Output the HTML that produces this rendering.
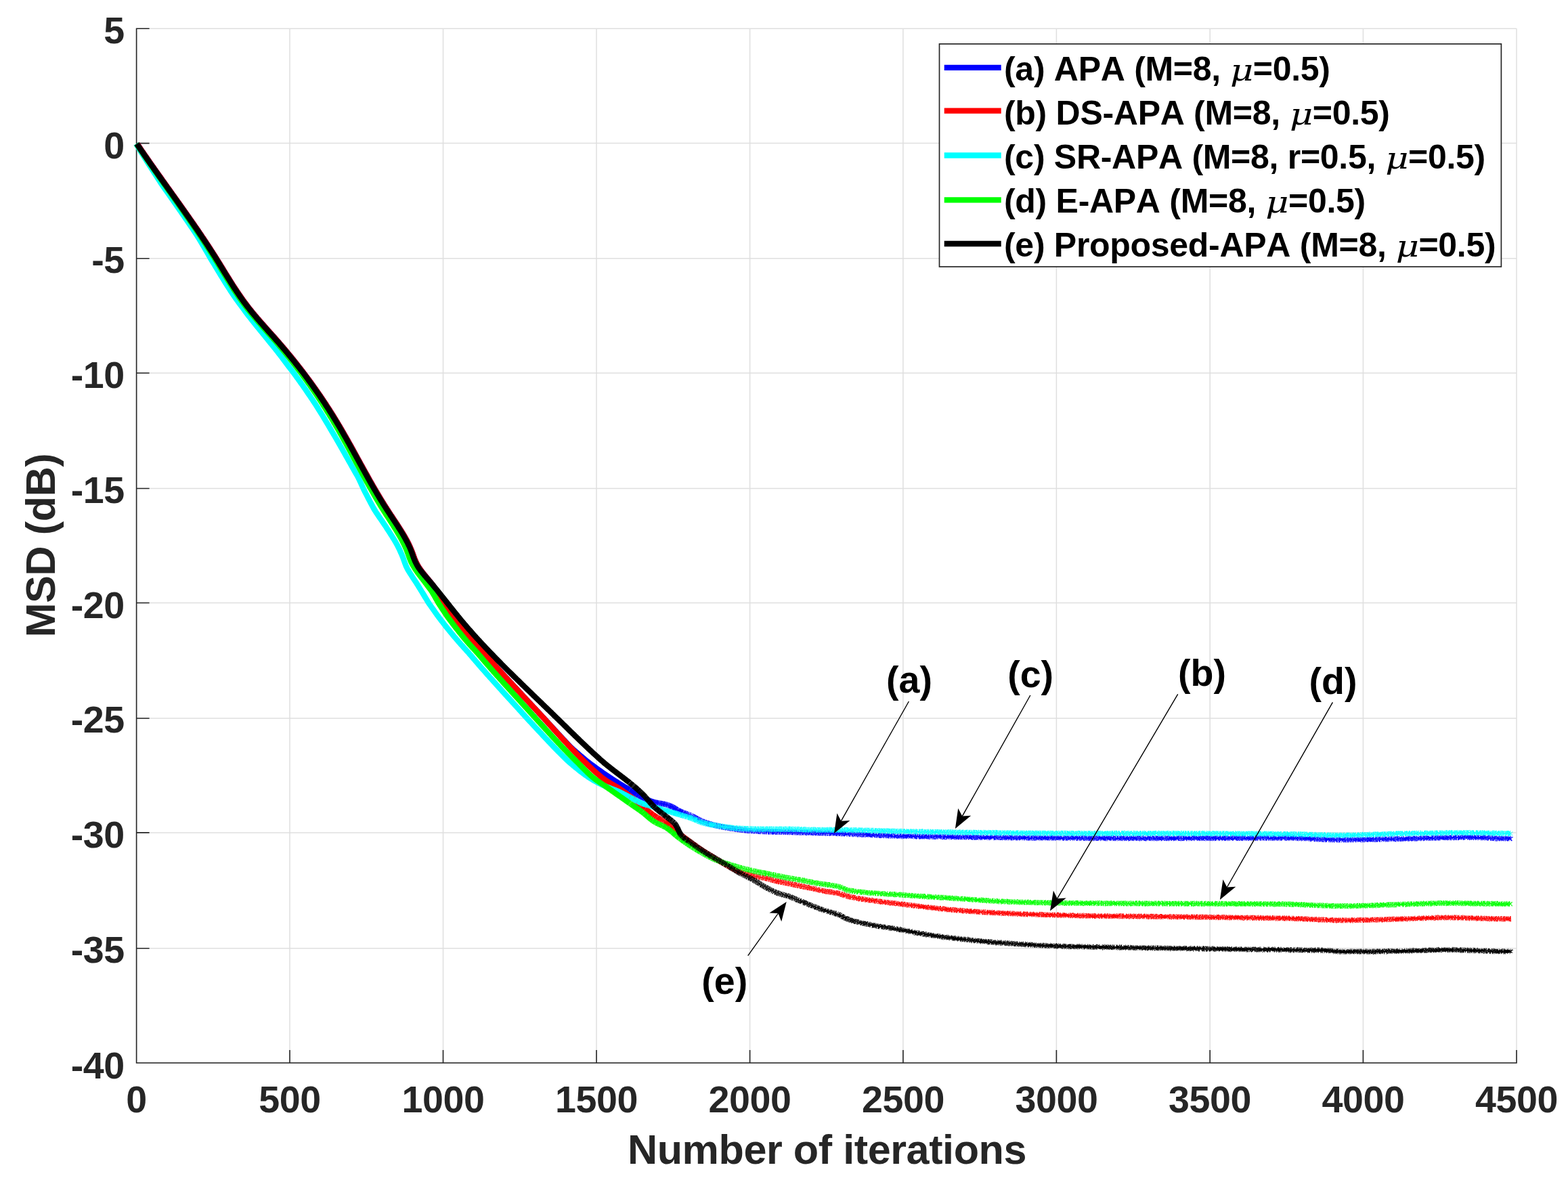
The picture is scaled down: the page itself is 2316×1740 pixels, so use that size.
<!DOCTYPE html>
<html lang="en"><head><meta charset="utf-8"><title>MSD learning curves</title>
<style>html,body{margin:0;padding:0;background:#fff}body{width:2316px;height:1740px;overflow:hidden}svg{display:block}text{font-family:"Liberation Sans",Arial,Helvetica,sans-serif;font-weight:bold}.tk{font-size:55.56px;fill:#262626;font-kerning:none;letter-spacing:-0.4px}.lb{font-size:61.1px;fill:#262626;font-kerning:none;letter-spacing:-0.42px}.lg{font-size:50px;fill:#000;font-kerning:none;letter-spacing:-0.29px;white-space:pre}.an{font-size:55.56px;fill:#000;font-kerning:none}.mu{font-family:"DejaVu Serif","Liberation Serif",serif;font-style:italic;font-weight:normal;font-size:44px;fill:#000}.cv{fill:none;stroke-width:8.3;stroke-linejoin:bevel;stroke-linecap:butt}.cn{fill:none;stroke-width:830;stroke-linecap:butt}</style></head><body>
<svg xmlns="http://www.w3.org/2000/svg" width="2316" height="1740" viewBox="0 0 2316 1740">
<rect width="2316" height="1740" fill="#fff"/>
<path d="M201.6,42.2V1570.0M428.0,42.2V1570.0M654.5,42.2V1570.0M881.0,42.2V1570.0M1107.6,42.2V1570.0M1333.9,42.2V1570.0M1560.4,42.2V1570.0M1787.2,42.2V1570.0M2013.4,42.2V1570.0M2240.0,42.2V1570.0M201.6,42.2H2240.0M201.6,211.6H2240.0M201.6,381.8H2240.0M201.6,551.0H2240.0M201.6,721.5H2240.0M201.6,890.5H2240.0M201.6,1061.0H2240.0M201.6,1229.9H2240.0M201.6,1400.7H2240.0M201.6,1570.0H2240.0" stroke="#dfdfdf" stroke-width="1.5" fill="none"/>
<path d="M201.6,41.4V1570.0H2240.8M201.6,1570.0v-19.0M428.0,1570.0v-19.0M654.5,1570.0v-19.0M881.0,1570.0v-19.0M1107.6,1570.0v-19.0M1333.9,1570.0v-19.0M1560.4,1570.0v-19.0M1787.2,1570.0v-19.0M2013.4,1570.0v-19.0M2240.0,1570.0v-19.0M201.6,42.2h19.0M201.6,211.6h19.0M201.6,381.8h19.0M201.6,551.0h19.0M201.6,721.5h19.0M201.6,890.5h19.0M201.6,1061.0h19.0M201.6,1229.9h19.0M201.6,1400.7h19.0M201.6,1570.0h19.0" stroke="#262626" stroke-width="1.6" fill="none"/>
<path class="cv" stroke="#0000ff" d="M202.6,212.5l1.5 2.2l1.5 2.2l1.5 2.2l1.5 2.2l1.5 2.2l1.5 2.2l1.5 2.2l1.5 2.1l1.5 2.2l1.5 2.2l1.5 2.1l1.5 2.2l1.5 2.1l1.5 2.2l1.5 2.1l1.5 2.1l1.5 2.1l1.5 2.2l1.5 2.1l1.5 2.1l1.5 2.1l1.5 2.1l1.5 2.1l1.5 2.1l1.5 2.2l1.5 2.1l1.5 2.1l1.5 2.1l1.5 2.1l1.5 2.1l1.5 2.1l1.5 2.1l1.5 2.1l1.5 2.1l1.5 2.1l1.5 2.1l1.5 2.1l1.5 2.1l1.5 2.1l1.5 2.1l1.5 2.1l1.5 2.1l1.5 2.1l1.5 2.1l1.5 2.1l1.5 2.2l1.5 2.1l1.5 2.1l1.5 2.1l1.5 2.2l1.5 2.1l1.5 2.2l1.5 2.1l1.5 2.2l1.5 2.1l1.5 2.2l1.5 2.2l1.5 2.1l1.5 2.2l1.5 2.2l1.5 2.2l1.5 2.2l1.5 2.2l1.5 2.3l1.5 2.2l1.5 2.2l1.5 2.3l1.5 2.2l1.5 2.3l1.5 2.3l1.5 2.3l1.5 2.3l1.5 2.3l1.5 2.3l1.5 2.4l1.5 2.3l1.5 2.4l1.5 2.4l1.5 2.4l1.5 2.4l1.5 2.4l1.5 2.4l1.5 2.5l1.5 2.4l1.5 2.5l1.5 2.4l1.5 2.5l1.5 2.4l1.5 2.4l1.5 2.4l1.5 2.4l1.5 2.4l1.5 2.4l1.5 2.4l1.5 2.3l1.5 2.3l1.5 2.3l1.5 2.3l1.5 2.2l1.5 2.3l1.5 2.1l1.5 2.2l1.5 2.1l1.5 2.2l1.5 2l1.5 2.1l1.5 2l1.5 2l1.5 2l1.5 1.9l1.5 1.9l1.5 1.9l1.5 1.8l1.5 1.9l1.5 1.8l1.5 1.8l1.5 1.7l1.5 1.8l1.5 1.8l1.5 1.7l1.5 1.7l1.5 1.7l1.5 1.7l1.5 1.7l1.5 1.7l1.5 1.7l1.5 1.7l1.5 1.7l1.5 1.7l1.5 1.6l1.5 1.7l1.5 1.7l1.5 1.7l1.5 1.6l1.5 1.7l1.5 1.7l1.5 1.7l1.5 1.7l1.5 1.7l1.5 1.8l1.5 1.7l1.5 1.7l1.5 1.8l1.5 1.7l1.5 1.8l1.5 1.8l1.5 1.8l1.5 1.8l1.5 1.8l1.5 1.8l1.5 1.8l1.5 1.8l1.5 1.9l1.5 1.8l1.5 1.9l1.5 1.9l1.5 1.9l1.5 1.9l1.5 1.9l1.5 1.9l1.5 1.9l1.5 2l1.5 1.9l1.5 2l1.5 2l1.5 2l1.5 2l1.5 2l1.5 2l1.5 2.1l1.5 2l1.5 2.1l1.5 2.1l1.5 2.1l1.5 2.1l1.5 2.1l1.5 2.2l1.5 2.1l1.5 2.2l1.5 2.2l1.5 2.2l1.5 2.2l1.5 2.2l1.5 2.3l1.5 2.2l1.5 2.3l1.5 2.3l1.5 2.3l1.5 2.3l1.5 2.4l1.5 2.4l1.5 2.3l1.5 2.4l1.5 2.5l1.5 2.4l1.5 2.5l1.5 2.4l1.5 2.5l1.5 2.5l1.5 2.6l1.5 2.5l1.5 2.6l1.5 2.6l1.5 2.6l1.5 2.6l1.5 2.7l1.5 2.6l1.5 2.7l1.5 2.7l1.5 2.6l1.5 2.7l1.5 2.7l1.5 2.8l1.5 2.7l1.5 2.7l1.5 2.7l1.5 2.8l1.5 2.7l1.5 2.7l1.5 2.8l1.5 2.7l1.5 2.7l1.5 2.7l1.5 2.7l1.5 2.7l1.5 2.7l1.5 2.7l1.5 2.7l1.5 2.7l1.5 2.6l1.5 2.6l1.5 2.7l1.5 2.6l1.5 2.5l1.5 2.6l1.5 2.6l1.5 2.5l1.5 2.5l1.5 2.5l1.5 2.5l1.5 2.4l1.5 2.5l1.5 2.4l1.5 2.4l1.5 2.3l1.5 2.4l1.5 2.3l1.5 2.3l1.5 2.3l1.5 2.3l1.5 2.2l1.5 2.3l1.5 2.3l1.5 2.2l1.5 2.3l1.5 2.3l1.5 2.3l1.5 2.3l1.5 2.4l1.5 2.4l1.5 2.4l1.5 2.5l1.5 2.5l1.5 2.6l1.5 2.7l1.5 2.8l1.5 2.9l1.5 3.1l1.5 3.3l1.5 3.5l1.5 3.9l1.5 4.1l1.5 4.2l1.5 3.7l1.5 3.3l1.5 2.8l1.5 2.6l1.5 2.3l1.5 2.1l1.5 2.1l1.5 2l1.5 1.9l1.5 1.9l1.5 1.8l1.5 1.8l1.5 1.8l1.5 1.9l1.5 1.8l1.5 1.8l1.5 1.9l1.5 1.9l1.5 2l1.5 2.2l1.5 2.4l1.5 2.4l1.5 2.4l1.5 2.4l1.5 2.4l1.5 2.4l1.5 2.5l1.5 2.4l1.5 2.4l1.5 2.5l1.5 2.4l1.5 2.5l1.5 2.4l1.5 2.5l1.5 2.4l1.5 2.4l1.5 2.3l1.5 2.1l1.5 1.9l1.5 2l1.5 1.9l1.5 1.8l1.5 1.9l1.5 1.9l1.5 1.8l1.5 1.8l1.5 1.8l1.5 1.8l1.5 1.8l1.5 1.8l1.5 1.8l1.5 1.7l1.5 1.8l1.5 1.7l1.5 1.7l1.5 1.8l1.5 1.6l1.5 1.7l1.5 1.7l1.5 1.7l1.5 1.6l1.5 1.7l1.5 1.6l1.5 1.6l1.5 1.6l1.5 1.6l1.5 1.6l1.5 1.7l1.5 1.6l1.5 1.7l1.5 1.7l1.5 1.7l1.5 1.7l1.5 1.8l1.5 1.7l1.5 1.7l1.5 1.6l1.5 1.7l1.5 1.7l1.5 1.7l1.5 1.6l1.5 1.7l1.5 1.7l1.5 1.6l1.5 1.7l1.5 1.6l1.5 1.7l1.5 1.6l1.5 1.7l1.5 1.6l1.5 1.6l1.5 1.7l1.5 1.6l1.5 1.6l1.5 1.6l1.5 1.6l1.5 1.7l1.5 1.6l1.5 1.6l1.5 1.6l1.5 1.6l1.5 1.6l1.5 1.6l1.5 1.6l1.5 1.6l1.5 1.7l1.5 1.6l1.5 1.6l1.5 1.6l1.5 1.6l1.5 1.6l1.5 1.6l1.5 1.6l1.5 1.6l1.5 1.6l1.5 1.6l1.5 1.6l1.5 1.6l1.5 1.6l1.5 1.6l1.5 1.6l1.5 1.6l1.5 1.7l1.5 1.6l1.5 1.6l1.5 1.6l1.5 1.6l1.5 1.6l1.5 1.7l1.5 1.6l1.5 1.6l1.5 1.7l1.5 1.6l1.5 1.6l1.5 1.7l1.5 1.6l1.5 1.6l1.5 1.7l1.5 1.6l1.5 1.6l1.5 1.6l1.5 1.7l1.5 1.6l1.5 1.6l1.5 1.6l1.5 1.6l1.5 1.6l1.5 1.6l1.5 1.6l1.5 1.6l1.5 1.6l1.5 1.6l1.5 1.5l1.5 1.5l1.5 1.5l1.5 1.4l1.5 1.4l1.5 1.3l1.5 1.3l1.5 1.2l1.5 1.3l1.5 1.3l1.5 1.3l1.5 1.3l1.5 1.2l1.5 1.3l1.5 1.3l1.5 1.3l1.5 1.2l1.5 1.2l1.5 1.2l1.5 1.1l1.5 1.2l1.5 1.1l1.5 1.1l1.5 1.1l1.5 1.1l1.5 1.1l1.5 1.1l1.5 1.1l1.5 1.1l1.5 1l1.5 1.1l1.5 1l1.5 1.1l1.5 1l1.5 1l1.5 1.1l1.5 1l1.5 1l1.5 1l1.5 1l1.5 1l1.5 1l1.5 1l1.5 .9l1.5 1l1.5 1l1.5 .9l1.5 1l1.5 .9l1.5 1l1.5 .9l1.5 .9l1.5 .9l1.5 .9l1.5 .9l1.5 .9l1.5 .8l1.5 .9l2.9 1.8"/>
<path class="cn" stroke="#0000ff" transform="scale(.01)" d="M93000,116655l45 27m0 0l46 27m0 0l45 28m0 0l45 28m0 0l45 28m0 0l46 28m0 0l45 29m0 0l45 28m0 0l46 29m0 0l45 28m0 0l45 29m0 0l46 29m0 0l45 29m0 0l45 29m0 0l45 29m0 0l46 29m0 0l45 29m0 0l45 29m0 0l46 29m0 0l45 28m0 0l45 29m0 0l46 29m0 0l45 28m0 0l45 27m0 0l45 28m0 0l46 28m0 0l45 28m0 0l45 27m0 0l46 27m0 0l45 27m0 0l45 26m0 0l46 26m0 0l45 26m0 0l45 25m0 0l45 25m0 0l46 24m0 0l45 23m0 0l45 24m0 0l46 23m0 0l45 22m0 0l45 22m0 0l46 22m0 0l45 21m0 0l45 22m0 0l45 22m0 0l46 21m0 0l45 21m0 0l45 22m0 0l46 21m0 0l45 21m0 0l45 20m0 0l45 21m0 0l46 20m0 0l45 21m0 0l45 19m0 0l46 21m0 0l45 19m0 0l45 19m0 0l46 20m0 0l45 19m0 0l45 19m0 0l45 17m0 0l46 19m0 0l45 19m0 0l45 17m0 0l46 18m0 0l45 17m0 0l45 16m0 0l46 18m0 0l45 17m0 0l45 14m0 0l45 16m0 0l46 16m0 0l45 15m0 0l45 15m0 0l46 13m0 0l45 13m0 0l45 14m0 0l46 13m0 0l45 14m0 0l45 11m0 0l45 10m0 0l46 12m0 0l45 13m0 0l45 10m0 0l46 9m0 0l45 10m0 0l45 10m0 0l46 9m0 0l45 10m0 0l45 8m0 0l45 8m0 0l46 8m0 0l45 9m0 0l45 4m0 0l46 10m0 0l45 8m0 0l45 6m0 0l45 9m0 0l46 7m0 0l45 9m0 0l45 6m0 0l46 9m0 0l45 8m0 0l45 6m0 0l46 7m0 0l45 7m0 0l45 12m0 0l45 6m0 0l46 8m0 0l45 9m0 0l45 9m0 0l46 11m0 0l45 8m0 0l45 10m0 0l46 9m0 0l45 13m0 0l45 9m0 0l45 13m0 0l46 13m0 0l45 9m0 0l45 12m0 0l46 18m0 0l45 17m0 0l45 10m0 0l46 16m0 0l45 19m0 0l45 15m0 0l45 18m0 0l46 18m0 0l45 20m0 0l45 18m0 0l46 20m0 0l45 19m0 0l45 19m0 0l45 21m0 0l46 20m0 0l45 23m0 0l45 19m0 0l46 22m0 0l45 26m0 0l45 20m0 0l46 25m0 0l45 26m0 0l45 26m0 0l45 27m0 0l46 30m0 0l45 29m0 0l45 27m0 0l46 32m0 0l45 28m0 0l45 29m0 0l46 30m0 0l45 30m0 0l45 32m0 0l45 23m0 0l46 30m0 0l45 22m0 0l45 29m0 0l46 25m0 0l45 20m0 0l45 21m0 0l46 23m0 0l45 22m0 0l45 21m0 0l45 22m0 0l46 16m0 0l45 18m0 0l45 20m0 0l46 18m0 0l45 19m0 0l45 18m0 0l46 18m0 0l45 13m0 0l45 23m0 0l45 14m0 0l46 16m0 0l45 21m0 0l45 18m0 0l46 15m0 0l45 16m0 0l45 14m0 0l45 26m0 0l46 11m0 0l45 12m0 0l45 17m0 0l46 19m0 0l45 13m0 0l45 21m0 0l46 15m0 0l45 22m0 0l45 17m0 0l45 7m0 0l46 26m0 0l45 13m0 0l45 26m0 0l46 16m0 0l45 21m0 0l45 14m0 0l46 29m0 0l45 20m0 0l45 11m0 0l45 26m0 0l46 18m0 0l45 24m0 0l45 19m0 0l46 33m0 0l45 14m0 0l45 25m0 0l46 27m0 0l45 20m0 0l45 25m0 0l45 23m0 0l46 26m0 0l45 21m0 0l45 28m0 0l46 25m0 0l45 25m0 0l45 26m0 0l46 23m0 0l45 29m0 0l45 20m0 0l45 26m0 0l46 22m0 0l45 24m0 0l45 21m0 0l46 31m0 0l45 17m0 0l45 25m0 0l45 27m0 0l46 22m0 0l45 19m0 0l45 15m0 0l46 31m0 0l45 20m0 0l45 13m0 0l46 28m0 0l45 13m0 0l45 17m0 0l45 22m0 0l46 16m0 0l45 19m0 0l45 8m0 0l46 32m0 0l45 5m0 0l45 12m0 0l46 25m0 0l45 12m0 0l45 18m0 0l45 12m0 0l46 17m0 0l45 16m0 0l45 10m0 0l46 21m0 0l45 9m0 0l45 13m0 0l46 18m0 0l45 16m0 0l45 10m0 0l45 11m0 0l46 20m0 0l45 2m0 0l45 17m0 0l46 18m0 0l45 6m0 0l45 19m0 0l46 12m0 0l45 18m0 0l45 3m0 0l45 13m0 0l46 17m0 0l45-3m0 0l45 41m0 0l46-8m0 0l45 11m0 0l45 20m0 0l45 7m0 0l46 1m0 0l45 25m0 0l45 12m0 0l46 3m0 0l45 12m0 0l45 15m0 0l46 3m0 0l45 18m0 0l45 9m0 0l45 5m0 0l46 6m0 0l45 17m0 0l45 6m0 0l46 20m0 0l45 5m0 0l45 13m0 0l46 6m0 0l45 10m0 0l45 3m0 0l45 18m0 0l46 16m0 0l45-3m0 0l45 7m0 0l46 11m0 0l45 7m0 0l45 8m0 0l46 14m0 0l45 6m0 0l45 19m0 0l45-1m0 0l46 11m0 0l45 12m0 0l45 1m0 0l46 19m0 0l45-5m0 0l45 7m0 0l46 11m0 0l45 9m0 0l45 0m0 0l45 17m0 0l46-3m0 0l45 28m0 0l45-2m0 0l46 4m0 0l45 6m0 0l45 11m0 0l45 9m0 0l46 2m0 0l45 8m0 0l45 13m0 0l46 5m0 0l45 18m0 0l45 9m0 0l46-1m0 0l45 11m0 0l45-6m0 0l45 21m0 0l46 3m0 0l45 11m0 0l45 15m0 0l46-21m0 0l45 25m0 0l45-3m0 0l46 20m0 0l45-8m0 0l45 13m0 0l45 12m0 0l46 10m0 0l45 2m0 0l45 0m0 0l46 8m0 0l45 18m0 0l45-1m0 0l46-6m0 0l45 25m0 0l45 3m0 0l45 9m0 0l46-3m0 0l45 15m0 0l45-9m0 0l46 18m0 0l45-3m0 0l45 15m0 0l45 8m0 0l46-8m0 0l45 11m0 0l45 6m0 0l46 14m0 0l45 2m0 0l45-11m0 0l46 19m0 0l45 8m0 0l45 17m0 0l45-27m0 0l46 15m0 0l45 21m0 0l45-18m0 0l46 6m0 0l45 20m0 0l45 9m0 0l46-10m0 0l45 16m0 0l45 1m0 0l45 16m0 0l46-8m0 0l45 13m0 0l45-12m0 0l46 11m0 0l45 5m0 0l45 15m0 0l46-1m0 0l45-8m0 0l45 17m0 0l45 5m0 0l46-4m0 0l45 2m0 0l45 5m0 0l46-11m0 0l45 21m0 0l45 4m0 0l46-7m0 0l45 18m0 0l45-16m0 0l45 10m0 0l46 4m0 0l45 26m0 0l45-31m0 0l46 23m0 0l45 7m0 0l45-3m0 0l45 11m0 0l46-19m0 0l45-10m0 0l45 33m0 0l46-17m0 0l45 11m0 0l45-6m0 0l46 25m0 0l45 0m0 0l45-13m0 0l45 18m0 0l46-5m0 0l45-1m0 0l45 5m0 0l46-1m0 0l45 11m0 0l45-1m0 0l46-5m0 0l45 16m0 0l45-15m0 0l45 12m0 0l46 3m0 0l45 13m0 0l45-19m0 0l46 26m0 0l45-15m0 0l45-2m0 0l46-3m0 0l45 15m0 0l45-4m0 0l45-11m0 0l46 1m0 0l45 8m0 0l45 0m0 0l46 21m0 0l45 5m0 0l45-4m0 0l46-4m0 0l45-7m0 0l45 7m0 0l45 10m0 0l46 16m0 0l45-12m0 0l45-12m0 0l46 4m0 0l45-4m0 0l45-2m0 0l45 8m0 0l46 6m0 0l45 20m0 0l45-19m0 0l46 16m0 0l45 6m0 0l45-18m0 0l46 19m0 0l45-9m0 0l45-12m0 0l45 9m0 0l46-2m0 0l45-2m0 0l45 2m0 0l46 5m0 0l45 5m0 0l45-15m0 0l46 12m0 0l45-17m0 0l45 22m0 0l45 6m0 0l46-5m0 0l45 3m0 0l45 5m0 0l46-15m0 0l45 7m0 0l45 10m0 0l46 7m0 0l45-6m0 0l45 28m0 0l45-32m0 0l46 15m0 0l45 4m0 0l45-17m0 0l46-7m0 0l45-4m0 0l45 18m0 0l46 14m0 0l45-10m0 0l45 0m0 0l45-6m0 0l46 13m0 0l45-34m0 0l45 32m0 0l46-2m0 0l45-17m0 0l45 47m0 0l45-46m0 0l46 6m0 0l45-1m0 0l45 32m0 0l46-26m0 0l45 22m0 0l45 0m0 0l46-3m0 0l45-20m0 0l45 10m0 0l45 33m0 0l46-40m0 0l45 8m0 0l45 10m0 0l46 15m0 0l45-7m0 0l45 8m0 0l46-24m0 0l45 29m0 0l45-4m0 0l45-29m0 0l46 46m0 0l45 11m0 0l45-41m0 0l46 13m0 0l45 20m0 0l45-40m0 0l46-6m0 0l45 11m0 0l45 12m0 0l45 1m0 0l46 18m0 0l45-3m0 0l45-21m0 0l46 27m0 0l45 21m0 0l45-9m0 0l46-2m0 0l45-13m0 0l45 16m0 0l45-28m0 0l46 27m0 0l45-11m0 0l45 19m0 0l46-8m0 0l45-22m0 0l45 19m0 0l45 18m0 0l46-34m0 0l45 10m0 0l45-2m0 0l46-10m0 0l45 39m0 0l45 6m0 0l46-6m0 0l45-8m0 0l45-3m0 0l45 6m0 0l46-14m0 0l45 27m0 0l45 3m0 0l46 0m0 0l45-22m0 0l45 11m0 0l46-2m0 0l45 32m0 0l45-24m0 0l45-32m0 0l46 38m0 0l45 24m0 0l45-17m0 0l46 4m0 0l45-12m0 0l45-31m0 0l46 4m0 0l45 10m0 0l45 20m0 0l45 8m0 0l46 7m0 0l45-15m0 0l45 22m0 0l46-19m0 0l45-5m0 0l45 26m0 0l45-27m0 0l46-29m0 0l45 29m0 0l45 20m0 0l46-51m0 0l45 46m0 0l45 2m0 0l46-17m0 0l45 0m0 0l45 18m0 0l45 0m0 0l46 32m0 0l45-14m0 0l45-31m0 0l46 13m0 0l45 28m0 0l45 21m0 0l46-24m0 0l45 0m0 0l45 28m0 0l45-31m0 0l46-4m0 0l45-18m0 0l45 17m0 0l46 48m0 0l45-61m0 0l45 26m0 0l46-24m0 0l45 28m0 0l45 15m0 0l45-19m0 0l46 18m0 0l45 1m0 0l45-3m0 0l46 23m0 0l45-15m0 0l45-18m0 0l46-5m0 0l45-2m0 0l45 25m0 0l45-13m0 0l46 55m0 0l45-14m0 0l45-36m0 0l46-1m0 0l45 38m0 0l45-63m0 0l45 27m0 0l46 26m0 0l45-32m0 0l45 9m0 0l46 3m0 0l45 20m0 0l45-8m0 0l46 6m0 0l45 4m0 0l45-9m0 0l45 21m0 0l46-32m0 0l45-12m0 0l45-5m0 0l46 4m0 0l45 21m0 0l45 31m0 0l46-15m0 0l45-13m0 0l45-8m0 0l45 12m0 0l46 3m0 0l45-2m0 0l45-15m0 0l46 20m0 0l45 29m0 0l45-59m0 0l46 38m0 0l45-35m0 0l45 46m0 0l45-17m0 0l46-24m0 0l45 43m0 0l45 34m0 0l46-31m0 0l45 21m0 0l45-22m0 0l46-39m0 0l45 53m0 0l45-17m0 0l45-18m0 0l46 45m0 0l45-9m0 0l45-14m0 0l46 29m0 0l45-33m0 0l45 31m0 0l45-30m0 0l46 31m0 0l45-31m0 0l45 53m0 0l46-23m0 0l45 25m0 0l45-43m0 0l46 8m0 0l45 28m0 0l45-70m0 0l45 35m0 0l46 44m0 0l45-10m0 0l45 12m0 0l46-24m0 0l45 19m0 0l45-25m0 0l46-11m0 0l45-5m0 0l45 25m0 0l45 2m0 0l46 0m0 0l45-58m0 0l45 33m0 0l46 32m0 0l45 19m0 0l45-16m0 0l46-5m0 0l45-27m0 0l45 91m0 0l45-63m0 0l46 60m0 0l45-1m0 0l45-25m0 0l46-16m0 0l45 17m0 0l45-25m0 0l46 32m0 0l45-4m0 0l45 13m0 0l45 11m0 0l46 18m0 0l45-42m0 0l45 32m0 0l46-37m0 0l45 0m0 0l45 8m0 0l45-6m0 0l46 43m0 0l45 1m0 0l45 10m0 0l46-26m0 0l45 9m0 0l45-17m0 0l46-10m0 0l45 36m0 0l45-1m0 0l45-28m0 0l46 39m0 0l45-49m0 0l45 36m0 0l46-7m0 0l45 4m0 0l45-10m0 0l46 46m0 0l45-6m0 0l45 16m0 0l45-21m0 0l46-30m0 0l45 23m0 0l45-16m0 0l46 38m0 0l45 19m0 0l45-17m0 0l46-19m0 0l45 7m0 0l45 15m0 0l45-34m0 0l46 37m0 0l45 3m0 0l45-14m0 0l46 5m0 0l45 15m0 0l45-20m0 0l46 2m0 0l45 38m0 0l45-10m0 0l45 35m0 0l46-58m0 0l45-16m0 0l45 64m0 0l46 2m0 0l45-36m0 0l45-14m0 0l45 34m0 0l46-37m0 0l45 35m0 0l45-40m0 0l46 46m0 0l45-41m0 0l45 45m0 0l46 43m0 0l45-39m0 0l45 26m0 0l45-30m0 0l46-4m0 0l45-12m0 0l45 61m0 0l46-24m0 0l45 42m0 0l45-63m0 0l46 24m0 0l45 9m0 0l45 33m0 0l45 12m0 0l46-56m0 0l45-9m0 0l45-12m0 0l46 74m0 0l45-31m0 0l45-11m0 0l46 16m0 0l45-58m0 0l45 22m0 0l45 65m0 0l46-10m0 0l45-4m0 0l45-26m0 0l46 40m0 0l45 31m0 0l45-70m0 0l45 32m0 0l46-9m0 0l45 21m0 0l45-6m0 0l46-2m0 0l45-16m0 0l45 23m0 0l46-13m0 0l45 14m0 0l45 4m0 0l45 19m0 0l46-28m0 0l45 8m0 0l45 36m0 0l46-30m0 0l45 1m0 0l45 30m0 0l46-13m0 0l45-3m0 0l45 5m0 0l45-34m0 0l46 44m0 0l45 23m0 0l45-16m0 0l46-51m0 0l45 47m0 0l45-28m0 0l46 19m0 0l45 11m0 0l45-32m0 0l45 65m0 0l46-33m0 0l45 23m0 0l45-2m0 0l46 20m0 0l45-2m0 0l45-66m0 0l46 40m0 0l45-54m0 0l45 45m0 0l45 31m0 0l46 7m0 0l45 11m0 0l45-41m0 0l46 19m0 0l45-4m0 0l45 32m0 0l45 9m0 0l46-48m0 0l45 108m0 0l45-96m0 0l46-8m0 0l45 26m0 0l45 6m0 0l46-4m0 0l45-30m0 0l45 57m0 0l45-36m0 0l46 40m0 0l45-2m0 0l45-68m0 0l46 9m0 0l45 0m0 0l45 34m0 0l46-4m0 0l45 7m0 0l45-27m0 0l45 34m0 0l46 27m0 0l45-71m0 0l45 31m0 0l46 13m0 0l45-9m0 0l45-1m0 0l46 53m0 0l45-11m0 0l45-11m0 0l45-42m0 0l46 81m0 0l45-49m0 0l45-24m0 0l46 7m0 0l45-3m0 0l45 71m0 0l46-51m0 0l45-3m0 0l45-58m0 0l45 78m0 0l46-47m0 0l45-1m0 0l45 48m0 0l46-39m0 0l45 47m0 0l45 8m0 0l45-78m0 0l46 46m0 0l45-39m0 0l45 43m0 0l46 27m0 0l45-61m0 0l45 87m0 0l46-57m0 0l45-23m0 0l45 30m0 0l45 26m0 0l46-59m0 0l45 39m0 0l45-37m0 0l46 72m0 0l45-28m0 0l45-16m0 0l46 42m0 0l45-64m0 0l45 26m0 0l45 63m0 0l46-54m0 0l45 42m0 0l45-31m0 0l46-25m0 0l45 14m0 0l45 10m0 0l46-13m0 0l45-11m0 0l45 2m0 0l45-19m0 0l46 46m0 0l45 9m0 0l45 10m0 0l46-70m0 0l45 74m0 0l45-23m0 0l46-38m0 0l45 43m0 0l45 21m0 0l45-7m0 0l46 6m0 0l45 7m0 0l45 0m0 0l46-26m0 0l45-56m0 0l45 38m0 0l45 32m0 0l46-23m0 0l45 34m0 0l45 4m0 0l46-21m0 0l45 52m0 0l45-79m0 0l46 55m0 0l45-39m0 0l45-8m0 0l45 39m0 0l46-33m0 0l45 42m0 0l45-55m0 0l46 34m0 0l45-24m0 0l45 18m0 0l46-3m0 0l45-20m0 0l45 50m0 0l45-52m0 0l46 8m0 0l45 53m0 0l45 3m0 0l46-8m0 0l45-8m0 0l45 55m0 0l46-97m0 0l45 14m0 0l45-6m0 0l45 54m0 0l46-17m0 0l45 24m0 0l45-3m0 0l46-33m0 0l45-16m0 0l45-4m0 0l46 91m0 0l45-34m0 0l45-10m0 0l45-26m0 0l46 5m0 0l45-3m0 0l45 1m0 0l46-57m0 0l45 66m0 0l45-8m0 0l45 19m0 0l46-1m0 0l45 19m0 0l45-24m0 0l46 23m0 0l45-93m0 0l45 42m0 0l46 80m0 0l45-82m0 0l45 27m0 0l45 28m0 0l46-44m0 0l45 46m0 0l45-59m0 0l46-13m0 0l45 17m0 0l45-9m0 0l46 47m0 0l45-8m0 0l45 19m0 0l45-37m0 0l46 101m0 0l45-74m0 0l45 2m0 0l46 15m0 0l45-19m0 0l45-10m0 0l46 21m0 0l45 24m0 0l45-6m0 0l45 8m0 0l46-41m0 0l45-6m0 0l45 79m0 0l46-62m0 0l45 20m0 0l45 8m0 0l45 20m0 0l46-77m0 0l45 25m0 0l45 2m0 0l46 5m0 0l45-59m0 0l45 66m0 0l46-78m0 0l45 90m0 0l45 8m0 0l45 2m0 0l46-50m0 0l45 61m0 0l45-50m0 0l46-9m0 0l45 7m0 0l45 5m0 0l46 29m0 0l45 19m0 0l45-82m0 0l45 45m0 0l46 41m0 0l45-19m0 0l45 9m0 0l46-55m0 0l45 69m0 0l45-70m0 0l46 50m0 0l45 33m0 0l45 16m0 0l45-38m0 0l46 11m0 0l45-41m0 0l45 4m0 0l46 47m0 0l45-32m0 0l45-3m0 0l46-35m0 0l45 44m0 0l45 14m0 0l45-39m0 0l46 8m0 0l45 59m0 0l45-38m0 0l46-13m0 0l45-23m0 0l45 15m0 0l45 11m0 0l46 46m0 0l45-55m0 0l45 68m0 0l46-75m0 0l45 16m0 0l45 35m0 0l46-30m0 0l45-16m0 0l45 20m0 0l45 17m0 0l46-60m0 0l45 42m0 0l45 4m0 0l46-8m0 0l45 33m0 0l45-36m0 0l46 6m0 0l45 12m0 0l45 20m0 0l45-26m0 0l46 49m0 0l45-67m0 0l45 62m0 0l46-59m0 0l45 20m0 0l45 15m0 0l46 48m0 0l45-32m0 0l45-36m0 0l45 48m0 0l46-41m0 0l45-16m0 0l45 35m0 0l46-9m0 0l45 25m0 0l45-42m0 0l46 27m0 0l45 7m0 0l45-9m0 0l45-8m0 0l46-18m0 0l45 45m0 0l45-21m0 0l46 11m0 0l45-23m0 0l45 10m0 0l45-28m0 0l46 32m0 0l45 19m0 0l45-18m0 0l46 22m0 0l45-15m0 0l45 30m0 0l46-43m0 0l45-40m0 0l45 59m0 0l45-17m0 0l46-22m0 0l45 46m0 0l45-10m0 0l46 6m0 0l45-22m0 0l45 16m0 0l46 2m0 0l45 43m0 0l45-68m0 0l45 19m0 0l46 11m0 0l45-58m0 0l45 4m0 0l46 106m0 0l45-110m0 0l45 67m0 0l46-40m0 0l45 3m0 0l45-34m0 0l45 31m0 0l46 48m0 0l45-60m0 0l45 56m0 0l46-8m0 0l45 49m0 0l45-70m0 0l46 49m0 0l45-10m0 0l45-32m0 0l45-38m0 0l46 89m0 0l45-80m0 0l45 26m0 0l46 38m0 0l45 7m0 0l45-54m0 0l45 23m0 0l46-6m0 0l45 41m0 0l45 37m0 0l46-120m0 0l45 77m0 0l45-105m0 0l46 81m0 0l45-31m0 0l45 87m0 0l45-51m0 0l46-24m0 0l45 7m0 0l45-2m0 0l46 22m0 0l45-9m0 0l45 23m0 0l46 25m0 0l45-23m0 0l45-53m0 0l45-11m0 0l46 25m0 0l45 51m0 0l45-39m0 0l46-9m0 0l45 23m0 0l45-43m0 0l46 9m0 0l45 46m0 0l45-22m0 0l45-4m0 0l46 22m0 0l45-25m0 0l45-2m0 0l46 7m0 0l45 30m0 0l45-15m0 0l46-35m0 0l45 26m0 0l45 27m0 0l45 35m0 0l46-84m0 0l45 42m0 0l45-17m0 0l46 31m0 0l45-10m0 0l45 29m0 0l45-26m0 0l46-30m0 0l45 1m0 0l45 27m0 0l46 0m0 0l45 56m0 0l45-19m0 0l46-80m0 0l45 43m0 0l45-46m0 0l45-9m0 0l46 68m0 0l45-5m0 0l45-45m0 0l46 76m0 0l45-73m0 0l45-5m0 0l46 51m0 0l45-11m0 0l45-11m0 0l45 3m0 0l46 9m0 0l45-10m0 0l45 0m0 0l46-48m0 0l45 16m0 0l45 55m0 0l46-37m0 0l45 36m0 0l45 19m0 0l45-44m0 0l46 19m0 0l45 50m0 0l45-38m0 0l46 32m0 0l45-8m0 0l45-21m0 0l45-24m0 0l46-20m0 0l45-8m0 0l45 46m0 0l46-1m0 0l45-17m0 0l45 29m0 0l46-40m0 0l45 48m0 0l45-30m0 0l45-2m0 0l46 2m0 0l45-3m0 0l45 73m0 0l46-114m0 0l45 50m0 0l45 30m0 0l46-14m0 0l45-28m0 0l45 57m0 0l45-78m0 0l46-6m0 0l45 53m0 0l45-57m0 0l46-25m0 0l45 91m0 0l45-3m0 0l46 0m0 0l45-34m0 0l45 19m0 0l45-32m0 0l46 76m0 0l45-26m0 0l45-1m0 0l46-75m0 0l45 78m0 0l45 19m0 0l46-7m0 0l45-12m0 0l45-22m0 0l45-9m0 0l46 27m0 0l45-6m0 0l45-4m0 0l46-15m0 0l45 56m0 0l45-79m0 0l45 32m0 0l46-15m0 0l45 45m0 0l45 12m0 0l46-5m0 0l45-13m0 0l45-61m0 0l46 98m0 0l45-43m0 0l45-17m0 0l45 4m0 0l46-10m0 0l45 21m0 0l45-2m0 0l46-19m0 0l45-62m0 0l45 72m0 0l46 14m0 0l45 2m0 0l45-19m0 0l45 18m0 0l46 16m0 0l45-42m0 0l45 55m0 0l46-96m0 0l45 20m0 0l45 10m0 0l46-43m0 0l45 41m0 0l45 63m0 0l45 0m0 0l46-31m0 0l45 45m0 0l45-41m0 0l46-20m0 0l45 21m0 0l45-11m0 0l46 25m0 0l45-62m0 0l45 70m0 0l45-41m0 0l46 38m0 0l45-67m0 0l45 31m0 0l46 15m0 0l45 23m0 0l45-59m0 0l45 81m0 0l46-33m0 0l45-28m0 0l45 49m0 0l46-31m0 0l45 30m0 0l45 33m0 0l46-44m0 0l45-36m0 0l45 3m0 0l45 29m0 0l46-8m0 0l45-31m0 0l45 5m0 0l46 37m0 0l45 47m0 0l45-139m0 0l46 94m0 0l45-26m0 0l45 28m0 0l45 3m0 0l46-22m0 0l45-30m0 0l45-11m0 0l46-13m0 0l45 87m0 0l45-40m0 0l46-9m0 0l45 8m0 0l45-30m0 0l45 47m0 0l46 28m0 0l45-5m0 0l45-75m0 0l46 82m0 0l45-59m0 0l45-32m0 0l46 19m0 0l45 8m0 0l45 27m0 0l45-29m0 0l46-13m0 0l45 35m0 0l45 62m0 0l46-74m0 0l45 33m0 0l45-10m0 0l45 72m0 0l46-127m0 0l45 84m0 0l45-67m0 0l46 20m0 0l45 14m0 0l45 92m0 0l46-110m0 0l45-32m0 0l45 90m0 0l45-60m0 0l46 17m0 0l45 6m0 0l45 4m0 0l46-7m0 0l45 12m0 0l45 4m0 0l46 13m0 0l45-36m0 0l45-9m0 0l45-8m0 0l46 46m0 0l45-17m0 0l45 17m0 0l46-1m0 0l45 33m0 0l45-42m0 0l46 16m0 0l45-55m0 0l45 4m0 0l45 22m0 0l46-25m0 0l45 53m0 0l45-56m0 0l46 39m0 0l45-70m0 0l45 38m0 0l46 21m0 0l45 3m0 0l45-43m0 0l45 53m0 0l46 25m0 0l45-9m0 0l45-36m0 0l46 2m0 0l45-17m0 0l45 51m0 0l45 23m0 0l46-55m0 0l45-32m0 0l45 53m0 0l46 14m0 0l45-96m0 0l45 81m0 0l46 57m0 0l45-38m0 0l45-7m0 0l45-4m0 0l46 19m0 0l45-56m0 0l45 3m0 0l46 35m0 0l45-31m0 0l45 27m0 0l46-61m0 0l45 75m0 0l45 3m0 0l45-22m0 0l46 3m0 0l45 41m0 0l45-75m0 0l46 5m0 0l45-5m0 0l45 19m0 0l46-17m0 0l45 30m0 0l45-19m0 0l45-22m0 0l46-3m0 0l45 78m0 0l45-36m0 0l46-4m0 0l45 7m0 0l45-3m0 0l45 24m0 0l46-5m0 0l45-33m0 0l45-6m0 0l46-7m0 0l45-5m0 0l45 75m0 0l46-65m0 0l45-30m0 0l45 33m0 0l45 1m0 0l46 32m0 0l45-34m0 0l45 40m0 0l46-4m0 0l45 25m0 0l45 25m0 0l46 19m0 0l45-41m0 0l45-71m0 0l45 22m0 0l46 18m0 0l45 51m0 0l45-38m0 0l46 14m0 0l45-38m0 0l45 22m0 0l46 3m0 0l45-32m0 0l45 34m0 0l45 9m0 0l46-34m0 0l45 33m0 0l45 17m0 0l46-44m0 0l45-1m0 0l45-9m0 0l46-8m0 0l45 21m0 0l45-15m0 0l45 3m0 0l46-13m0 0l45-21m0 0l45 17m0 0l46 35m0 0l45-42m0 0l45 15m0 0l45 64m0 0l46-14m0 0l45-51m0 0l45 37m0 0l46-35m0 0l45 64m0 0l45-62m0 0l46 19m0 0l45 37m0 0l45-62m0 0l45 60m0 0l46-60m0 0l45 30m0 0l45-15m0 0l46 6m0 0l45 7m0 0l45-6m0 0l46-26m0 0l45 52m0 0l45-3m0 0l45 16m0 0l46 2m0 0l45-76m0 0l45 74m0 0l46 0m0 0l45-51m0 0l45 44m0 0l46 13m0 0l45-56m0 0l45-24m0 0l45 29m0 0l46 88m0 0l45-71m0 0l45-41m0 0l46 27m0 0l45-20m0 0l45 17m0 0l46 13m0 0l45-74m0 0l45 82m0 0l45 30m0 0l46-45m0 0l45-5m0 0l45 41m0 0l46-66m0 0l45 1m0 0l45-4m0 0l45 35m0 0l46 15m0 0l45-13m0 0l45 18m0 0l46 8m0 0l45-9m0 0l45-37m0 0l46 15m0 0l45 43m0 0l45-64m0 0l45 22m0 0l46-4m0 0l45 6m0 0l45-25m0 0l46-7m0 0l45 109m0 0l45-45m0 0l46-46m0 0l45 19m0 0l45 20m0 0l45-28m0 0l46 27m0 0l45-35m0 0l45 8m0 0l46 7m0 0l45-10m0 0l45-56m0 0l46 70m0 0l45 7m0 0l45 6m0 0l45-41m0 0l46 37m0 0l45-3m0 0l45-56m0 0l46-12m0 0l45 75m0 0l45-40m0 0l46 55m0 0l45 32m0 0l45-76m0 0l45-3m0 0l46 19m0 0l45 19m0 0l45-50m0 0l46 67m0 0l45-8m0 0l45-9m0 0l45-33m0 0l46 41m0 0l45-2m0 0l45-57m0 0l46 92m0 0l45-67m0 0l45 19m0 0l46-25m0 0l45 25m0 0l45 22m0 0l45-55m0 0l46-24m0 0l45 34m0 0l45-24m0 0l46 16m0 0l45 17m0 0l45 2m0 0l46 38m0 0l45-64m0 0l45 38m0 0l45-24m0 0l46 53m0 0l45 32m0 0l45-62m0 0l46 38m0 0l45-61m0 0l45-30m0 0l46 9m0 0l45-8m0 0l45 17m0 0l45 20m0 0l46 39m0 0l45-12m0 0l45-7m0 0l46-25m0 0l45-8m0 0l45 21m0 0l46 3m0 0l45 3m0 0l45 4m0 0l45-14m0 0l46-51m0 0l45 23m0 0l45 8m0 0l46 71m0 0l45-59m0 0l45 30m0 0l45 23m0 0l46-32m0 0l45-20m0 0l45 2m0 0l46-20m0 0l45 37m0 0l45 23m0 0l46-15m0 0l45 5m0 0l45-1m0 0l45 36m0 0l46-74m0 0l45 22m0 0l45 16m0 0l46 15m0 0l45-103m0 0l45 53m0 0l46 9m0 0l45-23m0 0l45 53m0 0l45-18m0 0l46-17m0 0l45-35m0 0l45 9m0 0l46 9m0 0l45 41m0 0l45-47m0 0l46-24m0 0l45 17m0 0l45 24m0 0l45 64m0 0l46 23m0 0l45-84m0 0l45 40m0 0l46 13m0 0l45-3m0 0l45-39m0 0l45-34m0 0l46 23m0 0l45-38m0 0l45 59m0 0l46 15m0 0l45-75m0 0l45 51m0 0l46 10m0 0l45 27m0 0l45 3m0 0l45-16m0 0l46-42m0 0l45 9m0 0l45 44m0 0l46-50m0 0l45 15m0 0l45 45m0 0l46-40m0 0l45-42m0 0l45 30m0 0l45 26m0 0l46-23m0 0l45 38m0 0l45 3m0 0l46-54m0 0l45 4m0 0l45 11m0 0l46-30m0 0l45 44m0 0l45-16m0 0l45 27m0 0l46-39m0 0l45-8m0 0l45 76m0 0l46-76m0 0l45 8m0 0l45-4m0 0l46 12m0 0l45-17m0 0l45 24m0 0l45-18m0 0l46 8m0 0l45 22m0 0l45 9m0 0l46-7m0 0l45-33m0 0l45 31m0 0l45-14m0 0l46 0m0 0l45-45m0 0l45 67m0 0l46-23m0 0l45 52m0 0l45-30m0 0l46-50m0 0l45-7m0 0l45 71m0 0l45-57m0 0l46 44m0 0l45-28m0 0l45 67m0 0l46-57m0 0l45 41m0 0l45-6m0 0l46-50m0 0l45 4m0 0l45 50m0 0l45-41m0 0l46-24m0 0l45 58m0 0l45 38m0 0l46-73m0 0l45 40m0 0l45-44m0 0l46 43m0 0l45-45m0 0l45 44m0 0l45-22m0 0l46-20m0 0l45 11m0 0l45-21m0 0l46-17m0 0l45 2m0 0l45 28m0 0l46-28m0 0l45 42m0 0l45 2m0 0l45-1m0 0l46-27m0 0l45 15m0 0l45-2m0 0l46 37m0 0l45-59m0 0l45 11m0 0l45 5m0 0l46 2m0 0l45-17m0 0l45 3m0 0l46 46m0 0l45-46m0 0l45 43m0 0l46 32m0 0l45-22m0 0l45-86m0 0l45 72m0 0l46-8m0 0l45 1m0 0l45-61m0 0l46 67m0 0l45-52m0 0l45 67m0 0l46-7m0 0l45 42m0 0l45-83m0 0l45-32m0 0l46 72m0 0l45-5m0 0l45-35m0 0l46 49m0 0l45-19m0 0l45-56m0 0l46 26m0 0l45-2m0 0l45 9m0 0l45 8m0 0l46-25m0 0l45 14m0 0l45 22m0 0l46-19m0 0l45-5m0 0l45-1m0 0l46 5m0 0l45-51m0 0l45 58m0 0l45-33m0 0l46 31m0 0l45-44m0 0l45 67m0 0l46-19m0 0l45-45m0 0l45 44m0 0l45-28m0 0l46 72m0 0l45-37m0 0l45-36m0 0l46 29m0 0l45-8m0 0l45 35m0 0l46-24m0 0l45 4m0 0l45-46m0 0l45 54m0 0l46 36m0 0l45-41m0 0l45-19m0 0l46 6m0 0l45-32m0 0l45 32m0 0l46-36m0 0l45 32m0 0l45-12m0 0l45-13m0 0l46 40m0 0l45-59m0 0l45 41m0 0l46-36m0 0l45 88m0 0l45 4m0 0l46-32m0 0l45 30m0 0l45-37m0 0l45-2m0 0l46-27m0 0l45-13m0 0l45 28m0 0l46-18m0 0l45 2m0 0l45 33m0 0l46-24m0 0l45-41m0 0l45 38m0 0l45-16m0 0l46 13m0 0l45-22m0 0l45 64m0 0l46 19m0 0l45-84m0 0l45 49m0 0l45-2m0 0l46-46m0 0l45 32m0 0l45 37m0 0l46-16m0 0l45 21m0 0l45-78m0 0l46 12m0 0l45 29m0 0l45 1m0 0l45-9m0 0l46-12m0 0l45-1m0 0l45-5m0 0l46 29m0 0l45-90m0 0l45 122m0 0l46-60m0 0l45-25m0 0l45 55m0 0l45-55m0 0l46 50m0 0l45-22m0 0l45 28m0 0l46 5m0 0l45 14m0 0l45-50m0 0l46 5m0 0l45 8m0 0l45-39m0 0l45 56m0 0l46-14m0 0l45-41m0 0l45 71m0 0l46 5m0 0l45-76m0 0l45 53m0 0l45 19m0 0l46-12m0 0l45-51m0 0l45-12m0 0l46 36m0 0l45-11m0 0l45 14m0 0l46-3m0 0l45 18m0 0l45-31m0 0l45 11m0 0l46 87m0 0l45-86m0 0l45 24m0 0l46-13m0 0l45-2m0 0l45-32m0 0l46 40m0 0l45-16m0 0l45 24m0 0l45 34m0 0l46-52m0 0l45 16m0 0l45-50m0 0l46 32m0 0l45 40m0 0l45-46m0 0l46-16m0 0l45 24m0 0l45-11m0 0l45-2m0 0l46-4m0 0l45 66m0 0l45-80m0 0l46 12m0 0l45-4m0 0l45 50m0 0l46-42m0 0l45 44m0 0l45-32m0 0l45-5m0 0l46-41m0 0l45 75m0 0l45-19m0 0l46-4m0 0l45-15m0 0l45-8m0 0l45-24m0 0l46 62m0 0l45-19m0 0l45-18m0 0l46-8m0 0l45 21m0 0l45-6m0 0l46 48m0 0l45-24m0 0l45-38m0 0l45-15m0 0l46 24m0 0l45-19m0 0l45 28m0 0l46 9m0 0l45 6m0 0l45-6m0 0l46-17m0 0l45 22m0 0l45-42m0 0l45 23m0 0l46 25m0 0l45-15m0 0l45-44m0 0l46 3m0 0l45-13m0 0l45 96m0 0l46-94m0 0l45 39m0 0l45 56m0 0l45-22m0 0l46 7m0 0l45-51m0 0l45 34m0 0l46 65m0 0l45-86m0 0l45 12m0 0l46-20m0 0l45 8m0 0l45 11m0 0l45 28m0 0l46-64m0 0l45-15m0 0l45 40m0 0l46 5m0 0l45 34m0 0l45-19m0 0l45-38m0 0l46 33m0 0l45 15m0 0l45-23m0 0l46-18m0 0l45 29m0 0l45-29m0 0l46-43m0 0l45 90m0 0l45-74m0 0l45 27m0 0l46 0m0 0l45 0m0 0l45 1m0 0l46-32m0 0l45 54m0 0l45-14m0 0l46 1m0 0l45 28m0 0l45 1m0 0l45 7m0 0l46 14m0 0l45-39m0 0l45-56m0 0l46 49m0 0l45-6m0 0l45 2m0 0l46-19m0 0l45-8m0 0l45 47m0 0l45 5m0 0l46-59m0 0l45 46m0 0l45-20m0 0l46-6m0 0l45 30m0 0l45-21m0 0l46-14m0 0l45 17m0 0l45-57m0 0l45 39m0 0l46 4m0 0l45-27m0 0l45 44m0 0l46 3m0 0l45-25m0 0l45 12m0 0l45 24m0 0l46 10m0 0l45-51m0 0l45 31m0 0l46 19m0 0l45-30m0 0l45-20m0 0l46 0m0 0l45 12m0 0l45-20m0 0l45 85m0 0l46-72m0 0l45 26m0 0l45-5m0 0l46 12m0 0l45-28m0 0l45-26m0 0l46 82m0 0l45-48m0 0l45 5m0 0l45 3m0 0l46 29m0 0l45-13m0 0l45 11m0 0l46-10m0 0l45-19m0 0l45 3m0 0l46-28m0 0l45-33m0 0l45 47m0 0l45-23m0 0l46 102m0 0l45-29m0 0l45-11m0 0l46-48m0 0l45 73m0 0l45-105m0 0l46 14m0 0l45 12m0 0l45-5m0 0l45 30m0 0l46 2m0 0l45 48m0 0l45-26m0 0l46 6m0 0l45-22m0 0l45-16m0 0l45-15m0 0l46-23m0 0l45 18m0 0l45 14m0 0l46 32m0 0l45-69m0 0l45 9m0 0l46 44m0 0l45-35m0 0l45 38m0 0l45-20m0 0l46-10m0 0l45-16m0 0l45 34m0 0l46-17m0 0l45 3m0 0l45-1m0 0l46 23m0 0l45-1m0 0l45-52m0 0l45 44m0 0l46 15m0 0l45 19m0 0l45-7m0 0l46-16m0 0l45-38m0 0l45 11m0 0l46 48m0 0l45-45m0 0l45 49m0 0l45 7m0 0l46-64m0 0l45 42m0 0l45-14m0 0l46 60m0 0l45-32m0 0l45-37m0 0l45 26m0 0l46-36m0 0l45 23m0 0l45 10m0 0l46 0m0 0l45 5m0 0l45-33m0 0l46-25m0 0l45 43m0 0l45-14m0 0l45 7m0 0l46 81m0 0l45-26m0 0l45-36m0 0l46-34m0 0l45 5m0 0l45 48m0 0l46 21m0 0l45-37m0 0l45 14m0 0l45 5m0 0l46 24m0 0l45-81m0 0l45 59m0 0l46 8m0 0l45 17m0 0l45-14m0 0l46-40m0 0l45 17m0 0l45-25m0 0l45 50m0 0l46 2m0 0l45 10m0 0l45-39m0 0l46-3m0 0l45 76m0 0l45-35m0 0l46 45m0 0l45-34m0 0l45-51m0 0l45 65m0 0l46 14m0 0l45-45m0 0l45-39m0 0l46 74m0 0l45-20m0 0l45 13m0 0l45-80m0 0l46 90m0 0l45-88m0 0l45 55m0 0l46 51m0 0l45-74m0 0l45 1m0 0l46 42m0 0l45 61m0 0l45 1m0 0l45-60m0 0l46 48m0 0l45-10m0 0l45-7m0 0l46 5m0 0l45-28m0 0l45 45m0 0l46 10m0 0l45 48m0 0l45-48m0 0l45-92m0 0l46 37m0 0l45 45m0 0l45-5m0 0l46-51m0 0l45 50m0 0l45-4m0 0l46 11m0 0l45 0m0 0l45 32m0 0l45 17m0 0l46-20m0 0l45-48m0 0l45 10m0 0l46 7m0 0l45 20m0 0l45-8m0 0l46 4m0 0l45-14m0 0l45 55m0 0l45-1m0 0l46 5m0 0l45-27m0 0l45 17m0 0l46-36m0 0l45 0m0 0l45 15m0 0l45 34m0 0l46-19m0 0l45-26m0 0l45 37m0 0l46 11m0 0l45-5m0 0l45-21m0 0l46 22m0 0l45-11m0 0l45 4m0 0l45 9m0 0l46 25m0 0l45 32m0 0l45-5m0 0l46-24m0 0l45-27m0 0l45 4m0 0l46 3m0 0l45 42m0 0l45-108m0 0l45 86m0 0l46-61m0 0l45 57m0 0l45 39m0 0l46-61m0 0l45-37m0 0l45 102m0 0l46 7m0 0l45-26m0 0l45 22m0 0l45-56m0 0l46 57m0 0l45 16m0 0l45-28m0 0l46-9m0 0l45 29m0 0l45-2m0 0l46-52m0 0l45 60m0 0l45-16m0 0l45-15m0 0l46 33m0 0l45-9m0 0l45-4m0 0l46-34m0 0l45 38m0 0l45-53m0 0l45 28m0 0l46-43m0 0l45 0m0 0l45 61m0 0l46-14m0 0l45 6m0 0l45 14m0 0l46-6m0 0l45-34m0 0l45 28m0 0l45-4m0 0l46-12m0 0l45 11m0 0l45-6m0 0l46-8m0 0l45 9m0 0l45 16m0 0l46 52m0 0l45-81m0 0l45 38m0 0l45-56m0 0l46 85m0 0l45-53m0 0l45 13m0 0l46 32m0 0l45-9m0 0l45-69m0 0l46 57m0 0l45-22m0 0l45 24m0 0l45-14m0 0l46 17m0 0l45-13m0 0l45-12m0 0l46 36m0 0l45-76m0 0l45 31m0 0l46-15m0 0l45 22m0 0l45-8m0 0l45 8m0 0l46-10m0 0l45 0m0 0l45-33m0 0l46 45m0 0l45 9m0 0l45-26m0 0l45-2m0 0l46 0m0 0l45 65m0 0l45-42m0 0l46 5m0 0l45-20m0 0l45-6m0 0l46-11m0 0l45 68m0 0l45-92m0 0l45 56m0 0l46-10m0 0l45-7m0 0l45-37m0 0l46 9m0 0l45 61m0 0l45-47m0 0l46 43m0 0l45-6m0 0l45-3m0 0l45 4m0 0l46-55m0 0l45 20m0 0l45 31m0 0l46-55m0 0l45 82m0 0l45-63m0 0l46 13m0 0l45-28m0 0l45 39m0 0l45-32m0 0l46 13m0 0l45-26m0 0l45 65m0 0l46-80m0 0l45 58m0 0l45-7m0 0l45 5m0 0l46-42m0 0l45 57m0 0l45-3m0 0l46-23m0 0l45 4m0 0l45-14m0 0l46 21m0 0l45-41m0 0l45 37m0 0l45-5m0 0l46-51m0 0l45-35m0 0l45 69m0 0l46-2m0 0l45 38m0 0l45-34m0 0l46-16m0 0l45-25m0 0l45 35m0 0l45-15m0 0l46-15m0 0l45 26m0 0l45 32m0 0l46-28m0 0l45-33m0 0l45 38m0 0l46-41m0 0l45-14m0 0l45 57m0 0l45-30m0 0l46 45m0 0l45-23m0 0l45-32m0 0l46 27m0 0l45 30m0 0l45-43m0 0l46-25m0 0l45 10m0 0l45-5m0 0l45-12m0 0l46-4m0 0l45 47m0 0l45 18m0 0l46-42m0 0l45 31m0 0l45 3m0 0l45 21m0 0l46-54m0 0l45-5m0 0l45 20m0 0l46-10m0 0l45 5m0 0l45 26m0 0l46-49m0 0l45 17m0 0l45-34m0 0l45 22m0 0l46-16m0 0l45-3m0 0l45 14m0 0l46-8m0 0l45 22m0 0l45 11m0 0l46-65m0 0l45 69m0 0l45-92m0 0l45 68m0 0l46 12m0 0l45-39m0 0l45 11m0 0l46-17m0 0l45 46m0 0l45-115m0 0l46 61m0 0l45-29m0 0l45 59m0 0l45 30m0 0l46-4m0 0l45-16m0 0l45-13m0 0l46-29m0 0l45 54m0 0l45-18m0 0l46-42m0 0l45-13m0 0l45 17m0 0l45 47m0 0l46 3m0 0l45 10m0 0l45-68m0 0l46 10m0 0l45 48m0 0l45-34m0 0l45 14m0 0l46-59m0 0l45 25m0 0l45 9m0 0l46-10m0 0l45-3m0 0l45-35m0 0l46 90m0 0l45-43m0 0l45-46m0 0l45 70m0 0l46-29m0 0l45 17m0 0l45-26m0 0l46-18m0 0l45 0m0 0l45 30m0 0l46 11m0 0l45-9m0 0l45 3m0 0l45 14m0 0l46-26m0 0l45 19m0 0l45 2m0 0l46-24m0 0l45-11m0 0l45-11m0 0l46-23m0 0l45-11m0 0l45 80m0 0l45-38m0 0l46-16m0 0l45 58m0 0l45-18m0 0l46-26m0 0l45 25m0 0l45-34m0 0l46 14m0 0l45 40m0 0l45-22m0 0l45-38m0 0l46 26m0 0l45 13m0 0l45-38m0 0l46-9m0 0l45 63m0 0l45-61m0 0l45-30m0 0l46 40m0 0l45 59m0 0l45-47m0 0l46 9m0 0l45-89m0 0l45 45m0 0l46 48m0 0l45-45m0 0l45 47m0 0l45-24m0 0l46-3m0 0l45 35m0 0l45-62m0 0l46 0m0 0l45 15m0 0l45 3m0 0l46-55m0 0l45 81m0 0l45-29m0 0l45-12m0 0l46 21m0 0l45-29m0 0l45 44m0 0l46-33m0 0l45 18m0 0l45-46m0 0l46 16m0 0l45 17m0 0l45-38m0 0l45 7m0 0l46 16m0 0l45 31m0 0l45-11m0 0l46 3m0 0l45-17m0 0l45 15m0 0l46 17m0 0l45-39m0 0l45 6m0 0l45 3m0 0l46-73m0 0l45 52m0 0l45 13m0 0l46 8m0 0l45-31m0 0l45 35m0 0l45-46m0 0l46 12m0 0l45 51m0 0l45-86m0 0l46 34m0 0l45-3m0 0l45 0m0 0l46-13m0 0l45 32m0 0l45-50m0 0l45-8m0 0l46 49m0 0l45-48m0 0l45 43m0 0l46-11m0 0l45-21m0 0l45 8m0 0l46 6m0 0l45 14m0 0l45-32m0 0l45 11m0 0l46-36m0 0l45 31m0 0l45-47m0 0l46 51m0 0l45-12m0 0l45 70m0 0l46-24m0 0l45-42m0 0l45 30m0 0l45-20m0 0l46-41m0 0l45-37m0 0l45 97m0 0l46-21m0 0l45-67m0 0l45 71m0 0l45 7m0 0l46-46m0 0l45 40m0 0l45-72m0 0l46 41m0 0l45 6m0 0l45 20m0 0l46-12m0 0l45-6m0 0l45 8m0 0l45-35m0 0l46 58m0 0l45-52m0 0l45 30m0 0l46-23m0 0l45-8m0 0l45 22m0 0l46-5m0 0l45 24m0 0l45-9m0 0l45-47m0 0l46 29m0 0l45-13m0 0l45-26m0 0l46-10m0 0l45 37m0 0l45-23m0 0l46-25m0 0l45 35m0 0l45 8m0 0l45-5m0 0l46-38m0 0l45 17m0 0l45 53m0 0l46-61m0 0l45 11m0 0l45 73m0 0l46-56m0 0l45-25m0 0l45-41m0 0l45 62m0 0l46-49m0 0l45 37m0 0l45-25m0 0l46-23m0 0l45 92m0 0l45-51m0 0l45 28m0 0l46-6m0 0l45-42m0 0l45 22m0 0l46-14m0 0l45 36m0 0l45-16m0 0l46-23m0 0l45 55m0 0l45-32m0 0l45-3m0 0l46-36m0 0l45 33m0 0l45-54m0 0l46 53m0 0l45-40m0 0l45 31m0 0l46-14m0 0l45 13m0 0l45 3m0 0l45-13m0 0l46-1m0 0l45-41m0 0l45-12m0 0l46 88m0 0l45-20m0 0l45-59m0 0l46 94m0 0l45-74m0 0l45 34m0 0l45-4m0 0l46-9m0 0l45 13m0 0l45-56m0 0l46 37m0 0l45-7m0 0l45 9m0 0l46-11m0 0l45-11m0 0l45-3m0 0l45 44m0 0l46-49m0 0l45 33m0 0l45-1m0 0l46-13m0 0l45 14m0 0l45 3m0 0l45-31m0 0l46 24m0 0l45 43m0 0l45-83m0 0l46 21m0 0l45-14m0 0l45 77m0 0l46-96m0 0l45 39m0 0l45 26m0 0l45-51m0 0l46 20m0 0l45-16m0 0l45-18m0 0l46 35m0 0l45 15m0 0l45-25m0 0l46 15m0 0l45 15m0 0l45 14m0 0l45-69m0 0l46 52m0 0l45-35m0 0l45-36m0 0l46 31m0 0l45 40m0 0l45-10m0 0l46-39m0 0l45 75m0 0l45-33m0 0l45-14m0 0l46-13m0 0l45 27m0 0l45-23m0 0l46 43m0 0l45-23m0 0l45 8m0 0l46-25m0 0l45-33m0 0l45 56m0 0l45-42m0 0l46 25m0 0l45 4m0 0l45-21m0 0l46 47m0 0l45-64m0 0l45 82m0 0l45-57m0 0l46 44m0 0l45 10m0 0l45-59m0 0l46 5m0 0l45 47m0 0l45-20m0 0l46-1m0 0l45-52m0 0l45 6m0 0l45 62m0 0l46 27m0 0l45-59m0 0l45-3m0 0l46 32m0 0l45 9m0 0l45 4m0 0l46-26m0 0l45-41m0 0l45 97m0 0l45-53m0 0l46 51m0 0l45-89m0 0l45 68m0 0l46-23m0 0l45-14m0 0l45 59m0 0l46 11m0 0l45-50m0 0l45 36m0 0l45-46m0 0l46 15m0 0l45 13m0 0l45-1m0 0l46 29m0 0l45-49m0 0l45 63m0 0l46 2m0 0l45-31m0 0l45-25m0 0l45-31m0 0l46 67m0 0l45-16m0 0l45 25m0 0l46-30m0 0l45 32m0 0l45 0m0 0l45 5m0 0l46 9m0 0l45 3m0 0l45 21m0 0l46-47m0 0l45 44m0 0l45-13m0 0l46-14m0 0l45-14m0 0l45 71m0 0l45-32m0 0l46-19m0 0l45 19m0 0l45 0m0 0l46-12m0 0l45-22m0 0l45 45m0 0l46-7m0 0l45-1m0 0l45 37m0 0l45-62m0 0l46 12m0 0l45 33m0 0l45 21m0 0l46-5m0 0l45 6m0 0l45-80m0 0l46 77m0 0l45 0m0 0l45 9m0 0l45-37m0 0l46 35m0 0l45 16m0 0l45 18m0 0l46-36m0 0l45-42m0 0l45 40m0 0l45 17m0 0l46-2m0 0l45 40m0 0l45-57m0 0l46-21m0 0l45 12m0 0l45 37m0 0l46-40m0 0l45-5m0 0l45 6m0 0l45 58m0 0l46-26m0 0l45-15m0 0l45 34m0 0l46-4m0 0l45-46m0 0l45 51m0 0l46-16m0 0l45-63m0 0l45 25m0 0l45 40m0 0l46 6m0 0l45-21m0 0l45-19m0 0l46 34m0 0l45-57m0 0l45 66m0 0l46-20m0 0l45 4m0 0l45-18m0 0l45 41m0 0l46-87m0 0l45 40m0 0l45 40m0 0l46-35m0 0l45 60m0 0l45-29m0 0l46-33m0 0l45 52m0 0"/>
<path class="cv" stroke="#ff0000" d="M202.6,212.5l1.5 2.2l1.5 2.2l1.5 2.2l1.5 2.2l1.5 2.2l1.5 2.2l1.5 2.2l1.5 2.1l1.5 2.2l1.5 2.2l1.5 2.1l1.5 2.2l1.5 2.1l1.5 2.2l1.5 2.1l1.5 2.1l1.5 2.1l1.5 2.2l1.5 2.1l1.5 2.1l1.5 2.1l1.5 2.1l1.5 2.1l1.5 2.1l1.5 2.2l1.5 2.1l1.5 2.1l1.5 2.1l1.5 2.1l1.5 2.1l1.5 2.1l1.5 2.1l1.5 2.1l1.5 2.1l1.5 2.1l1.5 2.1l1.5 2.1l1.5 2.1l1.5 2.1l1.5 2.1l1.5 2.1l1.5 2.1l1.5 2.1l1.5 2.1l1.5 2.1l1.5 2.2l1.5 2.1l1.5 2.1l1.5 2.1l1.5 2.2l1.5 2.1l1.5 2.2l1.5 2.1l1.5 2.2l1.5 2.1l1.5 2.2l1.5 2.2l1.5 2.1l1.5 2.2l1.5 2.2l1.5 2.2l1.5 2.2l1.5 2.2l1.5 2.3l1.5 2.2l1.5 2.2l1.5 2.3l1.5 2.2l1.5 2.3l1.5 2.3l1.5 2.3l1.5 2.3l1.5 2.3l1.5 2.3l1.5 2.4l1.5 2.3l1.5 2.4l1.5 2.4l1.5 2.4l1.5 2.4l1.5 2.4l1.5 2.4l1.5 2.5l1.5 2.4l1.5 2.5l1.5 2.4l1.5 2.5l1.5 2.4l1.5 2.4l1.5 2.4l1.5 2.4l1.5 2.4l1.5 2.4l1.5 2.4l1.5 2.3l1.5 2.3l1.5 2.3l1.5 2.3l1.5 2.2l1.5 2.3l1.5 2.1l1.5 2.2l1.5 2.1l1.5 2.2l1.5 2l1.5 2.1l1.5 2l1.5 2l1.5 2l1.5 1.9l1.5 1.9l1.5 1.9l1.5 1.8l1.5 1.9l1.5 1.8l1.5 1.8l1.5 1.7l1.5 1.8l1.5 1.8l1.5 1.7l1.5 1.7l1.5 1.7l1.5 1.7l1.5 1.7l1.5 1.7l1.5 1.7l1.5 1.7l1.5 1.7l1.5 1.7l1.5 1.6l1.5 1.7l1.5 1.7l1.5 1.7l1.5 1.6l1.5 1.7l1.5 1.7l1.5 1.7l1.5 1.7l1.5 1.7l1.5 1.8l1.5 1.7l1.5 1.7l1.5 1.8l1.5 1.7l1.5 1.8l1.5 1.8l1.5 1.8l1.5 1.8l1.5 1.8l1.5 1.8l1.5 1.8l1.5 1.8l1.5 1.9l1.5 1.8l1.5 1.9l1.5 1.9l1.5 1.9l1.5 1.9l1.5 1.9l1.5 1.9l1.5 1.9l1.5 2l1.5 1.9l1.5 2l1.5 2l1.5 2l1.5 2l1.5 2l1.5 2l1.5 2.1l1.5 2l1.5 2.1l1.5 2.1l1.5 2.1l1.5 2.1l1.5 2.1l1.5 2.2l1.5 2.1l1.5 2.2l1.5 2.2l1.5 2.2l1.5 2.2l1.5 2.2l1.5 2.3l1.5 2.2l1.5 2.3l1.5 2.3l1.5 2.3l1.5 2.3l1.5 2.4l1.5 2.4l1.5 2.3l1.5 2.4l1.5 2.5l1.5 2.4l1.5 2.5l1.5 2.4l1.5 2.5l1.5 2.5l1.5 2.6l1.5 2.5l1.5 2.6l1.5 2.6l1.5 2.6l1.5 2.6l1.5 2.7l1.5 2.6l1.5 2.7l1.5 2.7l1.5 2.6l1.5 2.7l1.5 2.7l1.5 2.8l1.5 2.7l1.5 2.7l1.5 2.7l1.5 2.8l1.5 2.7l1.5 2.7l1.5 2.8l1.5 2.7l1.5 2.7l1.5 2.7l1.5 2.7l1.5 2.7l1.5 2.7l1.5 2.7l1.5 2.7l1.5 2.7l1.5 2.6l1.5 2.6l1.5 2.7l1.5 2.6l1.5 2.5l1.5 2.6l1.5 2.6l1.5 2.5l1.5 2.5l1.5 2.5l1.5 2.5l1.5 2.4l1.5 2.5l1.5 2.4l1.5 2.4l1.5 2.3l1.5 2.4l1.5 2.3l1.5 2.3l1.5 2.3l1.5 2.3l1.5 2.2l1.5 2.3l1.5 2.3l1.5 2.2l1.5 2.3l1.5 2.3l1.5 2.3l1.5 2.3l1.5 2.4l1.5 2.4l1.5 2.4l1.5 2.5l1.5 2.5l1.5 2.6l1.5 2.7l1.5 2.8l1.5 2.9l1.5 3.1l1.5 3.3l1.5 3.5l1.5 3.9l1.5 4.1l1.5 4.2l1.5 3.7l1.5 3.3l1.5 2.8l1.5 2.6l1.5 2.3l1.5 2.1l1.5 2.1l1.5 2l1.5 1.9l1.5 1.9l1.5 1.8l1.5 1.8l1.5 1.8l1.5 1.9l1.5 1.8l1.5 1.8l1.5 1.9l1.5 1.9l1.5 2l1.5 2.2l1.5 2.4l1.5 2.4l1.5 2.4l1.5 2.4l1.5 2.4l1.5 2.4l1.5 2.5l1.5 2.4l1.5 2.4l1.5 2.5l1.5 2.4l1.5 2.5l1.5 2.4l1.5 2.5l1.5 2.4l1.5 2.4l1.5 2.3l1.5 2.1l1.5 1.9l1.5 2l1.5 1.9l1.5 1.8l1.5 1.9l1.5 1.9l1.5 1.8l1.5 1.8l1.5 1.8l1.5 1.8l1.5 1.8l1.5 1.8l1.5 1.8l1.5 1.7l1.5 1.8l1.5 1.7l1.5 1.7l1.5 1.8l1.5 1.6l1.5 1.7l1.5 1.7l1.5 1.7l1.5 1.6l1.5 1.7l1.5 1.6l1.5 1.6l1.5 1.6l1.5 1.6l1.5 1.6l1.5 1.7l1.5 1.6l1.5 1.7l1.5 1.7l1.5 1.7l1.5 1.7l1.5 1.8l1.5 1.7l1.5 1.7l1.5 1.6l1.5 1.7l1.5 1.7l1.5 1.7l1.5 1.6l1.5 1.7l1.5 1.7l1.5 1.6l1.5 1.7l1.5 1.6l1.5 1.7l1.5 1.6l1.5 1.7l1.5 1.6l1.5 1.6l1.5 1.7l1.5 1.6l1.5 1.6l1.5 1.6l1.5 1.6l1.5 1.7l1.5 1.6l1.5 1.6l1.5 1.6l1.5 1.6l1.5 1.6l1.5 1.6l1.5 1.6l1.5 1.6l1.5 1.7l1.5 1.6l1.5 1.6l1.5 1.6l1.5 1.6l1.5 1.6l1.5 1.6l1.5 1.6l1.5 1.6l1.5 1.6l1.5 1.6l1.5 1.6l1.5 1.6l1.5 1.6l1.5 1.6l1.5 1.6l1.5 1.6l1.5 1.7l1.5 1.6l1.5 1.6l1.5 1.6l1.5 1.6l1.5 1.7l1.5 1.6l1.5 1.7l1.5 1.6l1.5 1.7l1.5 1.7l1.5 1.6l1.5 1.7l1.5 1.6l1.5 1.7l1.5 1.7l1.5 1.6l1.5 1.7l1.5 1.6l1.5 1.7l1.5 1.6l1.5 1.7l1.5 1.6l1.5 1.6l1.5 1.7l1.5 1.6l1.5 1.6l1.5 1.6l1.5 1.7l1.5 1.6l1.5 1.6l1.5 1.6l1.5 1.5l1.5 1.6l1.5 1.6l1.5 1.6l1.5 1.5l1.5 1.6l1.5 1.5l1.5 1.5l1.5 1.6l1.5 1.5l1.5 1.5l1.5 1.5l1.5 1.4l1.5 1.5l1.5 1.4l1.5 1.4l1.5 1.5l1.5 1.4l1.5 1.4l1.5 1.4l1.5 1.4l1.5 1.4l1.5 1.4l1.5 1.4l1.5 1.3l1.5 1.3l1.5 1.3l1.5 1.3l1.5 1.3l1.5 1.2l1.5 1.2l1.5 1.1l1.5 1.1l1.5 1.1l1.5 1l1.5 1l1.5 1l1.5 .8l1.5 .9l1.5 .9l1.5 .8l1.5 .9l1.5 .8l1.5 .9l1.5 .9l1.5 .9l1.5 1l1.5 1l1.5 1l1.5 1l1.5 1l1.5 1.1l1.5 1l1.5 1.1l1.5 1.1l1.5 1.1l2.9 2.1"/>
<path class="cn" stroke="#ff0000" transform="scale(.01)" d="M93000,117553l45 34m0 0l46 34m0 0l45 34m0 0l45 34m0 0l45 35m0 0l46 35m0 0l45 35m0 0l45 35m0 0l46 35m0 0l45 36m0 0l45 36m0 0l46 36m0 0l45 36m0 0l45 36m0 0l45 36m0 0l46 37m0 0l45 36m0 0l45 37m0 0l46 36m0 0l45 37m0 0l45 37m0 0l46 37m0 0l45 37m0 0l45 36m0 0l45 38m0 0l46 37m0 0l45 36m0 0l45 37m0 0l46 37m0 0l45 38m0 0l45 37m0 0l46 37m0 0l45 37m0 0l45 37m0 0l45 36m0 0l46 37m0 0l45 37m0 0l45 36m0 0l46 37m0 0l45 36m0 0l45 37m0 0l46 36m0 0l45 36m0 0l45 37m0 0l45 38m0 0l46 37m0 0l45 38m0 0l45 36m0 0l46 39m0 0l45 38m0 0l45 36m0 0l45 39m0 0l46 38m0 0l45 38m0 0l45 38m0 0l46 39m0 0l45 37m0 0l45 37m0 0l46 38m0 0l45 38m0 0l45 37m0 0l45 38m0 0l46 37m0 0l45 38m0 0l45 35m0 0l46 37m0 0l45 36m0 0l45 38m0 0l46 36m0 0l45 36m0 0l45 35m0 0l45 34m0 0l46 36m0 0l45 34m0 0l45 33m0 0l46 33m0 0l45 35m0 0l45 32m0 0l46 32m0 0l45 31m0 0l45 31m0 0l45 32m0 0l46 29m0 0l45 29m0 0l45 30m0 0l46 28m0 0l45 29m0 0l45 28m0 0l46 26m0 0l45 29m0 0l45 25m0 0l45 27m0 0l46 25m0 0l45 26m0 0l45 26m0 0l46 25m0 0l45 26m0 0l45 25m0 0l45 25m0 0l46 24m0 0l45 27m0 0l45 26m0 0l46 25m0 0l45 25m0 0l45 28m0 0l46 23m0 0l45 25m0 0l45 28m0 0l45 23m0 0l46 29m0 0l45 24m0 0l45 29m0 0l46 25m0 0l45 31m0 0l45 27m0 0l46 27m0 0l45 33m0 0l45 28m0 0l45 29m0 0l46 30m0 0l45 32m0 0l45 32m0 0l46 34m0 0l45 33m0 0l45 32m0 0l46 34m0 0l45 35m0 0l45 34m0 0l45 36m0 0l46 37m0 0l45 38m0 0l45 37m0 0l46 34m0 0l45 40m0 0l45 36m0 0l45 42m0 0l46 35m0 0l45 40m0 0l45 37m0 0l46 39m0 0l45 41m0 0l45 38m0 0l46 41m0 0l45 37m0 0l45 43m0 0l45 38m0 0l46 44m0 0l45 37m0 0l45 42m0 0l46 36m0 0l45 43m0 0l45 38m0 0l46 40m0 0l45 41m0 0l45 39m0 0l45 40m0 0l46 40m0 0l45 39m0 0l45 38m0 0l46 37m0 0l45 39m0 0l45 39m0 0l46 35m0 0l45 42m0 0l45 36m0 0l45 37m0 0l46 38m0 0l45 36m0 0l45 35m0 0l46 33m0 0l45 38m0 0l45 35m0 0l46 33m0 0l45 39m0 0l45 34m0 0l45 29m0 0l46 39m0 0l45 32m0 0l45 40m0 0l46 33m0 0l45 30m0 0l45 35m0 0l45 36m0 0l46 33m0 0l45 38m0 0l45 32m0 0l46 31m0 0l45 36m0 0l45 27m0 0l46 39m0 0l45 35m0 0l45 31m0 0l45 31m0 0l46 37m0 0l45 37m0 0l45 28m0 0l46 30m0 0l45 40m0 0l45 23m0 0l46 40m0 0l45 30m0 0l45 37m0 0l45 28m0 0l46 39m0 0l45 29m0 0l45 27m0 0l46 32m0 0l45 38m0 0l45 37m0 0l46 29m0 0l45 33m0 0l45 31m0 0l45 36m0 0l46 31m0 0l45 32m0 0l45 28m0 0l46 39m0 0l45 33m0 0l45 23m0 0l46 44m0 0l45 27m0 0l45 28m0 0l45 26m0 0l46 41m0 0l45 31m0 0l45 28m0 0l46 27m0 0l45 41m0 0l45 25m0 0l45 32m0 0l46 43m0 0l45 28m0 0l45 27m0 0l46 25m0 0l45 35m0 0l45 19m0 0l46 40m0 0l45 26m0 0l45 28m0 0l45 29m0 0l46 38m0 0l45 28m0 0l45 30m0 0l46 32m0 0l45 23m0 0l45 27m0 0l46 27m0 0l45 35m0 0l45 33m0 0l45 25m0 0l46 32m0 0l45 21m0 0l45 32m0 0l46 27m0 0l45 26m0 0l45 42m0 0l46 24m0 0l45 21m0 0l45 28m0 0l45 31m0 0l46 21m0 0l45 37m0 0l45 20m0 0l46 31m0 0l45 25m0 0l45 30m0 0l46 24m0 0l45 26m0 0l45 30m0 0l45 29m0 0l46 29m0 0l45 29m0 0l45 35m0 0l46 24m0 0l45 22m0 0l45 32m0 0l45 20m0 0l46 38m0 0l45 22m0 0l45 18m0 0l46 38m0 0l45 27m0 0l45 9m0 0l46 38m0 0l45 28m0 0l45 20m0 0l45 31m0 0l46 28m0 0l45 35m0 0l45 26m0 0l46 39m0 0l45 11m0 0l45 35m0 0l46 22m0 0l45 27m0 0l45 19m0 0l45 23m0 0l46 33m0 0l45 35m0 0l45 32m0 0l46 21m0 0l45 25m0 0l45 19m0 0l46 40m0 0l45 25m0 0l45 15m0 0l45 29m0 0l46 21m0 0l45 40m0 0l45 19m0 0l46 23m0 0l45 29m0 0l45 25m0 0l46 20m0 0l45 20m0 0l45 25m0 0l45 22m0 0l46 38m0 0l45 36m0 0l45 0m0 0l46 36m0 0l45 26m0 0l45 16m0 0l45 32m0 0l46 16m0 0l45 40m0 0l45 13m0 0l46 29m0 0l45 29m0 0l45 17m0 0l46 16m0 0l45 33m0 0l45 33m0 0l45 19m0 0l46 27m0 0l45 15m0 0l45 33m0 0l46 28m0 0l45 19m0 0l45 36m0 0l46 10m0 0l45 17m0 0l45 19m0 0l45 43m0 0l46 14m0 0l45 30m0 0l45 18m0 0l46 30m0 0l45 19m0 0l45 10m0 0l46 26m0 0l45 26m0 0l45 4m0 0l45 39m0 0l46 18m0 0l45 17m0 0l45 10m0 0l46 22m0 0l45 8m0 0l45 26m0 0l45 12m0 0l46 21m0 0l45 13m0 0l45 22m0 0l46 23m0 0l45-3m0 0l45 33m0 0l46-7m0 0l45 14m0 0l45 31m0 0l45 16m0 0l46 18m0 0l45-2m0 0l45 27m0 0l46 16m0 0l45 23m0 0l45 3m0 0l46 19m0 0l45 2m0 0l45 20m0 0l45 11m0 0l46 22m0 0l45 0m0 0l45 14m0 0l46 24m0 0l45 23m0 0l45 1m0 0l46 12m0 0l45 6m0 0l45 24m0 0l45 8m0 0l46 22m0 0l45 0m0 0l45 1m0 0l46 14m0 0l45 8m0 0l45 9m0 0l46 33m0 0l45 7m0 0l45-7m0 0l45 37m0 0l46-3m0 0l45 0m0 0l45 22m0 0l46 6m0 0l45 4m0 0l45-1m0 0l45 27m0 0l46 11m0 0l45-16m0 0l45 37m0 0l46 9m0 0l45-1m0 0l45 14m0 0l46 5m0 0l45 4m0 0l45 13m0 0l45 24m0 0l46-18m0 0l45 25m0 0l45 7m0 0l46 0m0 0l45 11m0 0l45-1m0 0l46 14m0 0l45 17m0 0l45 11m0 0l45-3m0 0l46 47m0 0l45-27m0 0l45 16m0 0l46 5m0 0l45 7m0 0l45 26m0 0l46-9m0 0l45 28m0 0l45 7m0 0l45-12m0 0l46 31m0 0l45-7m0 0l45 44m0 0l46-21m0 0l45 5m0 0l45 0m0 0l46 17m0 0l45 19m0 0l45 6m0 0l45 9m0 0l46 17m0 0l45 16m0 0l45 29m0 0l46-21m0 0l45 23m0 0l45 8m0 0l45 5m0 0l46 15m0 0l45 16m0 0l45 29m0 0l46 2m0 0l45 8m0 0l45 24m0 0l46 9m0 0l45 6m0 0l45 19m0 0l45-2m0 0l46 28m0 0l45 10m0 0l45 2m0 0l46 3m0 0l45 42m0 0l45-5m0 0l46 45m0 0l45-30m0 0l45 28m0 0l45-4m0 0l46 19m0 0l45 17m0 0l45-8m0 0l46 19m0 0l45 13m0 0l45 10m0 0l46 15m0 0l45 15m0 0l45 8m0 0l45 3m0 0l46 3m0 0l45 1m0 0l45 14m0 0l46 12m0 0l45 24m0 0l45-3m0 0l46-1m0 0l45 32m0 0l45-8m0 0l45 9m0 0l46 16m0 0l45 18m0 0l45-26m0 0l46 25m0 0l45 25m0 0l45 2m0 0l45 3m0 0l46 13m0 0l45 33m0 0l45-14m0 0l46 24m0 0l45 10m0 0l45-6m0 0l46 20m0 0l45-2m0 0l45 7m0 0l45 2m0 0l46 35m0 0l45-7m0 0l45 7m0 0l46 2m0 0l45 47m0 0l45-5m0 0l46-2m0 0l45 3m0 0l45-2m0 0l45 33m0 0l46 9m0 0l45-12m0 0l45 43m0 0l46 4m0 0l45-13m0 0l45 14m0 0l46 11m0 0l45 18m0 0l45 5m0 0l45-11m0 0l46 51m0 0l45-6m0 0l45 22m0 0l46 10m0 0l45-11m0 0l45 17m0 0l46 15m0 0l45 10m0 0l45-3m0 0l45 3m0 0l46 18m0 0l45-2m0 0l45 13m0 0l46-11m0 0l45 39m0 0l45-6m0 0l45 15m0 0l46 17m0 0l45 14m0 0l45 32m0 0l46-14m0 0l45-14m0 0l45 32m0 0l46-1m0 0l45 23m0 0l45-6m0 0l45 9m0 0l46 12m0 0l45 8m0 0l45-8m0 0l46 26m0 0l45 19m0 0l45 27m0 0l46-12m0 0l45 8m0 0l45 23m0 0l45 9m0 0l46 25m0 0l45-5m0 0l45 0m0 0l46 30m0 0l45 12m0 0l45-20m0 0l46 19m0 0l45-18m0 0l45 29m0 0l45 1m0 0l46 20m0 0l45 5m0 0l45 14m0 0l46 10m0 0l45 19m0 0l45 5m0 0l45-2m0 0l46-2m0 0l45 48m0 0l45 12m0 0l46-19m0 0l45 25m0 0l45-23m0 0l46 9m0 0l45 29m0 0l45 37m0 0l45-30m0 0l46 13m0 0l45 47m0 0l45-45m0 0l46 49m0 0l45 7m0 0l45-1m0 0l46 15m0 0l45 49m0 0l45-50m0 0l45 22m0 0l46 11m0 0l45 3m0 0l45-1m0 0l46 57m0 0l45-12m0 0l45-22m0 0l46 27m0 0l45 27m0 0l45 10m0 0l45-20m0 0l46 32m0 0l45 15m0 0l45 12m0 0l46 10m0 0l45-27m0 0l45 70m0 0l46-17m0 0l45 36m0 0l45 27m0 0l45-41m0 0l46-8m0 0l45 44m0 0l45-8m0 0l46 5m0 0l45-1m0 0l45 55m0 0l45-27m0 0l46-7m0 0l45 24m0 0l45-3m0 0l46 31m0 0l45-2m0 0l45-2m0 0l46 36m0 0l45-13m0 0l45 31m0 0l45 16m0 0l46-20m0 0l45 2m0 0l45 22m0 0l46 19m0 0l45-9m0 0l45 9m0 0l46 4m0 0l45 12m0 0l45 12m0 0l45-16m0 0l46 10m0 0l45 15m0 0l45-6m0 0l46 20m0 0l45 14m0 0l45-4m0 0l46-4m0 0l45 3m0 0l45 51m0 0l45-8m0 0l46-29m0 0l45 11m0 0l45 55m0 0l46 1m0 0l45-18m0 0l45 26m0 0l46-41m0 0l45 35m0 0l45 20m0 0l45-39m0 0l46 28m0 0l45 36m0 0l45 15m0 0l46-22m0 0l45 25m0 0l45 33m0 0l45-27m0 0l46-7m0 0l45 34m0 0l45 6m0 0l46 43m0 0l45-8m0 0l45-5m0 0l46 73m0 0l45-39m0 0l45 32m0 0l45 19m0 0l46 18m0 0l45 4m0 0l45 23m0 0l46 4m0 0l45-9m0 0l45 39m0 0l46 16m0 0l45 17m0 0l45 22m0 0l45 2m0 0l46 53m0 0l45 21m0 0l45-56m0 0l46 58m0 0l45 1m0 0l45-21m0 0l46 72m0 0l45-5m0 0l45 18m0 0l45 8m0 0l46 46m0 0l45 15m0 0l45-7m0 0l46 19m0 0l45-5m0 0l45 14m0 0l46-7m0 0l45 24m0 0l45-5m0 0l45 31m0 0l46 18m0 0l45-1m0 0l45 26m0 0l46 39m0 0l45-85m0 0l45 50m0 0l45-2m0 0l46 11m0 0l45-9m0 0l45 37m0 0l46 2m0 0l45 1m0 0l45 16m0 0l46 2m0 0l45-26m0 0l45 76m0 0l45-19m0 0l46-4m0 0l45 33m0 0l45-11m0 0l46-23m0 0l45 70m0 0l45-44m0 0l46 38m0 0l45 15m0 0l45 33m0 0l45 4m0 0l46-13m0 0l45-11m0 0l45 15m0 0l46 38m0 0l45 22m0 0l45-18m0 0l46-16m0 0l45 41m0 0l45-21m0 0l45 7m0 0l46 10m0 0l45 25m0 0l45 1m0 0l46 22m0 0l45 13m0 0l45-9m0 0l46-52m0 0l45 20m0 0l45 46m0 0l45 2m0 0l46 54m0 0l45-39m0 0l45 4m0 0l46 30m0 0l45 9m0 0l45-20m0 0l45 21m0 0l46-27m0 0l45 11m0 0l45 53m0 0l46-50m0 0l45 56m0 0l45 1m0 0l46 9m0 0l45 9m0 0l45-1m0 0l45-51m0 0l46 30m0 0l45 15m0 0l45 39m0 0l46-38m0 0l45 16m0 0l45 13m0 0l46 43m0 0l45-54m0 0l45 8m0 0l45 49m0 0l46-54m0 0l45 60m0 0l45-11m0 0l46-19m0 0l45 31m0 0l45-7m0 0l46 32m0 0l45 10m0 0l45 31m0 0l45-27m0 0l46 8m0 0l45-9m0 0l45 18m0 0l46 29m0 0l45-60m0 0l45 63m0 0l45-21m0 0l46 19m0 0l45 12m0 0l45 17m0 0l46-8m0 0l45-9m0 0l45 22m0 0l46-1m0 0l45 0m0 0l45 15m0 0l45 21m0 0l46-12m0 0l45 6m0 0l45-27m0 0l46 32m0 0l45-34m0 0l45 64m0 0l46-33m0 0l45 57m0 0l45 44m0 0l45-72m0 0l46 45m0 0l45-16m0 0l45-17m0 0l46-1m0 0l45 38m0 0l45 24m0 0l46-18m0 0l45-38m0 0l45 16m0 0l45 24m0 0l46 42m0 0l45-19m0 0l45 6m0 0l46 26m0 0l45-28m0 0l45 8m0 0l46 3m0 0l45-32m0 0l45 58m0 0l45 4m0 0l46 18m0 0l45-46m0 0l45 14m0 0l46 47m0 0l45-9m0 0l45 30m0 0l45-48m0 0l46 31m0 0l45-16m0 0l45 29m0 0l46-14m0 0l45 30m0 0l45 18m0 0l46-4m0 0l45-54m0 0l45 71m0 0l45-6m0 0l46-31m0 0l45 9m0 0l45 27m0 0l46 19m0 0l45-20m0 0l45-23m0 0l46 52m0 0l45 3m0 0l45 60m0 0l45-85m0 0l46 98m0 0l45-13m0 0l45-30m0 0l46 39m0 0l45-33m0 0l45 27m0 0l46-37m0 0l45 26m0 0l45-22m0 0l45-8m0 0l46 38m0 0l45-4m0 0l45 36m0 0l46 23m0 0l45-30m0 0l45 11m0 0l46 9m0 0l45-41m0 0l45 54m0 0l45-1m0 0l46 4m0 0l45-21m0 0l45-16m0 0l46 49m0 0l45 20m0 0l45 31m0 0l45 1m0 0l46 13m0 0l45-21m0 0l45 25m0 0l46-29m0 0l45 27m0 0l45 13m0 0l46 51m0 0l45-57m0 0l45-33m0 0l45 73m0 0l46-50m0 0l45 24m0 0l45 0m0 0l46-10m0 0l45 63m0 0l45-13m0 0l46-26m0 0l45 23m0 0l45-7m0 0l45 33m0 0l46-21m0 0l45-4m0 0l45 8m0 0l46 11m0 0l45 25m0 0l45-26m0 0l46 27m0 0l45 19m0 0l45 55m0 0l45-33m0 0l46-94m0 0l45 70m0 0l45 8m0 0l46 24m0 0l45 38m0 0l45-16m0 0l46-73m0 0l45 73m0 0l45 0m0 0l45 14m0 0l46 30m0 0l45-59m0 0l45 63m0 0l46-66m0 0l45 49m0 0l45 14m0 0l45 55m0 0l46-72m0 0l45-20m0 0l45 67m0 0l46-30m0 0l45 64m0 0l45-54m0 0l46 1m0 0l45 60m0 0l45-24m0 0l45 29m0 0l46-58m0 0l45 85m0 0l45-53m0 0l46 42m0 0l45-42m0 0l45-9m0 0l46 39m0 0l45 17m0 0l45 41m0 0l45-26m0 0l46 15m0 0l45 3m0 0l45 69m0 0l46-97m0 0l45 60m0 0l45-32m0 0l46 16m0 0l45-16m0 0l45 50m0 0l45-58m0 0l46 4m0 0l45 34m0 0l45-20m0 0l46 54m0 0l45 10m0 0l45-38m0 0l46 45m0 0l45-33m0 0l45 22m0 0l45 6m0 0l46 54m0 0l45-44m0 0l45-19m0 0l46 5m0 0l45 60m0 0l45-70m0 0l45 36m0 0l46 8m0 0l45-49m0 0l45 56m0 0l46 43m0 0l45-15m0 0l45-24m0 0l46 46m0 0l45 0m0 0l45 44m0 0l45-67m0 0l46 14m0 0l45 16m0 0l45 0m0 0l46 11m0 0l45 0m0 0l45-11m0 0l46-19m0 0l45 32m0 0l45-17m0 0l45 14m0 0l46 17m0 0l45 32m0 0l45 14m0 0l46-45m0 0l45 40m0 0l45 17m0 0l46-17m0 0l45-37m0 0l45-9m0 0l45 81m0 0l46 8m0 0l45-13m0 0l45-30m0 0l46 70m0 0l45-2m0 0l45-28m0 0l45-1m0 0l46-40m0 0l45 74m0 0l45-57m0 0l46 64m0 0l45 6m0 0l45-13m0 0l46 43m0 0l45-45m0 0l45 28m0 0l45 10m0 0l46-10m0 0l45-14m0 0l45 47m0 0l46-16m0 0l45-12m0 0l45 4m0 0l46 12m0 0l45 60m0 0l45-52m0 0l45-5m0 0l46-18m0 0l45 0m0 0l45-14m0 0l46 60m0 0l45-2m0 0l45-23m0 0l46-8m0 0l45 34m0 0l45-2m0 0l45-17m0 0l46 46m0 0l45 0m0 0l45-1m0 0l46 25m0 0l45-34m0 0l45 56m0 0l46-58m0 0l45 44m0 0l45 6m0 0l45-19m0 0l46 19m0 0l45-39m0 0l45-2m0 0l46 37m0 0l45-10m0 0l45 38m0 0l45-11m0 0l46 19m0 0l45-5m0 0l45 1m0 0l46 1m0 0l45-9m0 0l45 1m0 0l46 69m0 0l45-96m0 0l45 45m0 0l45 34m0 0l46-12m0 0l45 29m0 0l45-19m0 0l46-43m0 0l45 27m0 0l45-24m0 0l46 65m0 0l45 16m0 0l45-46m0 0l45 29m0 0l46-22m0 0l45-23m0 0l45 29m0 0l46-26m0 0l45 29m0 0l45 24m0 0l46 17m0 0l45 18m0 0l45-39m0 0l45 18m0 0l46 8m0 0l45 7m0 0l45-86m0 0l46 57m0 0l45 44m0 0l45-46m0 0l46 39m0 0l45 18m0 0l45-68m0 0l45 48m0 0l46 14m0 0l45-3m0 0l45-37m0 0l46 52m0 0l45-20m0 0l45 39m0 0l45-7m0 0l46-23m0 0l45 22m0 0l45-19m0 0l46 2m0 0l45-19m0 0l45 37m0 0l46 31m0 0l45-15m0 0l45-1m0 0l45-13m0 0l46 6m0 0l45 36m0 0l45-56m0 0l46 96m0 0l45-53m0 0l45 61m0 0l46-23m0 0l45-38m0 0l45 33m0 0l45-10m0 0l46 8m0 0l45 12m0 0l45-32m0 0l46 1m0 0l45 8m0 0l45-22m0 0l46 31m0 0l45 16m0 0l45 3m0 0l45 2m0 0l46-13m0 0l45 34m0 0l45-71m0 0l46 45m0 0l45 5m0 0l45 34m0 0l46-3m0 0l45 6m0 0l45-18m0 0l45 27m0 0l46-48m0 0l45 31m0 0l45-54m0 0l46 102m0 0l45-1m0 0l45-54m0 0l45-4m0 0l46-30m0 0l45 17m0 0l45 46m0 0l46-5m0 0l45-32m0 0l45 28m0 0l46-1m0 0l45 32m0 0l45 9m0 0l45-22m0 0l46 11m0 0l45 0m0 0l45-52m0 0l46 61m0 0l45-4m0 0l45 24m0 0l46-65m0 0l45 70m0 0l45-34m0 0l45 26m0 0l46 27m0 0l45-67m0 0l45 6m0 0l46 63m0 0l45-53m0 0l45 7m0 0l46 43m0 0l45-19m0 0l45 28m0 0l45-10m0 0l46-7m0 0l45 29m0 0l45 34m0 0l46-58m0 0l45 44m0 0l45-7m0 0l46-24m0 0l45 11m0 0l45-34m0 0l45 10m0 0l46 26m0 0l45-7m0 0l45 38m0 0l46-66m0 0l45 28m0 0l45-7m0 0l45 15m0 0l46 37m0 0l45-60m0 0l45 55m0 0l46-35m0 0l45 9m0 0l45 36m0 0l46-31m0 0l45 27m0 0l45-13m0 0l45-5m0 0l46-3m0 0l45-34m0 0l45 28m0 0l46 26m0 0l45 2m0 0l45-42m0 0l46 67m0 0l45-9m0 0l45-47m0 0l45 9m0 0l46 42m0 0l45-57m0 0l45 28m0 0l46 20m0 0l45 0m0 0l45 4m0 0l46 13m0 0l45-29m0 0l45 10m0 0l45 68m0 0l46-88m0 0l45 26m0 0l45 17m0 0l46-18m0 0l45 50m0 0l45-28m0 0l45 20m0 0l46-86m0 0l45 100m0 0l45 1m0 0l46-48m0 0l45 56m0 0l45-26m0 0l46 19m0 0l45 25m0 0l45-43m0 0l45-27m0 0l46 28m0 0l45-31m0 0l45 14m0 0l46 2m0 0l45 3m0 0l45 51m0 0l46-7m0 0l45-44m0 0l45 55m0 0l45-72m0 0l46 29m0 0l45 15m0 0l45 36m0 0l46-10m0 0l45-6m0 0l45 24m0 0l46-14m0 0l45 19m0 0l45-55m0 0l45-22m0 0l46 35m0 0l45 34m0 0l45-13m0 0l46 18m0 0l45-3m0 0l45-4m0 0l46 9m0 0l45-38m0 0l45 49m0 0l45-53m0 0l46 24m0 0l45-32m0 0l45 51m0 0l46-52m0 0l45 79m0 0l45-70m0 0l45 43m0 0l46-9m0 0l45-18m0 0l45 57m0 0l46-42m0 0l45 51m0 0l45-64m0 0l46 7m0 0l45-29m0 0l45 68m0 0l45 10m0 0l46-16m0 0l45-9m0 0l45-18m0 0l46 86m0 0l45-40m0 0l45-66m0 0l46 41m0 0l45-58m0 0l45 110m0 0l45 12m0 0l46-12m0 0l45-38m0 0l45-13m0 0l46-19m0 0l45 51m0 0l45-31m0 0l46 11m0 0l45-6m0 0l45 10m0 0l45 33m0 0l46 22m0 0l45-39m0 0l45-2m0 0l46-28m0 0l45-2m0 0l45 6m0 0l46 52m0 0l45-15m0 0l45 20m0 0l45-13m0 0l46-20m0 0l45-21m0 0l45 24m0 0l46-26m0 0l45 91m0 0l45-44m0 0l45-15m0 0l46 63m0 0l45-61m0 0l45 26m0 0l46-18m0 0l45 15m0 0l45-18m0 0l46 24m0 0l45 26m0 0l45-69m0 0l45-24m0 0l46 95m0 0l45-30m0 0l45 20m0 0l46-29m0 0l45 49m0 0l45 9m0 0l46-77m0 0l45 49m0 0l45-32m0 0l45-25m0 0l46 35m0 0l45 24m0 0l45-49m0 0l46 3m0 0l45 67m0 0l45-30m0 0l46 11m0 0l45-39m0 0l45 14m0 0l45 21m0 0l46 3m0 0l45 0m0 0l45 40m0 0l46-37m0 0l45-43m0 0l45 18m0 0l46 23m0 0l45 36m0 0l45-50m0 0l45 9m0 0l46 10m0 0l45-16m0 0l45-2m0 0l46 17m0 0l45 33m0 0l45-12m0 0l45-19m0 0l46 19m0 0l45-43m0 0l45 61m0 0l46-5m0 0l45-11m0 0l45-49m0 0l46 98m0 0l45-130m0 0l45 52m0 0l45 4m0 0l46 43m0 0l45-56m0 0l45 47m0 0l46-9m0 0l45-3m0 0l45 32m0 0l46 16m0 0l45-26m0 0l45-16m0 0l45-52m0 0l46 100m0 0l45-45m0 0l45-40m0 0l46 55m0 0l45 35m0 0l45-41m0 0l46-26m0 0l45 92m0 0l45-42m0 0l45-6m0 0l46 19m0 0l45-83m0 0l45 57m0 0l46-2m0 0l45 66m0 0l45-74m0 0l46 2m0 0l45-21m0 0l45 16m0 0l45 17m0 0l46 14m0 0l45-11m0 0l45 59m0 0l46-39m0 0l45 5m0 0l45 21m0 0l45-19m0 0l46-29m0 0l45-26m0 0l45 51m0 0l46-30m0 0l45 58m0 0l45-54m0 0l46-38m0 0l45 61m0 0l45 28m0 0l45-33m0 0l46 12m0 0l45 0m0 0l45 42m0 0l46-36m0 0l45-9m0 0l45-14m0 0l46-26m0 0l45 81m0 0l45-6m0 0l45-54m0 0l46 42m0 0l45-7m0 0l45-18m0 0l46 3m0 0l45 29m0 0l45-51m0 0l46 19m0 0l45 12m0 0l45 3m0 0l45-5m0 0l46 12m0 0l45 9m0 0l45-37m0 0l46 27m0 0l45-16m0 0l45 55m0 0l45-76m0 0l46 31m0 0l45 26m0 0l45-26m0 0l46 0m0 0l45-5m0 0l45 23m0 0l46-38m0 0l45 29m0 0l45 1m0 0l45-36m0 0l46 47m0 0l45-19m0 0l45 21m0 0l46 15m0 0l45-12m0 0l45-40m0 0l46 40m0 0l45-50m0 0l45 23m0 0l45 65m0 0l46-43m0 0l45 41m0 0l45-45m0 0l46 6m0 0l45-29m0 0l45 55m0 0l46-30m0 0l45 23m0 0l45-5m0 0l45 4m0 0l46-5m0 0l45-9m0 0l45 2m0 0l46-18m0 0l45-37m0 0l45 70m0 0l46 42m0 0l45-26m0 0l45 34m0 0l45-48m0 0l46-37m0 0l45 0m0 0l45 46m0 0l46-10m0 0l45-13m0 0l45 25m0 0l45-42m0 0l46 37m0 0l45-20m0 0l45 12m0 0l46 27m0 0l45-34m0 0l45 41m0 0l46-1m0 0l45-54m0 0l45 81m0 0l45-93m0 0l46 31m0 0l45 22m0 0l45-79m0 0l46 88m0 0l45 3m0 0l45-32m0 0l46 11m0 0l45-1m0 0l45-11m0 0l45 34m0 0l46-37m0 0l45 9m0 0l45 11m0 0l46 14m0 0l45 7m0 0l45-68m0 0l46-14m0 0l45 51m0 0l45 2m0 0l45-26m0 0l46 37m0 0l45 9m0 0l45-6m0 0l46 34m0 0l45-71m0 0l45 29m0 0l46 51m0 0l45-33m0 0l45-47m0 0l45 35m0 0l46 27m0 0l45 24m0 0l45-37m0 0l46 14m0 0l45-60m0 0l45 23m0 0l45 39m0 0l46-56m0 0l45 24m0 0l45-48m0 0l46 89m0 0l45-42m0 0l45 19m0 0l46-54m0 0l45 5m0 0l45 83m0 0l45-56m0 0l46-5m0 0l45 28m0 0l45 2m0 0l46-66m0 0l45 26m0 0l45 28m0 0l46-1m0 0l45 10m0 0l45-20m0 0l45 4m0 0l46 14m0 0l45-24m0 0l45-3m0 0l46 8m0 0l45 15m0 0l45-4m0 0l46-8m0 0l45 7m0 0l45 5m0 0l45 10m0 0l46 2m0 0l45-43m0 0l45 60m0 0l46-67m0 0l45 57m0 0l45-33m0 0l46 34m0 0l45 13m0 0l45-77m0 0l45 66m0 0l46-8m0 0l45-19m0 0l45 23m0 0l46-23m0 0l45 17m0 0l45-31m0 0l45 49m0 0l46-5m0 0l45 5m0 0l45-36m0 0l46 66m0 0l45 4m0 0l45-54m0 0l46-8m0 0l45 0m0 0l45 30m0 0l45 9m0 0l46-46m0 0l45-33m0 0l45 65m0 0l46-12m0 0l45 6m0 0l45 9m0 0l46-42m0 0l45 31m0 0l45-9m0 0l45 18m0 0l46 23m0 0l45-32m0 0l45-22m0 0l46 56m0 0l45-14m0 0l45-23m0 0l46-42m0 0l45 25m0 0l45 27m0 0l45 11m0 0l46-27m0 0l45 25m0 0l45-27m0 0l46 6m0 0l45 25m0 0l45-20m0 0l46 11m0 0l45 19m0 0l45 8m0 0l45-45m0 0l46 9m0 0l45-27m0 0l45 1m0 0l46 42m0 0l45-21m0 0l45-34m0 0l45 63m0 0l46-36m0 0l45 15m0 0l45 19m0 0l46 0m0 0l45-11m0 0l45-50m0 0l46 67m0 0l45-30m0 0l45-21m0 0l45-20m0 0l46 93m0 0l45-30m0 0l45-1m0 0l46 14m0 0l45-17m0 0l45-36m0 0l46 56m0 0l45 9m0 0l45-12m0 0l45 27m0 0l46 11m0 0l45-70m0 0l45 10m0 0l46 35m0 0l45-18m0 0l45 1m0 0l46 20m0 0l45-5m0 0l45-30m0 0l45 15m0 0l46-21m0 0l45 14m0 0l45-23m0 0l46-22m0 0l45 39m0 0l45-2m0 0l45 39m0 0l46 19m0 0l45-40m0 0l45 12m0 0l46-28m0 0l45-7m0 0l45 17m0 0l46 1m0 0l45 15m0 0l45-4m0 0l45 41m0 0l46-48m0 0l45-37m0 0l45 47m0 0l46-20m0 0l45 23m0 0l45 24m0 0l46-45m0 0l45 15m0 0l45 16m0 0l45-37m0 0l46 31m0 0l45 9m0 0l45 7m0 0l46 8m0 0l45-13m0 0l45-4m0 0l46-46m0 0l45-33m0 0l45 45m0 0l45 63m0 0l46-34m0 0l45-61m0 0l45 49m0 0l46 20m0 0l45-57m0 0l45 64m0 0l46-44m0 0l45 57m0 0l45-25m0 0l45 80m0 0l46-115m0 0l45 43m0 0l45-45m0 0l46 68m0 0l45-26m0 0l45 22m0 0l45-21m0 0l46-33m0 0l45 14m0 0l45-14m0 0l46 5m0 0l45 32m0 0l45 24m0 0l46-5m0 0l45-8m0 0l45-28m0 0l45 29m0 0l46-35m0 0l45 28m0 0l45 17m0 0l46-26m0 0l45-7m0 0l45 1m0 0l46 28m0 0l45-24m0 0l45-28m0 0l45 27m0 0l46-17m0 0l45 67m0 0l45-38m0 0l46-38m0 0l45 46m0 0l45 12m0 0l46-8m0 0l45-19m0 0l45 14m0 0l45 4m0 0l46 19m0 0l45-16m0 0l45 50m0 0l46-64m0 0l45 46m0 0l45-39m0 0l46-44m0 0l45 14m0 0l45-16m0 0l45 3m0 0l46 76m0 0l45-47m0 0l45 33m0 0l46-38m0 0l45 23m0 0l45-27m0 0l45 51m0 0l46-29m0 0l45-5m0 0l45 8m0 0l46 62m0 0l45-45m0 0l45 11m0 0l46-53m0 0l45 15m0 0l45 25m0 0l45-55m0 0l46 83m0 0l45-27m0 0l45-7m0 0l46-4m0 0l45 0m0 0l45-7m0 0l46 50m0 0l45-18m0 0l45 15m0 0l45-40m0 0l46-14m0 0l45 58m0 0l45-66m0 0l46 16m0 0l45 35m0 0l45 10m0 0l46-61m0 0l45 27m0 0l45 8m0 0l45-3m0 0l46-19m0 0l45 41m0 0l45-31m0 0l46 8m0 0l45-52m0 0l45 56m0 0l46-47m0 0l45 69m0 0l45-5m0 0l45-25m0 0l46 18m0 0l45-1m0 0l45-6m0 0l46 14m0 0l45-12m0 0l45-9m0 0l45-8m0 0l46 65m0 0l45-38m0 0l45-5m0 0l46 19m0 0l45-28m0 0l45 1m0 0l46 27m0 0l45 10m0 0l45-8m0 0l45-56m0 0l46 41m0 0l45-2m0 0l45 13m0 0l46-34m0 0l45-4m0 0l45 25m0 0l46-20m0 0l45-4m0 0l45 27m0 0l45 26m0 0l46-20m0 0l45 26m0 0l45-54m0 0l46 44m0 0l45-18m0 0l45-22m0 0l46 13m0 0l45-11m0 0l45 17m0 0l45-13m0 0l46 52m0 0l45-41m0 0l45-27m0 0l46 32m0 0l45 15m0 0l45-17m0 0l46 31m0 0l45-45m0 0l45 2m0 0l45 64m0 0l46-41m0 0l45 14m0 0l45-1m0 0l46 3m0 0l45-13m0 0l45-6m0 0l45 34m0 0l46-40m0 0l45 16m0 0l45 15m0 0l46-27m0 0l45-29m0 0l45 52m0 0l46 16m0 0l45-20m0 0l45-49m0 0l45 60m0 0l46 34m0 0l45-89m0 0l45-30m0 0l46 64m0 0l45 9m0 0l45 18m0 0l46 2m0 0l45-18m0 0l45 12m0 0l45-5m0 0l46-5m0 0l45-4m0 0l45-2m0 0l46 23m0 0l45-7m0 0l45-21m0 0l46 39m0 0l45-45m0 0l45 13m0 0l45 10m0 0l46-52m0 0l45 40m0 0l45 32m0 0l46-1m0 0l45-50m0 0l45 9m0 0l45-5m0 0l46 22m0 0l45 4m0 0l45-38m0 0l46 49m0 0l45-5m0 0l45-4m0 0l46-14m0 0l45 13m0 0l45-40m0 0l45 51m0 0l46 1m0 0l45-8m0 0l45-27m0 0l46 63m0 0l45-3m0 0l45-75m0 0l46 58m0 0l45-6m0 0l45-68m0 0l45 78m0 0l46 4m0 0l45 3m0 0l45-14m0 0l46-20m0 0l45 4m0 0l45 27m0 0l46 17m0 0l45-41m0 0l45 6m0 0l45 25m0 0l46-72m0 0l45 67m0 0l45-17m0 0l46-49m0 0l45 76m0 0l45-42m0 0l46 43m0 0l45 16m0 0l45-66m0 0l45 2m0 0l46 31m0 0l45-44m0 0l45 64m0 0l46-14m0 0l45 21m0 0l45-70m0 0l45 52m0 0l46 7m0 0l45-57m0 0l45 69m0 0l46-57m0 0l45 40m0 0l45-37m0 0l46 54m0 0l45 24m0 0l45-41m0 0l45 0m0 0l46 33m0 0l45-44m0 0l45 13m0 0l46 21m0 0l45-10m0 0l45 30m0 0l46-9m0 0l45 19m0 0l45-48m0 0l45 30m0 0l46-49m0 0l45 45m0 0l45 22m0 0l46 16m0 0l45-91m0 0l45 28m0 0l46 24m0 0l45-40m0 0l45 37m0 0l45 0m0 0l46-25m0 0l45-1m0 0l45-9m0 0l46 32m0 0l45 25m0 0l45-24m0 0l46 64m0 0l45-108m0 0l45 24m0 0l45 33m0 0l46-46m0 0l45 39m0 0l45 12m0 0l46-15m0 0l45-10m0 0l45 30m0 0l45-12m0 0l46 8m0 0l45-4m0 0l45-30m0 0l46-10m0 0l45 19m0 0l45 15m0 0l46-9m0 0l45 30m0 0l45-17m0 0l45 19m0 0l46-21m0 0l45-21m0 0l45 41m0 0l46-9m0 0l45-33m0 0l45 12m0 0l46 82m0 0l45-157m0 0l45 116m0 0l45-27m0 0l46-2m0 0l45-5m0 0l45-5m0 0l46 74m0 0l45-71m0 0l45 4m0 0l46 29m0 0l45-10m0 0l45-14m0 0l45-2m0 0l46-26m0 0l45 63m0 0l45-54m0 0l46-35m0 0l45 90m0 0l45-7m0 0l46-10m0 0l45-21m0 0l45 44m0 0l45-57m0 0l46-28m0 0l45 61m0 0l45 18m0 0l46-5m0 0l45 39m0 0l45-32m0 0l45-26m0 0l46 2m0 0l45 28m0 0l45-24m0 0l46-1m0 0l45-41m0 0l45 38m0 0l46-24m0 0l45 40m0 0l45-2m0 0l45 16m0 0l46 28m0 0l45-50m0 0l45 43m0 0l46-66m0 0l45 35m0 0l45 21m0 0l46 27m0 0l45-79m0 0l45 23m0 0l45 11m0 0l46-5m0 0l45-21m0 0l45-17m0 0l46 11m0 0l45 31m0 0l45-32m0 0l46 81m0 0l45-13m0 0l45-80m0 0l45 37m0 0l46 48m0 0l45 4m0 0l45-8m0 0l46-65m0 0l45 29m0 0l45 43m0 0l46-29m0 0l45-14m0 0l45 26m0 0l45 13m0 0l46-21m0 0l45 4m0 0l45 22m0 0l46-42m0 0l45-8m0 0l45 45m0 0l45-51m0 0l46 45m0 0l45-31m0 0l45 42m0 0l46-52m0 0l45 61m0 0l45-21m0 0l46-14m0 0l45-14m0 0l45 20m0 0l45-20m0 0l46-6m0 0l45 60m0 0l45-11m0 0l46 17m0 0l45-66m0 0l45-15m0 0l46 11m0 0l45 59m0 0l45 5m0 0l45-68m0 0l46 75m0 0l45-37m0 0l45-18m0 0l46 30m0 0l45 18m0 0l45-19m0 0l46 2m0 0l45-16m0 0l45-14m0 0l45 28m0 0l46-31m0 0l45 59m0 0l45-36m0 0l46 58m0 0l45-74m0 0l45 79m0 0l45-58m0 0l46 1m0 0l45 32m0 0l45 18m0 0l46-23m0 0l45-7m0 0l45 63m0 0l46-37m0 0l45-43m0 0l45 26m0 0l45 53m0 0l46-34m0 0l45 14m0 0l45 34m0 0l46-67m0 0l45 27m0 0l45-25m0 0l46 19m0 0l45 16m0 0l45-47m0 0l45 40m0 0l46 2m0 0l45 25m0 0l45-41m0 0l46-15m0 0l45 45m0 0l45-38m0 0l46 36m0 0l45 12m0 0l45-35m0 0l45 21m0 0l46-22m0 0l45-45m0 0l45 38m0 0l46-14m0 0l45 57m0 0l45-27m0 0l46 27m0 0l45 4m0 0l45 31m0 0l45-35m0 0l46 1m0 0l45 26m0 0l45 31m0 0l46-42m0 0l45 13m0 0l45-12m0 0l45-11m0 0l46-20m0 0l45 40m0 0l45-2m0 0l46 2m0 0l45 61m0 0l45-59m0 0l46 20m0 0l45-16m0 0l45 42m0 0l45-36m0 0l46 58m0 0l45-53m0 0l45 29m0 0l46 9m0 0l45-31m0 0l45 31m0 0l46-19m0 0l45-19m0 0l45 4m0 0l45 29m0 0l46 40m0 0l45-58m0 0l45 30m0 0l46-34m0 0l45 30m0 0l45-38m0 0l46 15m0 0l45 23m0 0l45-18m0 0l45 15m0 0l46 35m0 0l45-27m0 0l45-14m0 0l46-11m0 0l45 20m0 0l45 46m0 0l46-30m0 0l45 0m0 0l45 25m0 0l45 5m0 0l46 6m0 0l45-33m0 0l45-13m0 0l46-18m0 0l45 28m0 0l45 10m0 0l45 30m0 0l46-8m0 0l45-22m0 0l45 40m0 0l46-54m0 0l45 7m0 0l45-1m0 0l46 4m0 0l45 23m0 0l45-14m0 0l45 4m0 0l46 57m0 0l45-72m0 0l45 13m0 0l46 23m0 0l45 19m0 0l45 3m0 0l46-18m0 0l45-1m0 0l45 4m0 0l45 27m0 0l46-41m0 0l45-36m0 0l45 67m0 0l46-34m0 0l45 31m0 0l45 39m0 0l46-32m0 0l45 46m0 0l45-88m0 0l45 49m0 0l46 5m0 0l45 13m0 0l45-40m0 0l46 25m0 0l45 0m0 0l45 0m0 0l46-37m0 0l45-8m0 0l45 60m0 0l45-4m0 0l46-7m0 0l45 16m0 0l45 13m0 0l46-58m0 0l45 52m0 0l45 19m0 0l45-11m0 0l46-11m0 0l45 4m0 0l45-55m0 0l46 25m0 0l45 40m0 0l45 13m0 0l46-26m0 0l45-24m0 0l45 9m0 0l45 26m0 0l46 31m0 0l45-32m0 0l45-33m0 0l46 30m0 0l45-5m0 0l45 51m0 0l46-47m0 0l45-14m0 0l45-3m0 0l45-30m0 0l46 5m0 0l45 15m0 0l45-9m0 0l46 26m0 0l45-3m0 0l45 22m0 0l46 15m0 0l45-35m0 0l45-10m0 0l45-43m0 0l46 58m0 0l45 7m0 0l45-37m0 0l46 9m0 0l45-8m0 0l45 46m0 0l46-12m0 0l45 15m0 0l45-63m0 0l45 100m0 0l46-92m0 0l45-5m0 0l45 32m0 0l46-20m0 0l45 61m0 0l45-58m0 0l45-8m0 0l46 43m0 0l45 6m0 0l45-54m0 0l46 9m0 0l45 2m0 0l45 5m0 0l46 48m0 0l45-12m0 0l45-6m0 0l45 5m0 0l46-33m0 0l45 21m0 0l45-25m0 0l46-18m0 0l45 62m0 0l45-89m0 0l46 45m0 0l45-16m0 0l45-29m0 0l45 33m0 0l46 11m0 0l45 9m0 0l45-34m0 0l46 40m0 0l45-12m0 0l45 12m0 0l46-72m0 0l45 38m0 0l45-5m0 0l45 30m0 0l46-35m0 0l45 5m0 0l45-17m0 0l46-2m0 0l45 6m0 0l45 48m0 0l45-54m0 0l46-36m0 0l45 70m0 0l45-20m0 0l46 25m0 0l45-2m0 0l45-23m0 0l46-3m0 0l45-5m0 0l45 14m0 0l45-21m0 0l46 24m0 0l45 30m0 0l45-54m0 0l46 0m0 0l45-2m0 0l45 32m0 0l46 0m0 0l45 19m0 0l45-19m0 0l45-17m0 0l46 8m0 0l45-47m0 0l45 48m0 0l46-11m0 0l45 48m0 0l45-19m0 0l46-59m0 0l45 6m0 0l45 37m0 0l45-78m0 0l46 29m0 0l45 32m0 0l45 6m0 0l46-13m0 0l45 24m0 0l45-38m0 0l46 8m0 0l45-8m0 0l45-25m0 0l45 28m0 0l46-16m0 0l45 15m0 0l45-71m0 0l46 69m0 0l45-18m0 0l45-3m0 0l45 16m0 0l46-14m0 0l45 35m0 0l45 7m0 0l46-11m0 0l45 1m0 0l45-17m0 0l46-10m0 0l45-35m0 0l45 22m0 0l45 40m0 0l46-13m0 0l45-34m0 0l45 15m0 0l46 23m0 0l45-33m0 0l45 45m0 0l46-63m0 0l45 39m0 0l45-4m0 0l45-15m0 0l46 3m0 0l45 4m0 0l45-74m0 0l46 70m0 0l45 16m0 0l45-20m0 0l46 17m0 0l45-61m0 0l45 27m0 0l45 9m0 0l46-16m0 0l45 36m0 0l45-19m0 0l46-28m0 0l45 33m0 0l45-1m0 0l46-34m0 0l45 26m0 0l45-7m0 0l45-2m0 0l46-43m0 0l45 64m0 0l45-18m0 0l46-19m0 0l45 9m0 0l45-2m0 0l45-18m0 0l46-8m0 0l45 16m0 0l45-19m0 0l46 1m0 0l45-19m0 0l45 22m0 0l46 32m0 0l45-22m0 0l45-6m0 0l45-11m0 0l46-4m0 0l45-29m0 0l45 80m0 0l46-63m0 0l45-21m0 0l45 48m0 0l46-6m0 0l45-21m0 0l45-26m0 0l45 1m0 0l46 75m0 0l45-45m0 0l45-15m0 0l46 64m0 0l45-64m0 0l45-11m0 0l46 37m0 0l45-6m0 0l45 29m0 0l45-82m0 0l46 47m0 0l45-53m0 0l45 54m0 0l46-30m0 0l45 4m0 0l45-9m0 0l46 40m0 0l45 19m0 0l45-46m0 0l45-6m0 0l46-7m0 0l45 25m0 0l45-42m0 0l46 118m0 0l45-100m0 0l45 50m0 0l45-42m0 0l46-41m0 0l45-6m0 0l45 28m0 0l46-9m0 0l45 11m0 0l45-25m0 0l46 90m0 0l45-7m0 0l45-104m0 0l45 59m0 0l46 17m0 0l45-41m0 0l45 1m0 0l46 33m0 0l45-15m0 0l45-47m0 0l46 62m0 0l45-46m0 0l45 60m0 0l45-75m0 0l46-36m0 0l45 61m0 0l45 27m0 0l46-20m0 0l45-11m0 0l45-29m0 0l46 46m0 0l45-74m0 0l45 67m0 0l45-54m0 0l46 14m0 0l45-20m0 0l45 9m0 0l46 61m0 0l45-72m0 0l45 34m0 0l46-28m0 0l45 46m0 0l45-64m0 0l45 33m0 0l46 22m0 0l45 34m0 0l45-92m0 0l46 6m0 0l45 19m0 0l45 39m0 0l45-68m0 0l46 46m0 0l45-40m0 0l45-13m0 0l46-16m0 0l45 43m0 0l45 20m0 0l46-30m0 0l45-55m0 0l45 39m0 0l45 38m0 0l46-5m0 0l45-17m0 0l45 29m0 0l46-74m0 0l45-1m0 0l45 93m0 0l46-47m0 0l45-25m0 0l45-10m0 0l45-57m0 0l46 88m0 0l45-78m0 0l45 0m0 0l46 49m0 0l45 39m0 0l45-52m0 0l46 18m0 0l45-23m0 0l45 20m0 0l45-56m0 0l46 97m0 0l45-83m0 0l45 39m0 0l46-71m0 0l45 99m0 0l45-37m0 0l45 40m0 0l46-73m0 0l45 44m0 0l45-34m0 0l46 2m0 0l45 33m0 0l45-60m0 0l46 42m0 0l45 31m0 0l45-7m0 0l45-20m0 0l46-21m0 0l45-36m0 0l45 63m0 0l46-58m0 0l45 49m0 0l45-42m0 0l46 7m0 0l45-1m0 0l45 14m0 0l45-29m0 0l46 16m0 0l45-20m0 0l45 26m0 0l46-7m0 0l45 2m0 0l45-34m0 0l46 30m0 0l45-9m0 0l45 13m0 0l45-15m0 0l46-28m0 0l45 44m0 0l45-37m0 0l46 24m0 0l45-63m0 0l45 68m0 0l46 3m0 0l45-42m0 0l45 39m0 0l45-26m0 0l46 46m0 0l45-19m0 0l45-51m0 0l46 27m0 0l45-42m0 0l45 38m0 0l45 23m0 0l46 8m0 0l45-25m0 0l45-4m0 0l46 11m0 0l45-20m0 0l45 25m0 0l46 21m0 0l45-25m0 0l45 18m0 0l45-43m0 0l46 8m0 0l45 22m0 0l45 45m0 0l46-26m0 0l45 19m0 0l45-44m0 0l46 32m0 0l45-76m0 0l45 58m0 0l45-68m0 0l46 88m0 0l45-19m0 0l45 19m0 0l46-20m0 0l45-23m0 0l45-6m0 0l46 25m0 0l45 36m0 0l45-23m0 0l45-30m0 0l46 0m0 0l45-3m0 0l45 14m0 0l46 4m0 0l45-9m0 0l45 14m0 0l46-41m0 0l45 83m0 0l45-33m0 0l45 34m0 0l46-31m0 0l45-12m0 0l45 8m0 0l46 5m0 0l45-22m0 0l45 8m0 0l45 61m0 0l46-24m0 0l45-37m0 0l45 28m0 0l46-35m0 0l45 61m0 0l45-63m0 0l46 51m0 0l45-21m0 0l45 1m0 0l45-21m0 0l46 16m0 0l45-12m0 0l45-1m0 0l46 36m0 0l45 55m0 0l45-74m0 0l46 36m0 0l45-25m0 0l45-17m0 0l45 55m0 0l46-17m0 0l45 15m0 0l45-26m0 0l46 2m0 0l45-24m0 0l45 16m0 0l46 53m0 0l45-103m0 0l45 72m0 0l45 29m0 0l46-16m0 0l45 4m0 0l45-29m0 0l46 38m0 0l45 2m0 0l45-29m0 0l46 46m0 0l45-55m0 0l45-51m0 0l45 66m0 0l46-1m0 0l45-18m0 0l45 12m0 0l46-1m0 0l45-32m0 0l45 82m0 0l45-31m0 0l46 72m0 0l45-70m0 0l45 13m0 0l46-49m0 0l45 68m0 0l45-54m0 0l46 44m0 0l45 12m0 0l45-3m0 0l45-40m0 0l46 2m0 0l45 43m0 0l45 12m0 0l46 9m0 0l45-38m0 0l45 0m0 0l46 51m0 0l45-61m0 0l45 37m0 0l45-27m0 0l46-27m0 0l45 9m0 0l45 43m0 0l46-5m0 0l45 9m0 0l45-21m0 0l46-2m0 0l45 22m0 0l45-11m0 0l45-36m0 0l46 32m0 0l45 57m0 0l45-63m0 0l46 36m0 0l45-15m0 0l45 22m0 0l46-40m0 0l45-9m0 0l45 46m0 0l45-29m0 0l46 19m0 0l45-6m0 0l45 35m0 0l46-17m0 0l45-2m0 0l45-28m0 0l45-14m0 0l46 20m0 0l45 45m0 0l45-2m0 0l46-2m0 0l45-25m0 0l45-15m0 0l46 58m0 0l45-24m0 0l45 11m0 0l45-38m0 0l46 8m0 0l45 36m0 0l45 3m0 0l46-44m0 0l45 35m0 0l45-37m0 0l46 63m0 0l45-13m0 0l45 42m0 0l45-18m0 0l46-56m0 0l45 23m0 0l45-16m0 0l46 17m0 0l45 17m0 0l45-19m0 0l46 2m0 0l45-35m0 0l45 50m0 0l45-14m0 0l46 17m0 0l45 12m0 0l45-26m0 0l46 18m0 0l45-33m0 0l45 41m0 0l45-25m0 0l46-14m0 0l45 10m0 0l45-30m0 0l46 21m0 0l45 6m0 0l45 12m0 0l46-2m0 0l45-14m0 0l45 12m0 0l45-50m0 0l46 58m0 0l45 12m0 0l45 7m0 0l46 7m0 0l45-33m0 0l45 4m0 0l46-10m0 0l45 0m0 0l45 16m0 0l45 31m0 0l46-78m0 0l45 31m0 0l45 20m0 0l46-33m0 0l45 36m0 0l45-46m0 0l46 27m0 0l45-34m0 0l45 50m0 0l45-28m0 0l46 37m0 0l45-24m0 0l45-17m0 0l46 13m0 0l45 15m0 0l45-4m0 0l46-6m0 0l45-3m0 0"/>
<path class="cv" stroke="#00ffff" d="M201,212.5l1.5 2.5l1.5 2.4l1.5 2.4l1.5 2.5l1.5 2.4l1.5 2.4l1.5 2.4l1.5 2.4l1.5 2.4l1.5 2.3l1.5 2.4l1.5 2.4l1.5 2.3l1.5 2.4l1.5 2.3l1.5 2.4l1.5 2.3l1.5 2.3l1.5 2.4l1.5 2.3l1.5 2.3l1.5 2.3l1.5 2.4l1.5 2.3l1.5 2.3l1.5 2.2l1.5 2.1l1.5 2.1l1.5 2.2l1.5 2.1l1.5 2.1l1.5 2.2l1.5 2.1l1.5 2.1l1.5 2.2l1.5 2.1l1.5 2.2l1.5 2.1l1.5 2.2l1.5 2.1l1.5 2.2l1.5 2.1l1.5 2.2l1.5 2.1l1.5 2.2l1.5 2.2l1.5 2.1l1.5 2.2l1.5 2.2l1.5 2.2l1.5 2.2l1.5 2.2l1.5 2.2l1.5 2.2l1.5 2.2l1.5 2.2l1.5 2.3l1.5 2.2l1.5 2.3l1.5 2.3l1.5 2.4l1.5 2.4l1.5 2.5l1.5 2.5l1.5 2.5l1.5 2.6l1.5 2.5l1.5 2.6l1.5 2.5l1.5 2.6l1.5 2.6l1.5 2.7l1.5 2.6l1.5 2.5l1.5 2.5l1.5 2.4l1.5 2.5l1.5 2.5l1.5 2.4l1.5 2.5l1.5 2.5l1.5 2.5l1.5 2.4l1.5 2.5l1.5 2.4l1.5 2.5l1.5 2.4l1.5 2.4l1.5 2.4l1.5 2.4l1.5 2.3l1.5 2.3l1.5 2.3l1.5 2.3l1.5 2.2l1.5 2.3l1.5 2.1l1.5 2.2l1.5 2.1l1.5 2.1l1.5 2.1l1.5 2l1.5 2l1.5 2l1.5 2l1.5 2l1.5 2.1l1.5 2l1.5 2l1.5 2l1.5 2l1.5 1.9l1.5 1.9l1.5 1.9l1.5 1.9l1.5 1.9l1.5 1.9l1.5 1.8l1.5 1.9l1.5 1.8l1.5 1.9l1.5 1.8l1.5 1.9l1.5 1.8l1.5 1.8l1.5 1.9l1.5 1.8l1.5 1.9l1.5 1.8l1.5 1.9l1.5 1.8l1.5 1.9l1.5 1.8l1.5 1.9l1.5 1.8l1.5 1.9l1.5 1.8l1.5 1.9l1.5 1.9l1.5 1.9l1.5 2l1.5 1.9l1.5 2l1.5 1.9l1.5 2l1.5 2l1.5 2l1.5 2l1.5 2l1.5 2l1.5 2l1.5 1.9l1.5 2l1.5 2l1.5 2l1.5 2l1.5 2l1.5 2.1l1.5 2l1.5 2.1l1.5 2.1l1.5 2.1l1.5 2.1l1.5 2.1l1.5 2.2l1.5 2.1l1.5 2.2l1.5 2.2l1.5 2.2l1.5 2.2l1.5 2.2l1.5 2.2l1.5 2.3l1.5 2.2l1.5 2.3l1.5 2.3l1.5 2.3l1.5 2.3l1.5 2.4l1.5 2.4l1.5 2.4l1.5 2.4l1.5 2.4l1.5 2.4l1.5 2.5l1.5 2.5l1.5 2.5l1.5 2.5l1.5 2.5l1.5 2.6l1.5 2.6l1.5 2.5l1.5 2.6l1.5 2.5l1.5 2.6l1.5 2.5l1.5 2.6l1.5 2.6l1.5 2.6l1.5 2.6l1.5 2.7l1.5 2.6l1.5 2.6l1.5 2.7l1.5 2.6l1.5 2.7l1.5 2.7l1.5 2.6l1.5 2.7l1.5 2.7l1.5 2.6l1.5 2.7l1.5 2.7l1.5 2.6l1.5 2.7l1.5 2.6l1.5 2.6l1.5 2.6l1.5 2.8l1.5 3.1l1.5 3.2l1.5 3.4l1.5 3.3l1.5 3.2l1.5 3l1.5 3l1.5 2.9l1.5 2.9l1.5 2.9l1.5 2.9l1.5 2.8l1.5 2.8l1.5 2.8l1.5 2.7l1.5 2.5l1.5 2.4l1.5 2.3l1.5 2.2l1.5 2.2l1.5 2.2l1.5 2.2l1.5 2.2l1.5 2.2l1.5 2.2l1.5 2.2l1.5 2.3l1.5 2.3l1.5 2.3l1.5 2.3l1.5 2.4l1.5 2.4l1.5 2.3l1.5 2.4l1.5 2.4l1.5 2.5l1.5 2.6l1.5 2.7l1.5 2.9l1.5 2.9l1.5 3.3l1.5 3.4l1.5 3.5l1.5 3.6l1.5 4.3l1.5 4.2l1.5 3.9l1.5 3l1.5 2.7l1.5 2.5l1.5 2.4l1.5 2.3l1.5 2.3l1.5 2.3l1.5 2.3l1.5 2.3l1.5 2.3l1.5 2.3l1.5 2.4l1.5 2.4l1.5 2.4l1.5 2.5l1.5 2.4l1.5 2.5l1.5 2.5l1.5 2.5l1.5 2.4l1.5 2.6l1.5 2.4l1.5 2.2l1.5 2.1l1.5 2.1l1.5 2.1l1.5 2.1l1.5 2.2l1.5 2.1l1.5 2.1l1.5 2l1.5 2.1l1.5 2l1.5 1.9l1.5 2l1.5 1.9l1.5 2l1.5 1.9l1.5 1.9l1.5 1.9l1.5 1.8l1.5 1.9l1.5 1.8l1.5 1.9l1.5 1.8l1.5 1.8l1.5 1.8l1.5 1.8l1.5 1.7l1.5 1.8l1.5 1.7l1.5 1.8l1.5 1.7l1.5 1.7l1.5 1.6l1.5 1.7l1.5 1.7l1.5 1.6l1.5 1.7l1.5 1.6l1.5 1.7l1.5 1.7l1.5 1.8l1.5 1.7l1.5 1.7l1.5 1.8l1.5 1.8l1.5 1.7l1.5 1.8l1.5 1.7l1.5 1.7l1.5 1.8l1.5 1.7l1.5 1.7l1.5 1.7l1.5 1.7l1.5 1.7l1.5 1.7l1.5 1.7l1.5 1.7l1.5 1.7l1.5 1.7l1.5 1.6l1.5 1.7l1.5 1.7l1.5 1.7l1.5 1.6l1.5 1.7l1.5 1.7l1.5 1.6l1.5 1.7l1.5 1.6l1.5 1.7l1.5 1.7l1.5 1.6l1.5 1.7l1.5 1.6l1.5 1.7l1.5 1.6l1.5 1.7l1.5 1.6l1.5 1.6l1.5 1.7l1.5 1.6l1.5 1.7l1.5 1.6l1.5 1.7l1.5 1.6l1.5 1.7l1.5 1.6l1.5 1.7l1.5 1.6l1.5 1.7l1.5 1.7l1.5 1.6l1.5 1.7l1.5 1.6l1.5 1.7l1.5 1.6l1.5 1.7l1.5 1.6l1.5 1.6l1.5 1.6l1.5 1.6l1.5 1.6l1.5 1.7l1.5 1.6l1.5 1.6l1.5 1.6l1.5 1.6l1.5 1.6l1.5 1.6l1.5 1.6l1.5 1.7l1.5 1.6l1.5 1.6l1.5 1.6l1.5 1.5l1.5 1.6l1.5 1.6l1.5 1.6l1.5 1.6l1.5 1.5l1.5 1.6l1.5 1.6l1.5 1.5l1.5 1.6l1.5 1.5l1.5 1.5l1.5 1.6l1.5 1.5l1.5 1.5l1.5 1.5l1.5 1.5l1.5 1.5l1.5 1.5l1.5 1.4l1.5 1.5l1.5 1.4l1.5 1.3l1.5 1.3l1.5 1.3l1.5 1.3l1.5 1.3l1.5 1.2l1.5 1.3l1.5 1.2l1.5 1.2l1.5 1.2l1.5 1.2l1.5 1.2l1.5 1.2l1.5 1.1l1.5 1.1l1.5 1.1l1.5 1.1l1.5 1.1l1.5 1l1.5 1.1l1.5 1l1.5 .9l1.5 1l1.5 .9l1.5 .9l1.5 .9l1.5 .8l1.5 .8l1.5 .8l1.5 .8l1.5 .8l1.5 .7l1.5 .7l1.5 .7l1.5 .7l1.5 .7l1.5 .6l1.5 .7l1.5 .6l1.5 .6l1.5 .6l1.5 .6l1.5 .6l1.5 .5l1.5 .6l1.5 .6l1.5 .6l1.5 .6l1.5 .6l1.5 .7l1.5 .7l1.5 .7l1.5 .8l1.5 .7l1.5 .8l1.5 .8l1.5 .7l1.5 .8l1.5 .8l1.5 .8l1.5 .7"/>
<path class="cn" stroke="#00ffff" transform="scale(.01)" d="M93000,117744l45 23m0 0l46 23m0 0l45 23m0 0l45 23m0 0l45 23m0 0l46 24m0 0l45 24m0 0l45 24m0 0l46 25m0 0l45 24m0 0l45 24m0 0l46 24m0 0l45 25m0 0l45 24m0 0l45 25m0 0l46 25m0 0l45 24m0 0l45 25m0 0l46 24m0 0l45 24m0 0l45 24m0 0l46 24m0 0l45 24m0 0l45 24m0 0l45 23m0 0l46 24m0 0l45 22m0 0l45 23m0 0l46 22m0 0l45 22m0 0l45 22m0 0l46 21m0 0l45 21m0 0l45 21m0 0l45 20m0 0l46 19m0 0l45 20m0 0l45 18m0 0l46 18m0 0l45 19m0 0l45 17m0 0l46 16m0 0l45 17m0 0l45 16m0 0l45 16m0 0l46 16m0 0l45 15m0 0l45 15m0 0l46 15m0 0l45 14m0 0l45 14m0 0l45 15m0 0l46 14m0 0l45 13m0 0l45 13m0 0l46 14m0 0l45 12m0 0l45 15m0 0l46 12m0 0l45 12m0 0l45 14m0 0l45 12m0 0l46 14m0 0l45 11m0 0l45 13m0 0l46 13m0 0l45 13m0 0l45 10m0 0l46 14m0 0l45 13m0 0l45 12m0 0l45 14m0 0l46 11m0 0l45 13m0 0l45 12m0 0l46 14m0 0l45 13m0 0l45 12m0 0l46 13m0 0l45 15m0 0l45 13m0 0l45 14m0 0l46 14m0 0l45 13m0 0l45 13m0 0l46 13m0 0l45 14m0 0l45 15m0 0l46 12m0 0l45 14m0 0l45 14m0 0l45 13m0 0l46 14m0 0l45 13m0 0l45 13m0 0l46 15m0 0l45 14m0 0l45 13m0 0l45 14m0 0l46 13m0 0l45 14m0 0l45 13m0 0l46 14m0 0l45 13m0 0l45 14m0 0l46 13m0 0l45 15m0 0l45 13m0 0l45 16m0 0l46 12m0 0l45 14m0 0l45 10m0 0l46 15m0 0l45 14m0 0l45 14m0 0l46 11m0 0l45 17m0 0l45 14m0 0l45 11m0 0l46 14m0 0l45 14m0 0l45 14m0 0l46 14m0 0l45 15m0 0l45 12m0 0l46 14m0 0l45 13m0 0l45 15m0 0l45 13m0 0l46 14m0 0l45 11m0 0l45 15m0 0l46 13m0 0l45 16m0 0l45 12m0 0l45 13m0 0l46 13m0 0l45 15m0 0l45 12m0 0l46 14m0 0l45 15m0 0l45 16m0 0l46 10m0 0l45 13m0 0l45 13m0 0l45 14m0 0l46 15m0 0l45 14m0 0l45 13m0 0l46 14m0 0l45 13m0 0l45 14m0 0l46 11m0 0l45 15m0 0l45 15m0 0l45 12m0 0l46 14m0 0l45 13m0 0l45 14m0 0l46 16m0 0l45 11m0 0l45 14m0 0l46 15m0 0l45 13m0 0l45 15m0 0l45 8m0 0l46 17m0 0l45 11m0 0l45 14m0 0l46 14m0 0l45 14m0 0l45 13m0 0l46 11m0 0l45 15m0 0l45 10m0 0l45 14m0 0l46 14m0 0l45 11m0 0l45 17m0 0l46 12m0 0l45 15m0 0l45 9m0 0l45 13m0 0l46 14m0 0l45 14m0 0l45 11m0 0l46 16m0 0l45 12m0 0l45 17m0 0l46 10m0 0l45 17m0 0l45 11m0 0l45 13m0 0l46 15m0 0l45 14m0 0l45 17m0 0l46 17m0 0l45 13m0 0l45 16m0 0l46 18m0 0l45 12m0 0l45 16m0 0l45 16m0 0l46 14m0 0l45 23m0 0l45 12m0 0l46 24m0 0l45 17m0 0l45 21m0 0l46 17m0 0l45 17m0 0l45 23m0 0l45 18m0 0l46 21m0 0l45 20m0 0l45 20m0 0l46 21m0 0l45 18m0 0l45 22m0 0l46 16m0 0l45 25m0 0l45 17m0 0l45 27m0 0l46 20m0 0l45 11m0 0l45 25m0 0l46 18m0 0l45 17m0 0l45 23m0 0l45 15m0 0l46 14m0 0l45 22m0 0l45 17m0 0l46 17m0 0l45 12m0 0l45 21m0 0l46 15m0 0l45 8m0 0l45 15m0 0l45 15m0 0l46 10m0 0l45 19m0 0l45 7m0 0l46 8m0 0l45 12m0 0l45 13m0 0l46 18m0 0l45 3m0 0l45 11m0 0l45 12m0 0l46 8m0 0l45 17m0 0l45 1m0 0l46 14m0 0l45 7m0 0l45 11m0 0l46 3m0 0l45 19m0 0l45 2m0 0l45 9m0 0l46 6m0 0l45 9m0 0l45 13m0 0l46 10m0 0l45 7m0 0l45 10m0 0l46 6m0 0l45 6m0 0l45 11m0 0l45 7m0 0l46 5m0 0l45 11m0 0l45 10m0 0l46 4m0 0l45 5m0 0l45 12m0 0l45 12m0 0l46 0m0 0l45 8m0 0l45 8m0 0l46 13m0 0l45-5m0 0l45 17m0 0l46 11m0 0l45-1m0 0l45 17m0 0l45 4m0 0l46 3m0 0l45 11m0 0l45 0m0 0l46 11m0 0l45 18m0 0l45-4m0 0l46 18m0 0l45-1m0 0l45 12m0 0l45 3m0 0l46-3m0 0l45 15m0 0l45 10m0 0l46 1m0 0l45 6m0 0l45 14m0 0l46 2m0 0l45 2m0 0l45 11m0 0l45 14m0 0l46 0m0 0l45 13m0 0l45 9m0 0l46-1m0 0l45 1m0 0l45 5m0 0l46 12m0 0l45 11m0 0l45 2m0 0l45 8m0 0l46 1m0 0l45 9m0 0l45 1m0 0l46 7m0 0l45 0m0 0l45 5m0 0l45 10m0 0l46 3m0 0l45 6m0 0l45 14m0 0l46 1m0 0l45 21m0 0l45-4m0 0l46-3m0 0l45 13m0 0l45 3m0 0l45 0m0 0l46 15m0 0l45-5m0 0l45-6m0 0l46 25m0 0l45-2m0 0l45 16m0 0l46-7m0 0l45 2m0 0l45 20m0 0l45-10m0 0l46 12m0 0l45 11m0 0l45-3m0 0l46 3m0 0l45 5m0 0l45 8m0 0l46-5m0 0l45 11m0 0l45 3m0 0l45 13m0 0l46-12m0 0l45 0m0 0l45 12m0 0l46-4m0 0l45 6m0 0l45 1m0 0l45 8m0 0l46-8m0 0l45 5m0 0l45-12m0 0l46 11m0 0l45 16m0 0l45-11m0 0l46 2m0 0l45-2m0 0l45 13m0 0l45-1m0 0l46-6m0 0l45 13m0 0l45-1m0 0l46 5m0 0l45-7m0 0l45 16m0 0l46-6m0 0l45-2m0 0l45-1m0 0l45 3m0 0l46 9m0 0l45-6m0 0l45 10m0 0l46-1m0 0l45 6m0 0l45-2m0 0l46-4m0 0l45-10m0 0l45 15m0 0l45 5m0 0l46-3m0 0l45 4m0 0l45-5m0 0l46 2m0 0l45-3m0 0l45 17m0 0l46-7m0 0l45-3m0 0l45-4m0 0l45 9m0 0l46 12m0 0l45-6m0 0l45-7m0 0l46 16m0 0l45 1m0 0l45-2m0 0l45 0m0 0l46 3m0 0l45-3m0 0l45 3m0 0l46-10m0 0l45 16m0 0l45-8m0 0l46 14m0 0l45-28m0 0l45 20m0 0l45 3m0 0l46-9m0 0l45 7m0 0l45 3m0 0l46-1m0 0l45-8m0 0l45 4m0 0l46 9m0 0l45 2m0 0l45-8m0 0l45 1m0 0l46 1m0 0l45 7m0 0l45-16m0 0l46-1m0 0l45 11m0 0l45-9m0 0l46 4m0 0l45 6m0 0l45 3m0 0l45-12m0 0l46 15m0 0l45-20m0 0l45 18m0 0l46-17m0 0l45 3m0 0l45 15m0 0l46-8m0 0l45-3m0 0l45 3m0 0l45 7m0 0l46-4m0 0l45 0m0 0l45 9m0 0l46-14m0 0l45 2m0 0l45-1m0 0l45 14m0 0l46-1m0 0l45 2m0 0l45-10m0 0l46-1m0 0l45 8m0 0l45-10m0 0l46 10m0 0l45-1m0 0l45-12m0 0l45 6m0 0l46-1m0 0l45 16m0 0l45 7m0 0l46-22m0 0l45 1m0 0l45-20m0 0l46 21m0 0l45-1m0 0l45-10m0 0l45 17m0 0l46-21m0 0l45 12m0 0l45 3m0 0l46-12m0 0l45 18m0 0l45 2m0 0l46-21m0 0l45-1m0 0l45 18m0 0l45-5m0 0l46-11m0 0l45 8m0 0l45 2m0 0l46 0m0 0l45 9m0 0l45-4m0 0l46 12m0 0l45-3m0 0l45-6m0 0l45 3m0 0l46 3m0 0l45-6m0 0l45-18m0 0l46 20m0 0l45-8m0 0l45 15m0 0l45-14m0 0l46 4m0 0l45-2m0 0l45 13m0 0l46-14m0 0l45-5m0 0l45 6m0 0l46-7m0 0l45 6m0 0l45-2m0 0l45 3m0 0l46 16m0 0l45-22m0 0l45 4m0 0l46-2m0 0l45 8m0 0l45-18m0 0l46 5m0 0l45 7m0 0l45 6m0 0l45-6m0 0l46-4m0 0l45-3m0 0l45 14m0 0l46 10m0 0l45-11m0 0l45-1m0 0l46 4m0 0l45-13m0 0l45 7m0 0l45 1m0 0l46 7m0 0l45-2m0 0l45-11m0 0l46 25m0 0l45 7m0 0l45-19m0 0l46 8m0 0l45 0m0 0l45 7m0 0l45-22m0 0l46 34m0 0l45-21m0 0l45 20m0 0l46-11m0 0l45-3m0 0l45 4m0 0l45 13m0 0l46-17m0 0l45 7m0 0l45 0m0 0l46-11m0 0l45 34m0 0l45-6m0 0l46-5m0 0l45 15m0 0l45-21m0 0l45 11m0 0l46 22m0 0l45-7m0 0l45-33m0 0l46-11m0 0l45 27m0 0l45 26m0 0l46-16m0 0l45 5m0 0l45 11m0 0l45-15m0 0l46 14m0 0l45 8m0 0l45-2m0 0l46 1m0 0l45-10m0 0l45 15m0 0l46-9m0 0l45 21m0 0l45 16m0 0l45-37m0 0l46-15m0 0l45 22m0 0l45 11m0 0l46 9m0 0l45 1m0 0l45-20m0 0l45 1m0 0l46 25m0 0l45-27m0 0l45 27m0 0l46-14m0 0l45 12m0 0l45 0m0 0l46 2m0 0l45 1m0 0l45-21m0 0l45 16m0 0l46-3m0 0l45 4m0 0l45 12m0 0l46-18m0 0l45-5m0 0l45 0m0 0l46 5m0 0l45 13m0 0l45-19m0 0l45 25m0 0l46-11m0 0l45-6m0 0l45-13m0 0l46 19m0 0l45 6m0 0l45-30m0 0l46 37m0 0l45 5m0 0l45-16m0 0l45 2m0 0l46 25m0 0l45-15m0 0l45-27m0 0l46 12m0 0l45-2m0 0l45 0m0 0l46-28m0 0l45 40m0 0l45-18m0 0l45 11m0 0l46-4m0 0l45 13m0 0l45-15m0 0l46-6m0 0l45 17m0 0l45 11m0 0l45-22m0 0l46 22m0 0l45-14m0 0l45-10m0 0l46 26m0 0l45-30m0 0l45 24m0 0l46-20m0 0l45 13m0 0l45-22m0 0l45 5m0 0l46 25m0 0l45-11m0 0l45-2m0 0l46-6m0 0l45 11m0 0l45-24m0 0l46 4m0 0l45 13m0 0l45-9m0 0l45 2m0 0l46 8m0 0l45-1m0 0l45-1m0 0l46 26m0 0l45-9m0 0l45 3m0 0l46-17m0 0l45-6m0 0l45-13m0 0l45 15m0 0l46-23m0 0l45 20m0 0l45 19m0 0l46 12m0 0l45-9m0 0l45-25m0 0l46 19m0 0l45-18m0 0l45 23m0 0l45-13m0 0l46 14m0 0l45 24m0 0l45-23m0 0l46 20m0 0l45-30m0 0l45-7m0 0l45 24m0 0l46 5m0 0l45-31m0 0l45 9m0 0l46-21m0 0l45 17m0 0l45 16m0 0l46-13m0 0l45-7m0 0l45-12m0 0l45 26m0 0l46 7m0 0l45-3m0 0l45-4m0 0l46-22m0 0l45 44m0 0l45-25m0 0l46-1m0 0l45 13m0 0l45-41m0 0l45 31m0 0l46-1m0 0l45 8m0 0l45 15m0 0l46-12m0 0l45-33m0 0l45 22m0 0l46 9m0 0l45-1m0 0l45-20m0 0l45-5m0 0l46 33m0 0l45-2m0 0l45-5m0 0l46-24m0 0l45 52m0 0l45-68m0 0l46 38m0 0l45 38m0 0l45-33m0 0l45 6m0 0l46-20m0 0l45 39m0 0l45-39m0 0l46 24m0 0l45-1m0 0l45-17m0 0l45 30m0 0l46-34m0 0l45 12m0 0l45 11m0 0l46-5m0 0l45 14m0 0l45 8m0 0l46-17m0 0l45-3m0 0l45 1m0 0l45 3m0 0l46 19m0 0l45-14m0 0l45 10m0 0l46-6m0 0l45-11m0 0l45 27m0 0l46-28m0 0l45 17m0 0l45 24m0 0l45-39m0 0l46 17m0 0l45-23m0 0l45 18m0 0l46-14m0 0l45 19m0 0l45-2m0 0l46 12m0 0l45 24m0 0l45-19m0 0l45 7m0 0l46-10m0 0l45-2m0 0l45-9m0 0l46-14m0 0l45 31m0 0l45 26m0 0l46-17m0 0l45-15m0 0l45 36m0 0l45-32m0 0l46-2m0 0l45-8m0 0l45 5m0 0l46 13m0 0l45 37m0 0l45-34m0 0l45-12m0 0l46 8m0 0l45 7m0 0l45-23m0 0l46 31m0 0l45 11m0 0l45-5m0 0l46 6m0 0l45-30m0 0l45-5m0 0l45 50m0 0l46-2m0 0l45-42m0 0l45 30m0 0l46-2m0 0l45 10m0 0l45-4m0 0l46-11m0 0l45 13m0 0l45 1m0 0l45-2m0 0l46-29m0 0l45-18m0 0l45 38m0 0l46-13m0 0l45 34m0 0l45 9m0 0l46-7m0 0l45-9m0 0l45 9m0 0l45 20m0 0l46-31m0 0l45 29m0 0l45-2m0 0l46-6m0 0l45 21m0 0l45-36m0 0l45 30m0 0l46-31m0 0l45 4m0 0l45-3m0 0l46 27m0 0l45-23m0 0l45 19m0 0l46-20m0 0l45 40m0 0l45 15m0 0l45-27m0 0l46 26m0 0l45-18m0 0l45 30m0 0l46-35m0 0l45-28m0 0l45 55m0 0l46-27m0 0l45-15m0 0l45 8m0 0l45-16m0 0l46 27m0 0l45-15m0 0l45 47m0 0l46-13m0 0l45-40m0 0l45 4m0 0l46 18m0 0l45-24m0 0l45 34m0 0l45 3m0 0l46-12m0 0l45 5m0 0l45 20m0 0l46 18m0 0l45 2m0 0l45-25m0 0l46 16m0 0l45-27m0 0l45 22m0 0l45-24m0 0l46 32m0 0l45-35m0 0l45 6m0 0l46 19m0 0l45 11m0 0l45-35m0 0l45 18m0 0l46 13m0 0l45 3m0 0l45-18m0 0l46 18m0 0l45-6m0 0l45 32m0 0l46-14m0 0l45-34m0 0l45-15m0 0l45 43m0 0l46 22m0 0l45-18m0 0l45 14m0 0l46-24m0 0l45-16m0 0l45 41m0 0l46-11m0 0l45 12m0 0l45-38m0 0l45 30m0 0l46-14m0 0l45 28m0 0l45-25m0 0l46 0m0 0l45 1m0 0l45 36m0 0l46-22m0 0l45-14m0 0l45-4m0 0l45 0m0 0l46 49m0 0l45-62m0 0l45 19m0 0l46 30m0 0l45 11m0 0l45-25m0 0l46 19m0 0l45 0m0 0l45 6m0 0l45-18m0 0l46 32m0 0l45-27m0 0l45 27m0 0l46-50m0 0l45 40m0 0l45-42m0 0l45-3m0 0l46 39m0 0l45-25m0 0l45 26m0 0l46-29m0 0l45 54m0 0l45-31m0 0l46-21m0 0l45 26m0 0l45 15m0 0l45-32m0 0l46 27m0 0l45 31m0 0l45-23m0 0l46-16m0 0l45-11m0 0l45 24m0 0l46-41m0 0l45-29m0 0l45 48m0 0l45-8m0 0l46 58m0 0l45-32m0 0l45-21m0 0l46-3m0 0l45 34m0 0l45-26m0 0l46 6m0 0l45 11m0 0l45 4m0 0l45 1m0 0l46 2m0 0l45 24m0 0l45 9m0 0l46-66m0 0l45 85m0 0l45-48m0 0l46 23m0 0l45-39m0 0l45 22m0 0l45-1m0 0l46-1m0 0l45 15m0 0l45-3m0 0l46-32m0 0l45 19m0 0l45 17m0 0l45 0m0 0l46-19m0 0l45 2m0 0l45 3m0 0l46-18m0 0l45-3m0 0l45 58m0 0l46-39m0 0l45 11m0 0l45-16m0 0l45 42m0 0l46 9m0 0l45-38m0 0l45 15m0 0l46-24m0 0l45 51m0 0l45-16m0 0l46-35m0 0l45 43m0 0l45-17m0 0l45 2m0 0l46 0m0 0l45-20m0 0l45 3m0 0l46 24m0 0l45-12m0 0l45-18m0 0l46 61m0 0l45-44m0 0l45-7m0 0l45-1m0 0l46 28m0 0l45 7m0 0l45-14m0 0l46 13m0 0l45-47m0 0l45 24m0 0l46-2m0 0l45 11m0 0l45 10m0 0l45-50m0 0l46 104m0 0l45-79m0 0l45 25m0 0l46 11m0 0l45 1m0 0l45-11m0 0l45-63m0 0l46 37m0 0l45 38m0 0l45-33m0 0l46-2m0 0l45-25m0 0l45 72m0 0l46-13m0 0l45-28m0 0l45 16m0 0l45 2m0 0l46-20m0 0l45 18m0 0l45 11m0 0l46 7m0 0l45 15m0 0l45-24m0 0l46-9m0 0l45 18m0 0l45-20m0 0l45-12m0 0l46 49m0 0l45-30m0 0l45 11m0 0l46 11m0 0l45-34m0 0l45 35m0 0l46-3m0 0l45-10m0 0l45 11m0 0l45-23m0 0l46-28m0 0l45 39m0 0l45-12m0 0l46 37m0 0l45-12m0 0l45-15m0 0l45 12m0 0l46 27m0 0l45-3m0 0l45-15m0 0l46 2m0 0l45-13m0 0l45 3m0 0l46 15m0 0l45-13m0 0l45 9m0 0l45-28m0 0l46-10m0 0l45 0m0 0l45 26m0 0l46 36m0 0l45-2m0 0l45-43m0 0l46-10m0 0l45 47m0 0l45-6m0 0l45-36m0 0l46 50m0 0l45-17m0 0l45 23m0 0l46-19m0 0l45 12m0 0l45-11m0 0l46-24m0 0l45 15m0 0l45-8m0 0l45 30m0 0l46-35m0 0l45-11m0 0l45 45m0 0l46 10m0 0l45 7m0 0l45-6m0 0l46-52m0 0l45 17m0 0l45 4m0 0l45 11m0 0l46-42m0 0l45 44m0 0l45 6m0 0l46-24m0 0l45 22m0 0l45 22m0 0l45-22m0 0l46 21m0 0l45 0m0 0l45-12m0 0l46 0m0 0l45-14m0 0l45 33m0 0l46-34m0 0l45-4m0 0l45 29m0 0l45-28m0 0l46 24m0 0l45 13m0 0l45-19m0 0l46 1m0 0l45 17m0 0l45-2m0 0l46-46m0 0l45 6m0 0l45 53m0 0l45-18m0 0l46-49m0 0l45 15m0 0l45 29m0 0l46-20m0 0l45 30m0 0l45-7m0 0l46 8m0 0l45-32m0 0l45 36m0 0l45 28m0 0l46-55m0 0l45 43m0 0l45-6m0 0l46-6m0 0l45-14m0 0l45-21m0 0l46 6m0 0l45 34m0 0l45 5m0 0l45 5m0 0l46-5m0 0l45 0m0 0l45-26m0 0l46-15m0 0l45 29m0 0l45 6m0 0l45-8m0 0l46-31m0 0l45 20m0 0l45-18m0 0l46 33m0 0l45-23m0 0l45 18m0 0l46 10m0 0l45-3m0 0l45 25m0 0l45-49m0 0l46-21m0 0l45 63m0 0l45 10m0 0l46 1m0 0l45-22m0 0l45 6m0 0l46-8m0 0l45-28m0 0l45 15m0 0l45 22m0 0l46-21m0 0l45 50m0 0l45-68m0 0l46 22m0 0l45 32m0 0l45-34m0 0l46-10m0 0l45-4m0 0l45 13m0 0l45 45m0 0l46-21m0 0l45 3m0 0l45-21m0 0l46 28m0 0l45-14m0 0l45-20m0 0l46 10m0 0l45 13m0 0l45 20m0 0l45-24m0 0l46 12m0 0l45 31m0 0l45-56m0 0l46-9m0 0l45 45m0 0l45-10m0 0l45-10m0 0l46 8m0 0l45-12m0 0l45 18m0 0l46-17m0 0l45 23m0 0l45-39m0 0l46 8m0 0l45 19m0 0l45-11m0 0l45 23m0 0l46-14m0 0l45-9m0 0l45 15m0 0l46-14m0 0l45-20m0 0l45 8m0 0l46 8m0 0l45 7m0 0l45 11m0 0l45 17m0 0l46-7m0 0l45 25m0 0l45-9m0 0l46-29m0 0l45 37m0 0l45-9m0 0l46-32m0 0l45 16m0 0l45 16m0 0l45-17m0 0l46 16m0 0l45-12m0 0l45 7m0 0l46-20m0 0l45 14m0 0l45-14m0 0l46 21m0 0l45-47m0 0l45 41m0 0l45 19m0 0l46-13m0 0l45-12m0 0l45 12m0 0l46-27m0 0l45 1m0 0l45 9m0 0l45 5m0 0l46 23m0 0l45-37m0 0l45 38m0 0l46-51m0 0l45 17m0 0l45 15m0 0l46 24m0 0l45-35m0 0l45-30m0 0l45 52m0 0l46-9m0 0l45-20m0 0l45 1m0 0l46 7m0 0l45 17m0 0l45 12m0 0l46-43m0 0l45 76m0 0l45-46m0 0l45-6m0 0l46 21m0 0l45-11m0 0l45 45m0 0l46-24m0 0l45-29m0 0l45 0m0 0l46-2m0 0l45 4m0 0l45 21m0 0l45-26m0 0l46 45m0 0l45-33m0 0l45-1m0 0l46 22m0 0l45-58m0 0l45 21m0 0l45 32m0 0l46-12m0 0l45 0m0 0l45 9m0 0l46-20m0 0l45 9m0 0l45-23m0 0l46-10m0 0l45 63m0 0l45-43m0 0l45 5m0 0l46 42m0 0l45-6m0 0l45-31m0 0l46 0m0 0l45 10m0 0l45-17m0 0l46 30m0 0l45-8m0 0l45 1m0 0l45 12m0 0l46 0m0 0l45 23m0 0l45-6m0 0l46-64m0 0l45 52m0 0l45-39m0 0l46-6m0 0l45 43m0 0l45-28m0 0l45 8m0 0l46 28m0 0l45-34m0 0l45-4m0 0l46 25m0 0l45 18m0 0l45-13m0 0l46-41m0 0l45 18m0 0l45 10m0 0l45 42m0 0l46-20m0 0l45 0m0 0l45 7m0 0l46-30m0 0l45 16m0 0l45 1m0 0l45-29m0 0l46 20m0 0l45 12m0 0l45-33m0 0l46 38m0 0l45 0m0 0l45 6m0 0l46-36m0 0l45 18m0 0l45 27m0 0l45-12m0 0l46-32m0 0l45 21m0 0l45 24m0 0l46-29m0 0l45 9m0 0l45 44m0 0l46-51m0 0l45-1m0 0l45-18m0 0l45 7m0 0l46 44m0 0l45-32m0 0l45-21m0 0l46 5m0 0l45 20m0 0l45 15m0 0l46-30m0 0l45 30m0 0l45-24m0 0l45 17m0 0l46 4m0 0l45 2m0 0l45-20m0 0l46 5m0 0l45 14m0 0l45-36m0 0l46 30m0 0l45 7m0 0l45 11m0 0l45-21m0 0l46-3m0 0l45 7m0 0l45-17m0 0l46 11m0 0l45 12m0 0l45-2m0 0l45-26m0 0l46 14m0 0l45-35m0 0l45 59m0 0l46-27m0 0l45 16m0 0l45-26m0 0l46 20m0 0l45 11m0 0l45 11m0 0l45-47m0 0l46 45m0 0l45-20m0 0l45-12m0 0l46 25m0 0l45-15m0 0l45 1m0 0l46-8m0 0l45 18m0 0l45-3m0 0l45-4m0 0l46-15m0 0l45 9m0 0l45 18m0 0l46 18m0 0l45-26m0 0l45 30m0 0l46-29m0 0l45-21m0 0l45 35m0 0l45-32m0 0l46 28m0 0l45 13m0 0l45-27m0 0l46 5m0 0l45 51m0 0l45-44m0 0l46 1m0 0l45 10m0 0l45-17m0 0l45 0m0 0l46 10m0 0l45-55m0 0l45 76m0 0l46-49m0 0l45 0m0 0l45 32m0 0l45-10m0 0l46-25m0 0l45 29m0 0l45-26m0 0l46 9m0 0l45-16m0 0l45 14m0 0l46 24m0 0l45-5m0 0l45 4m0 0l45 12m0 0l46-19m0 0l45-12m0 0l45 8m0 0l46 39m0 0l45-32m0 0l45 5m0 0l46-8m0 0l45 7m0 0l45 4m0 0l45-8m0 0l46-3m0 0l45-12m0 0l45-2m0 0l46 26m0 0l45 7m0 0l45 3m0 0l46-17m0 0l45-17m0 0l45 29m0 0l45 0m0 0l46-42m0 0l45 46m0 0l45-5m0 0l46 22m0 0l45-55m0 0l45-3m0 0l46 41m0 0l45-51m0 0l45 21m0 0l45-7m0 0l46 2m0 0l45-18m0 0l45 33m0 0l46 25m0 0l45-11m0 0l45 0m0 0l45-16m0 0l46 36m0 0l45-18m0 0l45 11m0 0l46-52m0 0l45 38m0 0l45-30m0 0l46 30m0 0l45-3m0 0l45-26m0 0l45 26m0 0l46 20m0 0l45-13m0 0l45 1m0 0l46-29m0 0l45 4m0 0l45-8m0 0l46 24m0 0l45 22m0 0l45-15m0 0l45-9m0 0l46-22m0 0l45 31m0 0l45-14m0 0l46-33m0 0l45 4m0 0l45 27m0 0l46-11m0 0l45 51m0 0l45-32m0 0l45-22m0 0l46 11m0 0l45 42m0 0l45-51m0 0l46 34m0 0l45-6m0 0l45 20m0 0l45-18m0 0l46-19m0 0l45 19m0 0l45-10m0 0l46 18m0 0l45-20m0 0l45 41m0 0l46-42m0 0l45 11m0 0l45-22m0 0l45 16m0 0l46-2m0 0l45 3m0 0l45 14m0 0l46-28m0 0l45-7m0 0l45 39m0 0l46-27m0 0l45-8m0 0l45 36m0 0l45-7m0 0l46-68m0 0l45 45m0 0l45 23m0 0l46 1m0 0l45-27m0 0l45 41m0 0l46-46m0 0l45 11m0 0l45 7m0 0l45-3m0 0l46 16m0 0l45 5m0 0l45-21m0 0l46 28m0 0l45-41m0 0l45 9m0 0l46 39m0 0l45-33m0 0l45 20m0 0l45-30m0 0l46 3m0 0l45 3m0 0l45 6m0 0l46-10m0 0l45 7m0 0l45 13m0 0l45 11m0 0l46-22m0 0l45 11m0 0l45 5m0 0l46-40m0 0l45-10m0 0l45 64m0 0l46-6m0 0l45-25m0 0l45 6m0 0l45-26m0 0l46-9m0 0l45 34m0 0l45-36m0 0l46 48m0 0l45-32m0 0l45 19m0 0l46 33m0 0l45-1m0 0l45-43m0 0l45 27m0 0l46-42m0 0l45 9m0 0l45 19m0 0l46 20m0 0l45-39m0 0l45 22m0 0l46-8m0 0l45-28m0 0l45 23m0 0l45 32m0 0l46-31m0 0l45 12m0 0l45 6m0 0l46-31m0 0l45 39m0 0l45 5m0 0l46 2m0 0l45-5m0 0l45-36m0 0l45-2m0 0l46-4m0 0l45-3m0 0l45 3m0 0l46 35m0 0l45 10m0 0l45-42m0 0l45 29m0 0l46-42m0 0l45 19m0 0l45-13m0 0l46-13m0 0l45 33m0 0l45 1m0 0l46-10m0 0l45-2m0 0l45-9m0 0l45 17m0 0l46-10m0 0l45 17m0 0l45-29m0 0l46 29m0 0l45 5m0 0l45 15m0 0l46-4m0 0l45-17m0 0l45-17m0 0l45-23m0 0l46 36m0 0l45 28m0 0l45 5m0 0l46-84m0 0l45 36m0 0l45 8m0 0l46-14m0 0l45 25m0 0l45-3m0 0l45-11m0 0l46 9m0 0l45-31m0 0l45 13m0 0l46 1m0 0l45 36m0 0l45-50m0 0l46 28m0 0l45 20m0 0l45-17m0 0l45 17m0 0l46-29m0 0l45 22m0 0l45 9m0 0l46 27m0 0l45-30m0 0l45 14m0 0l45-29m0 0l46 2m0 0l45 30m0 0l45-20m0 0l46 17m0 0l45-15m0 0l45 29m0 0l46 5m0 0l45-64m0 0l45 53m0 0l45-28m0 0l46 1m0 0l45-12m0 0l45 17m0 0l46-37m0 0l45 8m0 0l45-1m0 0l46 21m0 0l45 13m0 0l45-4m0 0l45-7m0 0l46-19m0 0l45-24m0 0l45 44m0 0l46-6m0 0l45 5m0 0l45 21m0 0l46-32m0 0l45 0m0 0l45-43m0 0l45 58m0 0l46-12m0 0l45-14m0 0l45 22m0 0l46-28m0 0l45 10m0 0l45 50m0 0l46-24m0 0l45 3m0 0l45-3m0 0l45-3m0 0l46-9m0 0l45 42m0 0l45-47m0 0l46 16m0 0l45-19m0 0l45-3m0 0l45-41m0 0l46 10m0 0l45 69m0 0l45-1m0 0l46-38m0 0l45 8m0 0l45 13m0 0l46-32m0 0l45 55m0 0l45-56m0 0l45 6m0 0l46-41m0 0l45 86m0 0l45-30m0 0l46 32m0 0l45-53m0 0l45 27m0 0l46-5m0 0l45 2m0 0l45 38m0 0l45 4m0 0l46-18m0 0l45-36m0 0l45 26m0 0l46 9m0 0l45-16m0 0l45 1m0 0l46-2m0 0l45-28m0 0l45 23m0 0l45 27m0 0l46-52m0 0l45 22m0 0l45 15m0 0l46-44m0 0l45 24m0 0l45-31m0 0l45 22m0 0l46-16m0 0l45 10m0 0l45 8m0 0l46 5m0 0l45 1m0 0l45-44m0 0l46 80m0 0l45-37m0 0l45-17m0 0l45 10m0 0l46 18m0 0l45-26m0 0l45 12m0 0l46-1m0 0l45 20m0 0l45-26m0 0l46 24m0 0l45-2m0 0l45-9m0 0l45 27m0 0l46-24m0 0l45-24m0 0l45 30m0 0l46-4m0 0l45-3m0 0l45 5m0 0l46 43m0 0l45-43m0 0l45 5m0 0l45-14m0 0l46 31m0 0l45-27m0 0l45-15m0 0l46-8m0 0l45 35m0 0l45 4m0 0l46-47m0 0l45 18m0 0l45 27m0 0l45 8m0 0l46-47m0 0l45 18m0 0l45 25m0 0l46-27m0 0l45 2m0 0l45-2m0 0l45-15m0 0l46 27m0 0l45 5m0 0l45-34m0 0l46 30m0 0l45 20m0 0l45-18m0 0l46 15m0 0l45-30m0 0l45 39m0 0l45-43m0 0l46 53m0 0l45-46m0 0l45-6m0 0l46-3m0 0l45 10m0 0l45-2m0 0l46-4m0 0l45 7m0 0l45 20m0 0l45 5m0 0l46-25m0 0l45 32m0 0l45-45m0 0l46 0m0 0l45-2m0 0l45 35m0 0l46-43m0 0l45 3m0 0l45 53m0 0l45 9m0 0l46-7m0 0l45-57m0 0l45 30m0 0l46 17m0 0l45-15m0 0l45-34m0 0l46 26m0 0l45-27m0 0l45 9m0 0l45 68m0 0l46-29m0 0l45-43m0 0l45-1m0 0l46 39m0 0l45-21m0 0l45 24m0 0l45-24m0 0l46 9m0 0l45 9m0 0l45-26m0 0l46-17m0 0l45 14m0 0l45 10m0 0l46 10m0 0l45 3m0 0l45 0m0 0l45 12m0 0l46-28m0 0l45 46m0 0l45 12m0 0l46-33m0 0l45-3m0 0l45 21m0 0l46-12m0 0l45-9m0 0l45-7m0 0l45-11m0 0l46-8m0 0l45 36m0 0l45 11m0 0l46-45m0 0l45 20m0 0l45 6m0 0l46-13m0 0l45-6m0 0l45 7m0 0l45-31m0 0l46 38m0 0l45-5m0 0l45 49m0 0l46-24m0 0l45-25m0 0l45 7m0 0l46 34m0 0l45-2m0 0l45-28m0 0l45-6m0 0l46-26m0 0l45 22m0 0l45 4m0 0l46-12m0 0l45 50m0 0l45-72m0 0l45 35m0 0l46 11m0 0l45 1m0 0l45 25m0 0l46-62m0 0l45 13m0 0l45 17m0 0l46 1m0 0l45-10m0 0l45-7m0 0l45 37m0 0l46-43m0 0l45 10m0 0l45 40m0 0l46 6m0 0l45-17m0 0l45-34m0 0l46 0m0 0l45-1m0 0l45-4m0 0l45 14m0 0l46 34m0 0l45-20m0 0l45-20m0 0l46 0m0 0l45-8m0 0l45 48m0 0l46-65m0 0l45 47m0 0l45-35m0 0l45 8m0 0l46-8m0 0l45 49m0 0l45-21m0 0l46 57m0 0l45-76m0 0l45-1m0 0l46 34m0 0l45 0m0 0l45-17m0 0l45-34m0 0l46 69m0 0l45-17m0 0l45-4m0 0l46-19m0 0l45 25m0 0l45-24m0 0l45 12m0 0l46-4m0 0l45 29m0 0l45-35m0 0l46 3m0 0l45 29m0 0l45-17m0 0l46-5m0 0l45-4m0 0l45 24m0 0l45-32m0 0l46 23m0 0l45 31m0 0l45-32m0 0l46-24m0 0l45-8m0 0l45 27m0 0l46-27m0 0l45-7m0 0l45 16m0 0l45-6m0 0l46 40m0 0l45-47m0 0l45 61m0 0l46-46m0 0l45 17m0 0l45 11m0 0l46-8m0 0l45 10m0 0l45-34m0 0l45-26m0 0l46 42m0 0l45-29m0 0l45 22m0 0l46 31m0 0l45-23m0 0l45-8m0 0l45-10m0 0l46 17m0 0l45 2m0 0l45-28m0 0l46 38m0 0l45-27m0 0l45 26m0 0l46-13m0 0l45 29m0 0l45-3m0 0l45-16m0 0l46-3m0 0l45 12m0 0l45 19m0 0l46-6m0 0l45-18m0 0l45 3m0 0l46 26m0 0l45-64m0 0l45 44m0 0l45-29m0 0l46 46m0 0l45-37m0 0l45 8m0 0l46-19m0 0l45 22m0 0l45 16m0 0l46 18m0 0l45-59m0 0l45 17m0 0l45 88m0 0l46-59m0 0l45-19m0 0l45 11m0 0l46-64m0 0l45 86m0 0l45-29m0 0l46-31m0 0l45 52m0 0l45-36m0 0l45-7m0 0l46 31m0 0l45-2m0 0l45-17m0 0l46 8m0 0l45-25m0 0l45-2m0 0l45 47m0 0l46 9m0 0l45-18m0 0l45 0m0 0l46-16m0 0l45 6m0 0l45-16m0 0l46 54m0 0l45-46m0 0l45 20m0 0l45-8m0 0l46-28m0 0l45 67m0 0l45-46m0 0l46-7m0 0l45 18m0 0l45-20m0 0l46 18m0 0l45-19m0 0l45 31m0 0l45-10m0 0l46-28m0 0l45 48m0 0l45-17m0 0l46-25m0 0l45 29m0 0l45 2m0 0l46 29m0 0l45-54m0 0l45 34m0 0l45-18m0 0l46 14m0 0l45-17m0 0l45 4m0 0l46 12m0 0l45-34m0 0l45-18m0 0l46 42m0 0l45-8m0 0l45 11m0 0l45 11m0 0l46-16m0 0l45 28m0 0l45-24m0 0l46 3m0 0l45 15m0 0l45-5m0 0l45-13m0 0l46 5m0 0l45-18m0 0l45 4m0 0l46 14m0 0l45 15m0 0l45-25m0 0l46 26m0 0l45 22m0 0l45 5m0 0l45-42m0 0l46 21m0 0l45-9m0 0l45 4m0 0l46 1m0 0l45-6m0 0l45 7m0 0l46-13m0 0l45-8m0 0l45 10m0 0l45 6m0 0l46 14m0 0l45-16m0 0l45 7m0 0l46 14m0 0l45-46m0 0l45 13m0 0l46 17m0 0l45-10m0 0l45-21m0 0l45 41m0 0l46-21m0 0l45-19m0 0l45 59m0 0l46-64m0 0l45 26m0 0l45-13m0 0l46 16m0 0l45 10m0 0l45-28m0 0l45 15m0 0l46 0m0 0l45-18m0 0l45 44m0 0l46-19m0 0l45-9m0 0l45-7m0 0l45 6m0 0l46 10m0 0l45-11m0 0l45 34m0 0l46-76m0 0l45 9m0 0l45 38m0 0l46-31m0 0l45 35m0 0l45-11m0 0l45 25m0 0l46-3m0 0l45 18m0 0l45-7m0 0l46 7m0 0l45-14m0 0l45 11m0 0l46-11m0 0l45-22m0 0l45-12m0 0l45 1m0 0l46 34m0 0l45-57m0 0l45 52m0 0l46-19m0 0l45 30m0 0l45-10m0 0l46-19m0 0l45 16m0 0l45-45m0 0l45 51m0 0l46 4m0 0l45-46m0 0l45 55m0 0l46-20m0 0l45 7m0 0l45-32m0 0l46 41m0 0l45 0m0 0l45-12m0 0l45-19m0 0l46 36m0 0l45 10m0 0l45-17m0 0l46 13m0 0l45-32m0 0l45 15m0 0l45 5m0 0l46-4m0 0l45 54m0 0l45-48m0 0l46-19m0 0l45 28m0 0l45-37m0 0l46 29m0 0l45 8m0 0l45-24m0 0l45 3m0 0l46-11m0 0l45 21m0 0l45-15m0 0l46 48m0 0l45-21m0 0l45-17m0 0l46-24m0 0l45 70m0 0l45-14m0 0l45-16m0 0l46-6m0 0l45 0m0 0l45-12m0 0l46 48m0 0l45-33m0 0l45-33m0 0l46 17m0 0l45-38m0 0l45 65m0 0l45 3m0 0l46 21m0 0l45 7m0 0l45-57m0 0l46 26m0 0l45 11m0 0l45-3m0 0l45-25m0 0l46 27m0 0l45-6m0 0l45 19m0 0l46-27m0 0l45-4m0 0l45-4m0 0l46 3m0 0l45-7m0 0l45 10m0 0l45 18m0 0l46 0m0 0l45 18m0 0l45-4m0 0l46-8m0 0l45-34m0 0l45 35m0 0l46 13m0 0l45-48m0 0l45 4m0 0l45 5m0 0l46-1m0 0l45 16m0 0l45-12m0 0l46 28m0 0l45-31m0 0l45 23m0 0l46-6m0 0l45-8m0 0l45 41m0 0l45-19m0 0l46 12m0 0l45-17m0 0l45 22m0 0l46 0m0 0l45-14m0 0l45-31m0 0l46 53m0 0l45-1m0 0l45-9m0 0l45 2m0 0l46-1m0 0l45 3m0 0l45-23m0 0l46 21m0 0l45 8m0 0l45-17m0 0l45-6m0 0l46 58m0 0l45-23m0 0l45-17m0 0l46-2m0 0l45-42m0 0l45 26m0 0l46 25m0 0l45 32m0 0l45-66m0 0l45 29m0 0l46 54m0 0l45-24m0 0l45-4m0 0l46 17m0 0l45-24m0 0l45 0m0 0l46 19m0 0l45 4m0 0l45-37m0 0l45 54m0 0l46-64m0 0l45 22m0 0l45 77m0 0l46-71m0 0l45 25m0 0l45-32m0 0l46 16m0 0l45-7m0 0l45 8m0 0l45 22m0 0l46 23m0 0l45-16m0 0l45 15m0 0l46-39m0 0l45 40m0 0l45-16m0 0l46 17m0 0l45-34m0 0l45 5m0 0l45 33m0 0l46-14m0 0l45-9m0 0l45-14m0 0l46 13m0 0l45 13m0 0l45 6m0 0l45-24m0 0l46 5m0 0l45 17m0 0l45-30m0 0l46 42m0 0l45-18m0 0l45-1m0 0l46-44m0 0l45 17m0 0l45 12m0 0l45 10m0 0l46-9m0 0l45 31m0 0l45-4m0 0l46-7m0 0l45-34m0 0l45 70m0 0l46-33m0 0l45 19m0 0l45-25m0 0l45 15m0 0l46 15m0 0l45-8m0 0l45 15m0 0l46-22m0 0l45 45m0 0l45-77m0 0l46 28m0 0l45 31m0 0l45-24m0 0l45-3m0 0l46-25m0 0l45 60m0 0l45-61m0 0l46 49m0 0l45-6m0 0l45 14m0 0l46 13m0 0l45-43m0 0l45-1m0 0l45 10m0 0l46-27m0 0l45 51m0 0l45-24m0 0l46 12m0 0l45-25m0 0l45 23m0 0l45-12m0 0l46 11m0 0l45-19m0 0l45 42m0 0l46-33m0 0l45-38m0 0l45 65m0 0l46-19m0 0l45-11m0 0l45 68m0 0l45-51m0 0l46-26m0 0l45 15m0 0l45 20m0 0l46-12m0 0l45 30m0 0l45-4m0 0l46-37m0 0l45 17m0 0l45 12m0 0l45-21m0 0l46-1m0 0l45 27m0 0l45-9m0 0l46-37m0 0l45 17m0 0l45 2m0 0l46 6m0 0l45-12m0 0l45 41m0 0l45-47m0 0l46-2m0 0l45 25m0 0l45-49m0 0l46 24m0 0l45 32m0 0l45-39m0 0l46 9m0 0l45 38m0 0l45-13m0 0l45-8m0 0l46 3m0 0l45-19m0 0l45 19m0 0l46-11m0 0l45 54m0 0l45-40m0 0l45-18m0 0l46 5m0 0l45 1m0 0l45-29m0 0l46 10m0 0l45 46m0 0l45-59m0 0l46 16m0 0l45 31m0 0l45 9m0 0l45-52m0 0l46 49m0 0l45-37m0 0l45 39m0 0l46-24m0 0l45-17m0 0l45 20m0 0l46-5m0 0l45-27m0 0l45 57m0 0l45-51m0 0l46 29m0 0l45-34m0 0l45-28m0 0l46 13m0 0l45 20m0 0l45 14m0 0l46 20m0 0l45-34m0 0l45-9m0 0l45-20m0 0l46 22m0 0l45 6m0 0l45-51m0 0l46 69m0 0l45-5m0 0l45 22m0 0l45-66m0 0l46 18m0 0l45-2m0 0l45-28m0 0l46 8m0 0l45-4m0 0l45 29m0 0l46-3m0 0l45 17m0 0l45-37m0 0l45-21m0 0l46 35m0 0l45-3m0 0l45 5m0 0l46 10m0 0l45-38m0 0l45 26m0 0l46-38m0 0l45 22m0 0l45 9m0 0l45-18m0 0l46 6m0 0l45-34m0 0l45 13m0 0l46 15m0 0l45-29m0 0l45 5m0 0l46 65m0 0l45-46m0 0l45-23m0 0l45-6m0 0l46 47m0 0l45-86m0 0l45 47m0 0l46 18m0 0l45-26m0 0l45 20m0 0l46-33m0 0l45 19m0 0l45-1m0 0l45-2m0 0l46 1m0 0l45-4m0 0l45 20m0 0l46-29m0 0l45-9m0 0l45 5m0 0l45-2m0 0l46-26m0 0l45-10m0 0l45 10m0 0l46 31m0 0l45-21m0 0l45 3m0 0l46 64m0 0l45-36m0 0l45-29m0 0l45-10m0 0l46 39m0 0l45-45m0 0l45 38m0 0l46-14m0 0l45 14m0 0l45-44m0 0l46 31m0 0l45-56m0 0l45 31m0 0l45 23m0 0l46-9m0 0l45-53m0 0l45 49m0 0l46-6m0 0l45-12m0 0l45-15m0 0l46 7m0 0l45-7m0 0l45 28m0 0l45-11m0 0l46 11m0 0l45-10m0 0l45-41m0 0l46 27m0 0l45 38m0 0l45-66m0 0l46 26m0 0l45-23m0 0l45-4m0 0l45 21m0 0l46 12m0 0l45-4m0 0l45-8m0 0l46 8m0 0l45-53m0 0l45 47m0 0l45-10m0 0l46-13m0 0l45 2m0 0l45-18m0 0l46 38m0 0l45-40m0 0l45-15m0 0l46 27m0 0l45-13m0 0l45 9m0 0l45 30m0 0l46-34m0 0l45 4m0 0l45 41m0 0l46-75m0 0l45 34m0 0l45 15m0 0l46 6m0 0l45 13m0 0l45-60m0 0l45 24m0 0l46-15m0 0l45-9m0 0l45-6m0 0l46-16m0 0l45 34m0 0l45 7m0 0l46-37m0 0l45 35m0 0l45-27m0 0l45-11m0 0l46-33m0 0l45 73m0 0l45-9m0 0l46-22m0 0l45-2m0 0l45-20m0 0l46 36m0 0l45-13m0 0l45 11m0 0l45-8m0 0l46-33m0 0l45-4m0 0l45 39m0 0l46-44m0 0l45 39m0 0l45 12m0 0l45-45m0 0l46 38m0 0l45-13m0 0l45 9m0 0l46-25m0 0l45 12m0 0l45 8m0 0l46 28m0 0l45-23m0 0l45-5m0 0l45-37m0 0l46 32m0 0l45-21m0 0l45 12m0 0l46 6m0 0l45 13m0 0l45-8m0 0l46-9m0 0l45-5m0 0l45 28m0 0l45-46m0 0l46 18m0 0l45 26m0 0l45-32m0 0l46 20m0 0l45 1m0 0l45 21m0 0l46-18m0 0l45-57m0 0l45 33m0 0l45 5m0 0l46 10m0 0l45-9m0 0l45 29m0 0l46-16m0 0l45-47m0 0l45 10m0 0l46-29m0 0l45 75m0 0l45-38m0 0l45-1m0 0l46-30m0 0l45 22m0 0l45 17m0 0l46-18m0 0l45 0m0 0l45-5m0 0l45 51m0 0l46-52m0 0l45-19m0 0l45 19m0 0l46 2m0 0l45 5m0 0l45-4m0 0l46-19m0 0l45 18m0 0l45 11m0 0l45-37m0 0l46 68m0 0l45-6m0 0l45-72m0 0l46 29m0 0l45 27m0 0l45 6m0 0l46 8m0 0l45-74m0 0l45 14m0 0l45 12m0 0l46 21m0 0l45-34m0 0l45 30m0 0l46 0m0 0l45 5m0 0l45-41m0 0l46 29m0 0l45-3m0 0l45-10m0 0l45 34m0 0l46-33m0 0l45 35m0 0l45-42m0 0l46 46m0 0l45-1m0 0l45-51m0 0l45 23m0 0l46-1m0 0l45-27m0 0l45 36m0 0l46-5m0 0l45-30m0 0l45 19m0 0l46 16m0 0l45-22m0 0l45-12m0 0l45 47m0 0l46-53m0 0l45 26m0 0l45 15m0 0l46-7m0 0l45-54m0 0l45 30m0 0l46 4m0 0l45-2m0 0l45 16m0 0l45-2m0 0l46-8m0 0l45 2m0 0l45 14m0 0l46 5m0 0l45-65m0 0l45 83m0 0l46-56m0 0l45 26m0 0l45-49m0 0l45 22m0 0l46-15m0 0l45 47m0 0l45-5m0 0l46-18m0 0l45-4m0 0l45 11m0 0l46-28m0 0l45 7m0 0l45-4m0 0l45 32m0 0l46-17m0 0l45-27m0 0l45 33m0 0l46 3m0 0l45 17m0 0l45-40m0 0l45 19m0 0l46 34m0 0l45-50m0 0l45-1m0 0l46 17m0 0l45-21m0 0l45 10m0 0l46-11m0 0l45-6m0 0l45 34m0 0l45-26m0 0l46-13m0 0l45 14m0 0l45 2m0 0l46 9m0 0l45 12m0 0l45 17m0 0l46-61m0 0l45 19m0 0l45-32m0 0l45 41m0 0l46 5m0 0l45-24m0 0l45-5m0 0l46-2m0 0l45-11m0 0l45 43m0 0l46 25m0 0l45-62m0 0l45 56m0 0l45-36m0 0l46-26m0 0l45 39m0 0l45 4m0 0l46-8m0 0l45-14m0 0l45 39m0 0l46-40m0 0l45 19m0 0l45 0m0 0l45-32m0 0l46-20m0 0l45 3m0 0l45 26m0 0l46 15m0 0l45-43m0 0l45 21m0 0l45 45m0 0l46-67m0 0l45 45m0 0l45-2m0 0l46 8m0 0l45-46m0 0l45 37m0 0l46-36m0 0l45 56m0 0l45-45m0 0l45 25m0 0l46-24m0 0l45 19m0 0l45-34m0 0l46 36m0 0l45 7m0 0l45-13m0 0l46 33m0 0l45-26m0 0l45 9m0 0l45-6m0 0l46 28m0 0l45-52m0 0l45 8m0 0l46 1m0 0l45 17m0 0l45-7m0 0l46 11m0 0l45-11m0 0l45-16m0 0l45 9m0 0l46 10m0 0l45-55m0 0l45 75m0 0l46-40m0 0l45 4m0 0l45 13m0 0l46-11m0 0l45-24m0 0l45 25m0 0l45 33m0 0l46-6m0 0l45 4m0 0l45-36m0 0l46 7m0 0l45 26m0 0l45 9m0 0l45-29m0 0l46-20m0 0l45-19m0 0l45 69m0 0l46-59m0 0l45 40m0 0l45 10m0 0l46 49m0 0l45-62m0 0l45-5m0 0l45 12m0 0l46 2m0 0l45 18m0 0l45-13m0 0l46-29m0 0l45-27m0 0l45 51m0 0l46-20m0 0l45 44m0 0l45-55m0 0l45 32m0 0l46-18m0 0l45-2m0 0l45 53m0 0l46-30m0 0l45-6m0 0l45 20m0 0l46-31m0 0l45 10m0 0l45-5m0 0l45 55m0 0l46-33m0 0l45 8m0 0l45 11m0 0l46-26m0 0l45 2m0 0l45-30m0 0l46 45m0 0l45-4m0 0l45-12m0 0l45 34m0 0l46-61m0 0l45 47m0 0l45-36m0 0l46 6m0 0l45 20m0 0l45 33m0 0l45-51m0 0l46 5m0 0l45-3m0 0l45 68m0 0l46-30m0 0l45-1m0 0l45 35m0 0l46-36m0 0l45-48m0 0l45 35m0 0l45-14m0 0l46 68m0 0l45-70m0 0l45 37m0 0l46-16m0 0l45 2m0 0l45 11m0 0l46-2m0 0l45-11m0 0l45-10m0 0l45 13m0 0l46-7m0 0l45 4m0 0l45 22m0 0l46-5m0 0l45 14m0 0l45-14m0 0l46 46m0 0l45-54m0 0l45-5m0 0l45 43m0 0l46-35m0 0l45 18m0 0l45 19m0 0l46-22m0 0l45-4m0 0l45 28m0 0l45-13m0 0l46-17m0 0l45-13m0 0l45 18m0 0l46-26m0 0l45 17m0 0l45-5m0 0l46 30m0 0l45 10m0 0l45-29m0 0l45 5m0 0l46-13m0 0l45-6m0 0l45 20m0 0l46 22m0 0l45-2m0 0l45 3m0 0l46-18m0 0l45-51m0 0l45 76m0 0l45 9m0 0l46-9m0 0l45 0m0 0l45 4m0 0l46 33m0 0l45-49m0 0l45 26m0 0l46-15m0 0l45-3m0 0l45-17m0 0l45-4m0 0l46-16m0 0l45 35m0 0l45-19m0 0l46-18m0 0l45 9m0 0l45-9m0 0l46 58m0 0l45-38m0 0"/>
<path class="cv" stroke="#00ff00" d="M201.7,212.5l1.5 2.3l1.5 2.2l1.5 2.3l1.5 2.2l1.5 2.2l1.5 2.2l1.5 2.3l1.5 2.2l1.5 2.2l1.5 2.2l1.5 2.1l1.5 2.2l1.5 2.2l1.5 2.2l1.5 2.2l1.5 2.1l1.5 2.2l1.5 2.1l1.5 2.2l1.5 2.2l1.5 2.1l1.5 2.2l1.5 2.1l1.5 2.1l1.5 2.2l1.5 2.1l1.5 2.2l1.5 2.1l1.5 2.1l1.5 2.1l1.5 2.2l1.5 2.1l1.5 2.1l1.5 2.1l1.5 2.2l1.5 2.1l1.5 2.1l1.5 2.1l1.5 2.2l1.5 2.1l1.5 2.1l1.5 2.2l1.5 2.1l1.5 2.1l1.5 2.2l1.5 2.1l1.5 2.2l1.5 2.1l1.5 2.2l1.5 2.2l1.5 2.1l1.5 2.2l1.5 2.2l1.5 2.1l1.5 2.2l1.5 2.2l1.5 2.2l1.5 2.2l1.5 2.3l1.5 2.2l1.5 2.2l1.5 2.2l1.5 2.3l1.5 2.2l1.5 2.3l1.5 2.3l1.5 2.3l1.5 2.3l1.5 2.3l1.5 2.3l1.5 2.3l1.5 2.4l1.5 2.3l1.5 2.4l1.5 2.4l1.5 2.4l1.5 2.4l1.5 2.4l1.5 2.4l1.5 2.5l1.5 2.5l1.5 2.4l1.5 2.5l1.5 2.5l1.5 2.5l1.5 2.4l1.5 2.5l1.5 2.4l1.5 2.5l1.5 2.4l1.5 2.4l1.5 2.4l1.5 2.4l1.5 2.4l1.5 2.3l1.5 2.3l1.5 2.3l1.5 2.3l1.5 2.2l1.5 2.2l1.5 2.2l1.5 2.1l1.5 2.2l1.5 2l1.5 2.1l1.5 2l1.5 2l1.5 2l1.5 1.9l1.5 2l1.5 1.8l1.5 1.9l1.5 1.8l1.5 1.9l1.5 1.8l1.5 1.8l1.5 1.7l1.5 1.8l1.5 1.7l1.5 1.8l1.5 1.7l1.5 1.7l1.5 1.7l1.5 1.7l1.5 1.7l1.5 1.7l1.5 1.7l1.5 1.7l1.5 1.7l1.5 1.7l1.5 1.7l1.5 1.6l1.5 1.7l1.5 1.7l1.5 1.8l1.5 1.7l1.5 1.7l1.5 1.7l1.5 1.8l1.5 1.8l1.5 1.8l1.5 1.7l1.5 1.8l1.5 1.9l1.5 1.8l1.5 1.8l1.5 1.9l1.5 1.8l1.5 1.9l1.5 1.8l1.5 1.9l1.5 1.9l1.5 1.9l1.5 1.9l1.5 2l1.5 1.9l1.5 2l1.5 1.9l1.5 2l1.5 1.9l1.5 2l1.5 2l1.5 2l1.5 2.1l1.5 2l1.5 2.1l1.5 2l1.5 2.1l1.5 2.1l1.5 2.1l1.5 2.1l1.5 2.2l1.5 2.1l1.5 2.2l1.5 2.1l1.5 2.2l1.5 2.2l1.5 2.3l1.5 2.2l1.5 2.3l1.5 2.2l1.5 2.3l1.5 2.3l1.5 2.4l1.5 2.3l1.5 2.4l1.5 2.4l1.5 2.4l1.5 2.4l1.5 2.4l1.5 2.5l1.5 2.4l1.5 2.5l1.5 2.6l1.5 2.5l1.5 2.6l1.5 2.5l1.5 2.6l1.5 2.6l1.5 2.7l1.5 2.6l1.5 2.7l1.5 2.7l1.5 2.7l1.5 2.7l1.5 2.7l1.5 2.7l1.5 2.8l1.5 2.7l1.5 2.8l1.5 2.7l1.5 2.8l1.5 2.8l1.5 2.8l1.5 2.7l1.5 2.8l1.5 2.8l1.5 2.8l1.5 2.7l1.5 2.8l1.5 2.8l1.5 2.7l1.5 2.8l1.5 2.7l1.5 2.7l1.5 2.7l1.5 2.7l1.5 2.7l1.5 2.6l1.5 2.7l1.5 2.6l1.5 2.7l1.5 2.6l1.5 2.6l1.5 2.6l1.5 2.6l1.5 2.5l1.5 2.5l1.5 2.5l1.5 2.5l1.5 2.5l1.5 2.4l1.5 2.4l1.5 2.4l1.5 2.3l1.5 2.4l1.5 2.3l1.5 2.3l1.5 2.3l1.5 2.4l1.5 2.3l1.5 2.3l1.5 2.4l1.5 2.4l1.5 2.4l1.5 2.5l1.5 2.5l1.5 2.5l1.5 2.6l1.5 2.6l1.5 2.7l1.5 2.8l1.5 3l1.5 3.1l1.5 3.3l1.5 3.5l1.5 4l1.5 4.2l1.5 4.1l1.5 3.7l1.5 3.2l1.5 2.8l1.5 2.5l1.5 2.5l1.5 2.3l1.5 2.2l1.5 2.1l1.5 2l1.5 2l1.5 1.9l1.5 1.9l1.5 2l1.5 1.9l1.5 1.9l1.5 2l1.5 2l1.5 2l1.5 2l1.5 2l1.5 2.1l1.5 2.3l1.5 2.5l1.5 2.5l1.5 2.7l1.5 2.7l1.5 2.6l1.5 2.7l1.5 2.4l1.5 2.2l1.5 2.3l1.5 2.3l1.5 2.3l1.5 2.2l1.5 2.3l1.5 2.3l1.5 2.1l1.5 2.1l1.5 2l1.5 2.1l1.5 2l1.5 2l1.5 1.9l1.5 2l1.5 1.9l1.5 2l1.5 1.9l1.5 1.9l1.5 1.9l1.5 1.8l1.5 1.9l1.5 1.8l1.5 1.9l1.5 1.8l1.5 1.8l1.5 1.7l1.5 1.8l1.5 1.7l1.5 1.6l1.5 1.7l1.5 1.6l1.5 1.7l1.5 1.6l1.5 1.6l1.5 1.7l1.5 1.6l1.5 1.7l1.5 1.8l1.5 1.7l1.5 1.7l1.5 1.8l1.5 1.8l1.5 1.7l1.5 1.8l1.5 1.7l1.5 1.8l1.5 1.7l1.5 1.7l1.5 1.7l1.5 1.7l1.5 1.7l1.5 1.8l1.5 1.7l1.5 1.6l1.5 1.7l1.5 1.7l1.5 1.7l1.5 1.7l1.5 1.7l1.5 1.6l1.5 1.7l1.5 1.7l1.5 1.7l1.5 1.6l1.5 1.7l1.5 1.6l1.5 1.7l1.5 1.7l1.5 1.6l1.5 1.7l1.5 1.6l1.5 1.7l1.5 1.6l1.5 1.7l1.5 1.6l1.5 1.7l1.5 1.6l1.5 1.7l1.5 1.6l1.5 1.7l1.5 1.6l1.5 1.7l1.5 1.6l1.5 1.7l1.5 1.6l1.5 1.7l1.5 1.6l1.5 1.7l1.5 1.7l1.5 1.6l1.5 1.7l1.5 1.6l1.5 1.7l1.5 1.7l1.5 1.6l1.5 1.6l1.5 1.7l1.5 1.6l1.5 1.7l1.5 1.6l1.5 1.6l1.5 1.7l1.5 1.6l1.5 1.7l1.5 1.6l1.5 1.6l1.5 1.7l1.5 1.6l1.5 1.6l1.5 1.7l1.5 1.6l1.5 1.6l1.5 1.6l1.5 1.6l1.5 1.6l1.5 1.6l1.5 1.6l1.5 1.6l1.5 1.6l1.5 1.6l1.5 1.5l1.5 1.6l1.5 1.6l1.5 1.5l1.5 1.6l1.5 1.5l1.5 1.5l1.5 1.6l1.5 1.5l1.5 1.5l1.5 1.5l1.5 1.4l1.5 1.5l1.5 1.5l1.5 1.4l1.5 1.5l1.5 1.6l1.5 1.5l1.5 1.5l1.5 1.6l1.5 1.5l1.5 1.5l1.5 1.5l1.5 1.5l1.5 1.5l1.5 1.4l1.5 1.4l1.5 1.4l1.5 1.3l1.5 1.3l1.5 1.2l1.5 1.2l1.5 1.1l1.5 1.1l1.5 1.1l1.5 1l1.5 1l1.5 1l1.5 1l1.5 1l1.5 1l1.5 1l1.5 1.1l1.5 1l1.5 1.1l1.5 1l1.5 1.1l1.5 1l1.5 1.1l1.5 1l1.5 1.1l1.5 1l1.5 1.1l1.5 1l1.5 1.1l1.5 1l1.5 1.1l1.5 1l1.5 1.1l1.5 1l1.5 1.1l1.5 1l1.5 1.1l1.5 1l1.5 1.1l2.3 1.6"/>
<path class="cn" stroke="#00ff00" transform="scale(.01)" d="M93000,118640l45 32m0 0l46 31m0 0l45 32m0 0l45 31m0 0l45 32m0 0l46 31m0 0l45 31m0 0l45 31m0 0l46 32m0 0l45 31m0 0l45 31m0 0l46 31m0 0l45 31m0 0l45 31m0 0l45 31m0 0l46 31m0 0l45 31m0 0l45 31m0 0l46 31m0 0l45 31m0 0l45 31m0 0l46 32m0 0l45 31m0 0l45 31m0 0l45 31m0 0l46 32m0 0l45 31m0 0l45 32m0 0l46 32m0 0l45 32m0 0l45 32m0 0l46 32m0 0l45 33m0 0l45 32m0 0l45 33m0 0l46 33m0 0l45 32m0 0l45 33m0 0l46 34m0 0l45 34m0 0l45 34m0 0l46 33m0 0l45 35m0 0l45 36m0 0l45 36m0 0l46 36m0 0l45 37m0 0l45 38m0 0l46 37m0 0l45 38m0 0l45 39m0 0l45 38m0 0l46 39m0 0l45 39m0 0l45 39m0 0l46 38m0 0l45 41m0 0l45 38m0 0l46 40m0 0l45 39m0 0l45 39m0 0l45 39m0 0l46 38m0 0l45 39m0 0l45 38m0 0l46 37m0 0l45 39m0 0l45 35m0 0l46 37m0 0l45 38m0 0l45 34m0 0l45 34m0 0l46 37m0 0l45 32m0 0l45 34m0 0l46 31m0 0l45 32m0 0l45 30m0 0l46 30m0 0l45 29m0 0l45 29m0 0l45 28m0 0l46 28m0 0l45 23m0 0l45 27m0 0l46 23m0 0l45 25m0 0l45 22m0 0l46 23m0 0l45 23m0 0l45 22m0 0l45 23m0 0l46 20m0 0l45 23m0 0l45 20m0 0l46 21m0 0l45 21m0 0l45 19m0 0l45 20m0 0l46 20m0 0l45 20m0 0l45 21m0 0l46 20m0 0l45 20m0 0l45 21m0 0l46 19m0 0l45 22m0 0l45 19m0 0l45 24m0 0l46 20m0 0l45 22m0 0l45 23m0 0l46 22m0 0l45 23m0 0l45 25m0 0l46 23m0 0l45 24m0 0l45 27m0 0l45 24m0 0l46 31m0 0l45 26m0 0l45 28m0 0l46 32m0 0l45 31m0 0l45 29m0 0l46 32m0 0l45 34m0 0l45 34m0 0l45 32m0 0l46 35m0 0l45 36m0 0l45 35m0 0l46 37m0 0l45 37m0 0l45 35m0 0l45 38m0 0l46 36m0 0l45 41m0 0l45 40m0 0l46 36m0 0l45 42m0 0l45 39m0 0l46 37m0 0l45 40m0 0l45 39m0 0l45 38m0 0l46 40m0 0l45 39m0 0l45 40m0 0l46 39m0 0l45 36m0 0l45 40m0 0l46 36m0 0l45 38m0 0l45 38m0 0l45 36m0 0l46 36m0 0l45 37m0 0l45 34m0 0l46 34m0 0l45 35m0 0l45 35m0 0l46 32m0 0l45 37m0 0l45 31m0 0l45 28m0 0l46 37m0 0l45 37m0 0l45 30m0 0l46 32m0 0l45 33m0 0l45 36m0 0l46 32m0 0l45 32m0 0l45 32m0 0l45 34m0 0l46 32m0 0l45 28m0 0l45 36m0 0l46 30m0 0l45 32m0 0l45 33m0 0l45 30m0 0l46 26m0 0l45 40m0 0l45 30m0 0l46 29m0 0l45 30m0 0l45 33m0 0l46 27m0 0l45 34m0 0l45 29m0 0l45 30m0 0l46 29m0 0l45 31m0 0l45 34m0 0l46 30m0 0l45 28m0 0l45 28m0 0l46 28m0 0l45 33m0 0l45 31m0 0l45 21m0 0l46 36m0 0l45 21m0 0l45 33m0 0l46 31m0 0l45 24m0 0l45 28m0 0l46 33m0 0l45 30m0 0l45 25m0 0l45 33m0 0l46 22m0 0l45 35m0 0l45 23m0 0l46 28m0 0l45 29m0 0l45 27m0 0l46 32m0 0l45 28m0 0l45 22m0 0l45 25m0 0l46 24m0 0l45 28m0 0l45 29m0 0l46 26m0 0l45 27m0 0l45 26m0 0l45 28m0 0l46 20m0 0l45 27m0 0l45 33m0 0l46 25m0 0l45 21m0 0l45 31m0 0l46 19m0 0l45 27m0 0l45 19m0 0l45 34m0 0l46 22m0 0l45 28m0 0l45 24m0 0l46 22m0 0l45 25m0 0l45 28m0 0l46 20m0 0l45 25m0 0l45 25m0 0l45 27m0 0l46 25m0 0l45 28m0 0l45 16m0 0l46 29m0 0l45 17m0 0l45 29m0 0l46 22m0 0l45 29m0 0l45 19m0 0l45 20m0 0l46 27m0 0l45 22m0 0l45 20m0 0l46 23m0 0l45 20m0 0l45 37m0 0l46 11m0 0l45 25m0 0l45 13m0 0l45 22m0 0l46 25m0 0l45 21m0 0l45 25m0 0l46 13m0 0l45 27m0 0l45 24m0 0l45 9m0 0l46 28m0 0l45 11m0 0l45 24m0 0l46 19m0 0l45 24m0 0l45 8m0 0l46 22m0 0l45 21m0 0l45 8m0 0l45 23m0 0l46 13m0 0l45 18m0 0l45 23m0 0l46 17m0 0l45 25m0 0l45 11m0 0l46 16m0 0l45 9m0 0l45 16m0 0l45 18m0 0l46 4m0 0l45 34m0 0l45 5m0 0l46 13m0 0l45 19m0 0l45 21m0 0l46 17m0 0l45 7m0 0l45 20m0 0l45 12m0 0l46 10m0 0l45 21m0 0l45 14m0 0l46 7m0 0l45 28m0 0l45 1m0 0l46 24m0 0l45 8m0 0l45 16m0 0l45 15m0 0l46 22m0 0l45 4m0 0l45 20m0 0l46 24m0 0l45 3m0 0l45 18m0 0l45 18m0 0l46 8m0 0l45 20m0 0l45 8m0 0l46 22m0 0l45 11m0 0l45 8m0 0l46 27m0 0l45 6m0 0l45 13m0 0l45 11m0 0l46 16m0 0l45 16m0 0l45 15m0 0l46 19m0 0l45 0m0 0l45 20m0 0l46 22m0 0l45 8m0 0l45 15m0 0l45 20m0 0l46 6m0 0l45 14m0 0l45 11m0 0l46 23m0 0l45 9m0 0l45 3m0 0l46 20m0 0l45 3m0 0l45 27m0 0l45 10m0 0l46 8m0 0l45 11m0 0l45 4m0 0l46 28m0 0l45 7m0 0l45 11m0 0l45 19m0 0l46 4m0 0l45 12m0 0l45 12m0 0l46 8m0 0l45 36m0 0l45-5m0 0l46 12m0 0l45 20m0 0l45-15m0 0l45 32m0 0l46 13m0 0l45 5m0 0l45 21m0 0l46-5m0 0l45 25m0 0l45 18m0 0l46-10m0 0l45 17m0 0l45 20m0 0l45 12m0 0l46 7m0 0l45 18m0 0l45 10m0 0l46 0m0 0l45 20m0 0l45 3m0 0l46 5m0 0l45 8m0 0l45 35m0 0l45 3m0 0l46 25m0 0l45-13m0 0l45 18m0 0l46 15m0 0l45 7m0 0l45 15m0 0l46 8m0 0l45 5m0 0l45-3m0 0l45 20m0 0l46 30m0 0l45 3m0 0l45 14m0 0l46-5m0 0l45 13m0 0l45 4m0 0l45 19m0 0l46 7m0 0l45 12m0 0l45 20m0 0l46-11m0 0l45 21m0 0l45-7m0 0l46 28m0 0l45-3m0 0l45 12m0 0l45 10m0 0l46 21m0 0l45-4m0 0l45 5m0 0l46 3m0 0l45 21m0 0l45-1m0 0l46 12m0 0l45 12m0 0l45 15m0 0l45-3m0 0l46 20m0 0l45 18m0 0l45-18m0 0l46 32m0 0l45 16m0 0l45-14m0 0l46 18m0 0l45-7m0 0l45 23m0 0l45 3m0 0l46 15m0 0l45-2m0 0l45 10m0 0l46 12m0 0l45 7m0 0l45 10m0 0l46 12m0 0l45 1m0 0l45 18m0 0l45 14m0 0l46-15m0 0l45 31m0 0l45 1m0 0l46 5m0 0l45 7m0 0l45 14m0 0l45 9m0 0l46 19m0 0l45-5m0 0l45 30m0 0l46-8m0 0l45 22m0 0l45 13m0 0l46-12m0 0l45 30m0 0l45 20m0 0l45-15m0 0l46 18m0 0l45 3m0 0l45 11m0 0l46 7m0 0l45 6m0 0l45 20m0 0l46 11m0 0l45 1m0 0l45 24m0 0l45 5m0 0l46 5m0 0l45-4m0 0l45 34m0 0l46 4m0 0l45-25m0 0l45 20m0 0l46 15m0 0l45 23m0 0l45 13m0 0l45-6m0 0l46 15m0 0l45 14m0 0l45-10m0 0l46 28m0 0l45 1m0 0l45 15m0 0l46 7m0 0l45-2m0 0l45 12m0 0l45 20m0 0l46 11m0 0l45 6m0 0l45 23m0 0l46-5m0 0l45 1m0 0l45 18m0 0l45 12m0 0l46 10m0 0l45 23m0 0l45 3m0 0l46 15m0 0l45 5m0 0l45 1m0 0l46 21m0 0l45-4m0 0l45 14m0 0l45-4m0 0l46 21m0 0l45 4m0 0l45 16m0 0l46 24m0 0l45 15m0 0l45-6m0 0l46-4m0 0l45 18m0 0l45 1m0 0l45-1m0 0l46 14m0 0l45 5m0 0l45 4m0 0l46 29m0 0l45-14m0 0l45 8m0 0l46 20m0 0l45-9m0 0l45 2m0 0l45 10m0 0l46 22m0 0l45 6m0 0l45 6m0 0l46-2m0 0l45 1m0 0l45 28m0 0l46-21m0 0l45 21m0 0l45-6m0 0l45 17m0 0l46 9m0 0l45 23m0 0l45-41m0 0l46 56m0 0l45-19m0 0l45 20m0 0l45 13m0 0l46-11m0 0l45 15m0 0l45 14m0 0l46 0m0 0l45 0m0 0l45 18m0 0l46 7m0 0l45-12m0 0l45 42m0 0l45-6m0 0l46-24m0 0l45 28m0 0l45 39m0 0l46 7m0 0l45-7m0 0l45-15m0 0l46 27m0 0l45 25m0 0l45 1m0 0l45 0m0 0l46 5m0 0l45 29m0 0l45-4m0 0l46 17m0 0l45 12m0 0l45 24m0 0l46-8m0 0l45 11m0 0l45-16m0 0l45 46m0 0l46 8m0 0l45-2m0 0l45-19m0 0l46 32m0 0l45 18m0 0l45 36m0 0l45-9m0 0l46 12m0 0l45 10m0 0l45 16m0 0l46-22m0 0l45 13m0 0l45 5m0 0l46 21m0 0l45 8m0 0l45 15m0 0l45-6m0 0l46 23m0 0l45-4m0 0l45 48m0 0l46-27m0 0l45 49m0 0l45-4m0 0l46-31m0 0l45 37m0 0l45 3m0 0l45-21m0 0l46 36m0 0l45-2m0 0l45 13m0 0l46-9m0 0l45 18m0 0l45 14m0 0l46-1m0 0l45 1m0 0l45 13m0 0l45-4m0 0l46 25m0 0l45-33m0 0l45 63m0 0l46-13m0 0l45 12m0 0l45 13m0 0l46-23m0 0l45 56m0 0l45-41m0 0l45 29m0 0l46 5m0 0l45 21m0 0l45-12m0 0l46-13m0 0l45 31m0 0l45-33m0 0l45 39m0 0l46 3m0 0l45 36m0 0l45-19m0 0l46 4m0 0l45 3m0 0l45 5m0 0l46 12m0 0l45 23m0 0l45-20m0 0l45 22m0 0l46-11m0 0l45 25m0 0l45 11m0 0l46-14m0 0l45 16m0 0l45 16m0 0l46 16m0 0l45 9m0 0l45-10m0 0l45-7m0 0l46-3m0 0l45 42m0 0l45 15m0 0l46-9m0 0l45 24m0 0l45-24m0 0l46 8m0 0l45 35m0 0l45-32m0 0l45 31m0 0l46 3m0 0l45 4m0 0l45 31m0 0l46-33m0 0l45 14m0 0l45-17m0 0l46 23m0 0l45 16m0 0l45 10m0 0l45 11m0 0l46 16m0 0l45-6m0 0l45-11m0 0l46 42m0 0l45 13m0 0l45-15m0 0l45 16m0 0l46 51m0 0l45 1m0 0l45 14m0 0l46 8m0 0l45 8m0 0l45 5m0 0l46 35m0 0l45 5m0 0l45 15m0 0l45 25m0 0l46 19m0 0l45 35m0 0l45-9m0 0l46 75m0 0l45-35m0 0l45 30m0 0l46 43m0 0l45-8m0 0l45 26m0 0l45 29m0 0l46-28m0 0l45 59m0 0l45 12m0 0l46 30m0 0l45 30m0 0l45 20m0 0l46 31m0 0l45 15m0 0l45 9m0 0l45-3m0 0l46 31m0 0l45-22m0 0l45 26m0 0l46 35m0 0l45-3m0 0l45-28m0 0l46 20m0 0l45 32m0 0l45 2m0 0l45 15m0 0l46-41m0 0l45 15m0 0l45 24m0 0l46-6m0 0l45 23m0 0l45 7m0 0l45 12m0 0l46-1m0 0l45 18m0 0l45 10m0 0l46-5m0 0l45-17m0 0l45 49m0 0l46-12m0 0l45 9m0 0l45 2m0 0l45-25m0 0l46 43m0 0l45-15m0 0l45-4m0 0l46 48m0 0l45-22m0 0l45 16m0 0l46 16m0 0l45 18m0 0l45-54m0 0l45 24m0 0l46 29m0 0l45-18m0 0l45-40m0 0l46 65m0 0l45 6m0 0l45 15m0 0l46-5m0 0l45-7m0 0l45 16m0 0l45 1m0 0l46-4m0 0l45 18m0 0l45 6m0 0l46-19m0 0l45 40m0 0l45 1m0 0l46 4m0 0l45-58m0 0l45 55m0 0l45 0m0 0l46-12m0 0l45 33m0 0l45-33m0 0l46 53m0 0l45-11m0 0l45-12m0 0l45 39m0 0l46-14m0 0l45 2m0 0l45-26m0 0l46 37m0 0l45 20m0 0l45-2m0 0l46-40m0 0l45 53m0 0l45 8m0 0l45-11m0 0l46-19m0 0l45-17m0 0l45 15m0 0l46 9m0 0l45 19m0 0l45 9m0 0l46-21m0 0l45-13m0 0l45 26m0 0l45-14m0 0l46 53m0 0l45-44m0 0l45 35m0 0l46 9m0 0l45-30m0 0l45 40m0 0l46-18m0 0l45-9m0 0l45 0m0 0l45 23m0 0l46 21m0 0l45-53m0 0l45 50m0 0l46-11m0 0l45-9m0 0l45 15m0 0l45 5m0 0l46 2m0 0l45 20m0 0l45-30m0 0l46 58m0 0l45-18m0 0l45-26m0 0l46-22m0 0l45 39m0 0l45-4m0 0l45 25m0 0l46 2m0 0l45 26m0 0l45-37m0 0l46 21m0 0l45-21m0 0l45 4m0 0l46 40m0 0l45-30m0 0l45 3m0 0l45-2m0 0l46 16m0 0l45 8m0 0l45-11m0 0l46-18m0 0l45 32m0 0l45-20m0 0l46 12m0 0l45 14m0 0l45 3m0 0l45-48m0 0l46 83m0 0l45-16m0 0l45 26m0 0l46 14m0 0l45-66m0 0l45 10m0 0l46 19m0 0l45 16m0 0l45-26m0 0l45 6m0 0l46 31m0 0l45-37m0 0l45 25m0 0l46 20m0 0l45-25m0 0l45 24m0 0l45-15m0 0l46-28m0 0l45 24m0 0l45 10m0 0l46 0m0 0l45 10m0 0l45 10m0 0l46 1m0 0l45 0m0 0l45-10m0 0l45 7m0 0l46 0m0 0l45-2m0 0l45 44m0 0l46-65m0 0l45 47m0 0l45-36m0 0l46 24m0 0l45 32m0 0l45-20m0 0l45 38m0 0l46-46m0 0l45 17m0 0l45-5m0 0l46 17m0 0l45-4m0 0l45 2m0 0l46 12m0 0l45 25m0 0l45-17m0 0l45 1m0 0l46-4m0 0l45-6m0 0l45-12m0 0l46 11m0 0l45 26m0 0l45-38m0 0l46 58m0 0l45-20m0 0l45-8m0 0l45 12m0 0l46 29m0 0l45-3m0 0l45 1m0 0l46 36m0 0l45 16m0 0l45-75m0 0l45 50m0 0l46-32m0 0l45-9m0 0l45 21m0 0l46 37m0 0l45-25m0 0l45 0m0 0l46 44m0 0l45-16m0 0l45-9m0 0l45 45m0 0l46-26m0 0l45-23m0 0l45-5m0 0l46 18m0 0l45 17m0 0l45 20m0 0l46 1m0 0l45-13m0 0l45-25m0 0l45 49m0 0l46-15m0 0l45-23m0 0l45 0m0 0l46 35m0 0l45 6m0 0l45 13m0 0l46-42m0 0l45 72m0 0l45-79m0 0l45 42m0 0l46 34m0 0l45-4m0 0l45-41m0 0l46 37m0 0l45 17m0 0l45-8m0 0l46-35m0 0l45 62m0 0l45-70m0 0l45 40m0 0l46-22m0 0l45 17m0 0l45 5m0 0l46 21m0 0l45-36m0 0l45 36m0 0l45 27m0 0l46-24m0 0l45 13m0 0l45 0m0 0l46-23m0 0l45 11m0 0l45 13m0 0l46 12m0 0l45 37m0 0l45-5m0 0l45-44m0 0l46 4m0 0l45-10m0 0l45-26m0 0l46 83m0 0l45-14m0 0l45-53m0 0l46 47m0 0l45 55m0 0l45-39m0 0l45 4m0 0l46-4m0 0l45-19m0 0l45-6m0 0l46 11m0 0l45 24m0 0l45-6m0 0l46 24m0 0l45 27m0 0l45-23m0 0l45 8m0 0l46-23m0 0l45-19m0 0l45 80m0 0l46-29m0 0l45 13m0 0l45-32m0 0l46-26m0 0l45 70m0 0l45-75m0 0l45 48m0 0l46-6m0 0l45 20m0 0l45 16m0 0l46 3m0 0l45-62m0 0l45 71m0 0l45-61m0 0l46 60m0 0l45-22m0 0l45-13m0 0l46 17m0 0l45-15m0 0l45 32m0 0l46 24m0 0l45 0m0 0l45-15m0 0l45 27m0 0l46-11m0 0l45 40m0 0l45-34m0 0l46-22m0 0l45 10m0 0l45-8m0 0l46 14m0 0l45 6m0 0l45 21m0 0l45 5m0 0l46-14m0 0l45 12m0 0l45-24m0 0l46 7m0 0l45-40m0 0l45 41m0 0l46 9m0 0l45 71m0 0l45-85m0 0l45 35m0 0l46-6m0 0l45-25m0 0l45 44m0 0l46-3m0 0l45-30m0 0l45-17m0 0l45 54m0 0l46-28m0 0l45 50m0 0l45-19m0 0l46 21m0 0l45-15m0 0l45 44m0 0l46-16m0 0l45 21m0 0l45-29m0 0l45-22m0 0l46-6m0 0l45 23m0 0l45 21m0 0l46-18m0 0l45 72m0 0l45-53m0 0l46 14m0 0l45-5m0 0l45-28m0 0l45 55m0 0l46-6m0 0l45 8m0 0l45-38m0 0l46 25m0 0l45 1m0 0l45 30m0 0l46-54m0 0l45 49m0 0l45 16m0 0l45-35m0 0l46-6m0 0l45 51m0 0l45-21m0 0l46 23m0 0l45-6m0 0l45 10m0 0l46-25m0 0l45-41m0 0l45 64m0 0l45-26m0 0l46 32m0 0l45-22m0 0l45 51m0 0l46-39m0 0l45 27m0 0l45 9m0 0l45-23m0 0l46 12m0 0l45-5m0 0l45-17m0 0l46 57m0 0l45-51m0 0l45-12m0 0l46 27m0 0l45 17m0 0l45 2m0 0l45-6m0 0l46 0m0 0l45-35m0 0l45 66m0 0l46 28m0 0l45-52m0 0l45-22m0 0l46 61m0 0l45-18m0 0l45-83m0 0l45 77m0 0l46-13m0 0l45 9m0 0l45 75m0 0l46-19m0 0l45-23m0 0l45 7m0 0l46 39m0 0l45-57m0 0l45 44m0 0l45-28m0 0l46 37m0 0l45-11m0 0l45-18m0 0l46 44m0 0l45-8m0 0l45 32m0 0l46-48m0 0l45 16m0 0l45-15m0 0l45 46m0 0l46-42m0 0l45 20m0 0l45 34m0 0l46-15m0 0l45-2m0 0l45 3m0 0l45 5m0 0l46 10m0 0l45-18m0 0l45-36m0 0l46 79m0 0l45-51m0 0l45 69m0 0l46-32m0 0l45 69m0 0l45-42m0 0l45-14m0 0l46 14m0 0l45-49m0 0l45 39m0 0l46-9m0 0l45 11m0 0l45-44m0 0l46 0m0 0l45 70m0 0l45-13m0 0l45-8m0 0l46 11m0 0l45-9m0 0l45 7m0 0l46 29m0 0l45-17m0 0l45 24m0 0l46-29m0 0l45-22m0 0l45 29m0 0l45 15m0 0l46-19m0 0l45 19m0 0l45 1m0 0l46 35m0 0l45 1m0 0l45 9m0 0l46-39m0 0l45 28m0 0l45 25m0 0l45-23m0 0l46-3m0 0l45-12m0 0l45 39m0 0l46-12m0 0l45 22m0 0l45-24m0 0l45 54m0 0l46-45m0 0l45-25m0 0l45 36m0 0l46 9m0 0l45 21m0 0l45-37m0 0l46 1m0 0l45 9m0 0l45 0m0 0l45-37m0 0l46 68m0 0l45 14m0 0l45-43m0 0l46-2m0 0l45 22m0 0l45-13m0 0l46 39m0 0l45-29m0 0l45 30m0 0l45-39m0 0l46-2m0 0l45 0m0 0l45 5m0 0l46 45m0 0l45 12m0 0l45-14m0 0l46 4m0 0l45-53m0 0l45 78m0 0l45-51m0 0l46 60m0 0l45 28m0 0l45-51m0 0l46 15m0 0l45 2m0 0l45-42m0 0l46 6m0 0l45 13m0 0l45 21m0 0l45 18m0 0l46-15m0 0l45 25m0 0l45-35m0 0l46-19m0 0l45 35m0 0l45 0m0 0l45-29m0 0l46 58m0 0l45-44m0 0l45 8m0 0l46 23m0 0l45-28m0 0l45 40m0 0l46-3m0 0l45 3m0 0l45-9m0 0l45-9m0 0l46-5m0 0l45 26m0 0l45 26m0 0l46-12m0 0l45-7m0 0l45 16m0 0l46 9m0 0l45-57m0 0l45 29m0 0l45 30m0 0l46-41m0 0l45 6m0 0l45 26m0 0l46-17m0 0l45 34m0 0l45-33m0 0l46 22m0 0l45 45m0 0l45-29m0 0l45-56m0 0l46 9m0 0l45 2m0 0l45 23m0 0l46-29m0 0l45 46m0 0l45 28m0 0l45-2m0 0l46-51m0 0l45 12m0 0l45 1m0 0l46-10m0 0l45 58m0 0l45-52m0 0l46-9m0 0l45 35m0 0l45 1m0 0l45 28m0 0l46 2m0 0l45-38m0 0l45-41m0 0l46 64m0 0l45 4m0 0l45 23m0 0l46-74m0 0l45 10m0 0l45 63m0 0l45 3m0 0l46-6m0 0l45-29m0 0l45 31m0 0l46-40m0 0l45-14m0 0l45 28m0 0l46 5m0 0l45 17m0 0l45 8m0 0l45-64m0 0l46 48m0 0l45 6m0 0l45-39m0 0l46 24m0 0l45 9m0 0l45 10m0 0l46-28m0 0l45 7m0 0l45-10m0 0l45 33m0 0l46-14m0 0l45-4m0 0l45 29m0 0l46-17m0 0l45-22m0 0l45 53m0 0l45-2m0 0l46-10m0 0l45-33m0 0l45 50m0 0l46-37m0 0l45-28m0 0l45 40m0 0l46 45m0 0l45-50m0 0l45 25m0 0l45 18m0 0l46-25m0 0l45-10m0 0l45 8m0 0l46 14m0 0l45-23m0 0l45 20m0 0l46 6m0 0l45-20m0 0l45 26m0 0l45-3m0 0l46-19m0 0l45 5m0 0l45 7m0 0l46-5m0 0l45 0m0 0l45-17m0 0l46 26m0 0l45 15m0 0l45-1m0 0l45-31m0 0l46 31m0 0l45 2m0 0l45-33m0 0l46 33m0 0l45-14m0 0l45-4m0 0l46 15m0 0l45-9m0 0l45-44m0 0l45 55m0 0l46-29m0 0l45 24m0 0l45 18m0 0l46-19m0 0l45-4m0 0l45 14m0 0l45 8m0 0l46-28m0 0l45 5m0 0l45 26m0 0l46 25m0 0l45-35m0 0l45 21m0 0l46-35m0 0l45 17m0 0l45 2m0 0l45-29m0 0l46 29m0 0l45-3m0 0l45-52m0 0l46 55m0 0l45 9m0 0l45 0m0 0l46 2m0 0l45-31m0 0l45 9m0 0l45 13m0 0l46-15m0 0l45 10m0 0l45 38m0 0l46-46m0 0l45 13m0 0l45 48m0 0l46-43m0 0l45-18m0 0l45 28m0 0l45-1m0 0l46 0m0 0l45-39m0 0l45 43m0 0l46 3m0 0l45 38m0 0l45-30m0 0l46-23m0 0l45 17m0 0l45 8m0 0l45-17m0 0l46 3m0 0l45 31m0 0l45-19m0 0l46 2m0 0l45-32m0 0l45 31m0 0l45-50m0 0l46 68m0 0l45-36m0 0l45 25m0 0l46 17m0 0l45-54m0 0l45 50m0 0l46-20m0 0l45 21m0 0l45-33m0 0l45-6m0 0l46 43m0 0l45-18m0 0l45-8m0 0l46-25m0 0l45 54m0 0l45-36m0 0l46 3m0 0l45-10m0 0l45 16m0 0l45 13m0 0l46-14m0 0l45 0m0 0l45-9m0 0l46 44m0 0l45 4m0 0l45-42m0 0l46-12m0 0l45 25m0 0l45-40m0 0l45 41m0 0l46 1m0 0l45-2m0 0l45 31m0 0l46 6m0 0l45-30m0 0l45-17m0 0l46 30m0 0l45 3m0 0l45-50m0 0l45 11m0 0l46 10m0 0l45-30m0 0l45 12m0 0l46 60m0 0l45-62m0 0l45 46m0 0l45-35m0 0l46 39m0 0l45-14m0 0l45 13m0 0l46-49m0 0l45 36m0 0l45-18m0 0l46 29m0 0l45 0m0 0l45-12m0 0l45-6m0 0l46 3m0 0l45 6m0 0l45-16m0 0l46 2m0 0l45-4m0 0l45-9m0 0l46 46m0 0l45-51m0 0l45 57m0 0l45-12m0 0l46-52m0 0l45-3m0 0l45 41m0 0l46-23m0 0l45 26m0 0l45 18m0 0l46-13m0 0l45-12m0 0l45 1m0 0l45 37m0 0l46-40m0 0l45 46m0 0l45 7m0 0l46-52m0 0l45 15m0 0l45 31m0 0l45-52m0 0l46 25m0 0l45 14m0 0l45-45m0 0l46 31m0 0l45-5m0 0l45-14m0 0l46 45m0 0l45-35m0 0l45 52m0 0l45-33m0 0l46-31m0 0l45 22m0 0l45-22m0 0l46 34m0 0l45-3m0 0l45-40m0 0l46 18m0 0l45 19m0 0l45-9m0 0l45-22m0 0l46 45m0 0l45 6m0 0l45-61m0 0l46 64m0 0l45-75m0 0l45 41m0 0l46-11m0 0l45 2m0 0l45 16m0 0l45-28m0 0l46 23m0 0l45 39m0 0l45-27m0 0l46 23m0 0l45-13m0 0l45-54m0 0l46 74m0 0l45-20m0 0l45-4m0 0l45-22m0 0l46-2m0 0l45-12m0 0l45 20m0 0l46 6m0 0l45-5m0 0l45 0m0 0l45-38m0 0l46 25m0 0l45 0m0 0l45 24m0 0l46-16m0 0l45 0m0 0l45 12m0 0l46-12m0 0l45 4m0 0l45 30m0 0l45-27m0 0l46-15m0 0l45 32m0 0l45 5m0 0l46-4m0 0l45-41m0 0l45 48m0 0l46-18m0 0l45 2m0 0l45-1m0 0l45 8m0 0l46 1m0 0l45 21m0 0l45-26m0 0l46-6m0 0l45 15m0 0l45-15m0 0l46 26m0 0l45-20m0 0l45 13m0 0l45-27m0 0l46 32m0 0l45-7m0 0l45-31m0 0l46 10m0 0l45 10m0 0l45-30m0 0l46 6m0 0l45 33m0 0l45 1m0 0l45 18m0 0l46-56m0 0l45 20m0 0l45-35m0 0l46 81m0 0l45-66m0 0l45 23m0 0l45 47m0 0l46-10m0 0l45-49m0 0l45 67m0 0l46-39m0 0l45-31m0 0l45 28m0 0l46 8m0 0l45 0m0 0l45-59m0 0l45 85m0 0l46-73m0 0l45 30m0 0l45 35m0 0l46-22m0 0l45-9m0 0l45-12m0 0l46 26m0 0l45 17m0 0l45-41m0 0l45 21m0 0l46-17m0 0l45 0m0 0l45-35m0 0l46 50m0 0l45 14m0 0l45-23m0 0l46 26m0 0l45-18m0 0l45 23m0 0l45-23m0 0l46-11m0 0l45-2m0 0l45 13m0 0l46 4m0 0l45-22m0 0l45 13m0 0l46-25m0 0l45 0m0 0l45 43m0 0l45-6m0 0l46 11m0 0l45-15m0 0l45 2m0 0l46 34m0 0l45-56m0 0l45 24m0 0l45 27m0 0l46 10m0 0l45-31m0 0l45-14m0 0l46-19m0 0l45 19m0 0l45 6m0 0l46-2m0 0l45 10m0 0l45 2m0 0l45-22m0 0l46-9m0 0l45 13m0 0l45 16m0 0l46 25m0 0l45-69m0 0l45 58m0 0l46-29m0 0l45 30m0 0l45 17m0 0l45-30m0 0l46-34m0 0l45 15m0 0l45 17m0 0l46-14m0 0l45 5m0 0l45-14m0 0l46 12m0 0l45-9m0 0l45 32m0 0l45-12m0 0l46 10m0 0l45-50m0 0l45 25m0 0l46-6m0 0l45 7m0 0l45-9m0 0l46 3m0 0l45 49m0 0l45-39m0 0l45-20m0 0l46 20m0 0l45 54m0 0l45-32m0 0l46-35m0 0l45 15m0 0l45 4m0 0l45 2m0 0l46-39m0 0l45 19m0 0l45 17m0 0l46-33m0 0l45 33m0 0l45 5m0 0l46 15m0 0l45 7m0 0l45-26m0 0l45 9m0 0l46 9m0 0l45 8m0 0l45-20m0 0l46-17m0 0l45 28m0 0l45 6m0 0l46-14m0 0l45 9m0 0l45 21m0 0l45-43m0 0l46-4m0 0l45-8m0 0l45 30m0 0l46 13m0 0l45-30m0 0l45 49m0 0l46-50m0 0l45 18m0 0l45-8m0 0l45 32m0 0l46-42m0 0l45 48m0 0l45-38m0 0l46-24m0 0l45 16m0 0l45 9m0 0l45 39m0 0l46-45m0 0l45 10m0 0l45 44m0 0l46-40m0 0l45-17m0 0l45-2m0 0l46-17m0 0l45 41m0 0l45 18m0 0l45-33m0 0l46-14m0 0l45 28m0 0l45-6m0 0l46-3m0 0l45 13m0 0l45-9m0 0l46-8m0 0l45 29m0 0l45-60m0 0l45 15m0 0l46 18m0 0l45-22m0 0l45 60m0 0l46-77m0 0l45 61m0 0l45-3m0 0l46-5m0 0l45 2m0 0l45-20m0 0l45-3m0 0l46 45m0 0l45-33m0 0l45-28m0 0l46 5m0 0l45-6m0 0l45 38m0 0l46 19m0 0l45-30m0 0l45 9m0 0l45-13m0 0l46 30m0 0l45 0m0 0l45 1m0 0l46 19m0 0l45-64m0 0l45 43m0 0l45-49m0 0l46 48m0 0l45 2m0 0l45-1m0 0l46 2m0 0l45-20m0 0l45-10m0 0l46 30m0 0l45-30m0 0l45 29m0 0l45-33m0 0l46 25m0 0l45 0m0 0l45-24m0 0l46 11m0 0l45 26m0 0l45-18m0 0l46 10m0 0l45-22m0 0l45 14m0 0l45-33m0 0l46 15m0 0l45 43m0 0l45-15m0 0l46-11m0 0l45 3m0 0l45-31m0 0l46 37m0 0l45-34m0 0l45 10m0 0l45 30m0 0l46-30m0 0l45 5m0 0l45 9m0 0l46 4m0 0l45 26m0 0l45-64m0 0l46 28m0 0l45 21m0 0l45-23m0 0l45 2m0 0l46-8m0 0l45 10m0 0l45 20m0 0l46 13m0 0l45-19m0 0l45 22m0 0l45-27m0 0l46-36m0 0l45 50m0 0l45-57m0 0l46 41m0 0l45 1m0 0l45-23m0 0l46 19m0 0l45-7m0 0l45 15m0 0l45-10m0 0l46 20m0 0l45-21m0 0l45 21m0 0l46-13m0 0l45 6m0 0l45-3m0 0l46-12m0 0l45 33m0 0l45-11m0 0l45-59m0 0l46 22m0 0l45 61m0 0l45-41m0 0l46 64m0 0l45-49m0 0l45 0m0 0l46-18m0 0l45 5m0 0l45 8m0 0l45 16m0 0l46-17m0 0l45-3m0 0l45-20m0 0l46 11m0 0l45 1m0 0l45 6m0 0l46-12m0 0l45-7m0 0l45 16m0 0l45-45m0 0l46 20m0 0l45 14m0 0l45 25m0 0l46-22m0 0l45-9m0 0l45 37m0 0l45-17m0 0l46 31m0 0l45-32m0 0l45-11m0 0l46 7m0 0l45 45m0 0l45-5m0 0l46-29m0 0l45 19m0 0l45-50m0 0l45 54m0 0l46-18m0 0l45-9m0 0l45 2m0 0l46 5m0 0l45-14m0 0l45 1m0 0l46-17m0 0l45 57m0 0l45-51m0 0l45 16m0 0l46 24m0 0l45 4m0 0l45 4m0 0l46-42m0 0l45 3m0 0l45 8m0 0l46-37m0 0l45 57m0 0l45-52m0 0l45 31m0 0l46 21m0 0l45-1m0 0l45-27m0 0l46 29m0 0l45 3m0 0l45-57m0 0l46 30m0 0l45 19m0 0l45-5m0 0l45-13m0 0l46 2m0 0l45 50m0 0l45-55m0 0l46 30m0 0l45-46m0 0l45 35m0 0l45 11m0 0l46-30m0 0l45-4m0 0l45 52m0 0l46-42m0 0l45 25m0 0l45-50m0 0l46 65m0 0l45-76m0 0l45 23m0 0l45 7m0 0l46 11m0 0l45 6m0 0l45 29m0 0l46 11m0 0l45-4m0 0l45-22m0 0l46-12m0 0l45-47m0 0l45 41m0 0l45-10m0 0l46 25m0 0l45-33m0 0l45 4m0 0l46 2m0 0l45 29m0 0l45-10m0 0l46-25m0 0l45-14m0 0l45 24m0 0l45-1m0 0l46 2m0 0l45 13m0 0l45 13m0 0l46 2m0 0l45-30m0 0l45-2m0 0l45 48m0 0l46-37m0 0l45 21m0 0l45-11m0 0l46 4m0 0l45 25m0 0l45-37m0 0l46 28m0 0l45-12m0 0l45-14m0 0l45-6m0 0l46-1m0 0l45 35m0 0l45-3m0 0l46-38m0 0l45 26m0 0l45-46m0 0l46 39m0 0l45 42m0 0l45-68m0 0l45 32m0 0l46-19m0 0l45 15m0 0l45-24m0 0l46 26m0 0l45-52m0 0l45 43m0 0l46-1m0 0l45 5m0 0l45 44m0 0l45-66m0 0l46 10m0 0l45-14m0 0l45 39m0 0l46-10m0 0l45-25m0 0l45 44m0 0l46-14m0 0l45 25m0 0l45-14m0 0l45-14m0 0l46-18m0 0l45-29m0 0l45 33m0 0l46 36m0 0l45-28m0 0l45-13m0 0l45 23m0 0l46 11m0 0l45 43m0 0l45-79m0 0l46 13m0 0l45-16m0 0l45 9m0 0l46 34m0 0l45-21m0 0l45-28m0 0l45 58m0 0l46 10m0 0l45-21m0 0l45-37m0 0l46-1m0 0l45 49m0 0l45-48m0 0l46 10m0 0l45-19m0 0l45 71m0 0l45-54m0 0l46 11m0 0l45-12m0 0l45 1m0 0l46-10m0 0l45 48m0 0l45-37m0 0l46 45m0 0l45-58m0 0l45 38m0 0l45 10m0 0l46-45m0 0l45 30m0 0l45-17m0 0l46-11m0 0l45 14m0 0l45-30m0 0l46 33m0 0l45-26m0 0l45 47m0 0l45 18m0 0l46-2m0 0l45-45m0 0l45 13m0 0l46 45m0 0l45-15m0 0l45-13m0 0l45-58m0 0l46 38m0 0l45 54m0 0l45-36m0 0l46-20m0 0l45 12m0 0l45 50m0 0l46-24m0 0l45-54m0 0l45 3m0 0l45 25m0 0l46 27m0 0l45-43m0 0l45 4m0 0l46-42m0 0l45 41m0 0l45 27m0 0l46 0m0 0l45-44m0 0l45 48m0 0l45-35m0 0l46-12m0 0l45 41m0 0l45-46m0 0l46 25m0 0l45-8m0 0l45 16m0 0l46 8m0 0l45-14m0 0l45-9m0 0l45 7m0 0l46-40m0 0l45 49m0 0l45 48m0 0l46-36m0 0l45 18m0 0l45-25m0 0l46 1m0 0l45 10m0 0l45 5m0 0l45 0m0 0l46-32m0 0l45 19m0 0l45-32m0 0l46 55m0 0l45-23m0 0l45-5m0 0l45-21m0 0l46 38m0 0l45 12m0 0l45-11m0 0l46 14m0 0l45-41m0 0l45 37m0 0l46-19m0 0l45-58m0 0l45 65m0 0l45-28m0 0l46 19m0 0l45-11m0 0l45-4m0 0l46 42m0 0l45-34m0 0l45 16m0 0l46 12m0 0l45-23m0 0l45-18m0 0l45 28m0 0l46-3m0 0l45-17m0 0l45 23m0 0l46 26m0 0l45-7m0 0l45 13m0 0l46-3m0 0l45-25m0 0l45-4m0 0l45-23m0 0l46 50m0 0l45-38m0 0l45 25m0 0l46 24m0 0l45-33m0 0l45-35m0 0l46 10m0 0l45 16m0 0l45 37m0 0l45-36m0 0l46 4m0 0l45-20m0 0l45 32m0 0l46-5m0 0l45 15m0 0l45-38m0 0l45 35m0 0l46-44m0 0l45 16m0 0l45 3m0 0l46 8m0 0l45 13m0 0l45-59m0 0l46 49m0 0l45-6m0 0l45-20m0 0l45 23m0 0l46 16m0 0l45-19m0 0l45 0m0 0l46 26m0 0l45-31m0 0l45 40m0 0l46-14m0 0l45 1m0 0l45 4m0 0l45 15m0 0l46-42m0 0l45 41m0 0l45-43m0 0l46 28m0 0l45 5m0 0l45-9m0 0l46-26m0 0l45-2m0 0l45 3m0 0l45 24m0 0l46 6m0 0l45 10m0 0l45-45m0 0l46 41m0 0l45 17m0 0l45-18m0 0l45-2m0 0l46 19m0 0l45 18m0 0l45-1m0 0l46 2m0 0l45-59m0 0l45 60m0 0l46-37m0 0l45 27m0 0l45-30m0 0l45 23m0 0l46-19m0 0l45 7m0 0l45 50m0 0l46-66m0 0l45 49m0 0l45-19m0 0l46-23m0 0l45 54m0 0l45-26m0 0l45-11m0 0l46 21m0 0l45-23m0 0l45 55m0 0l46-66m0 0l45 23m0 0l45-31m0 0l46 51m0 0l45 14m0 0l45 4m0 0l45 16m0 0l46-32m0 0l45-8m0 0l45 32m0 0l46-31m0 0l45 23m0 0l45-16m0 0l46-3m0 0l45 16m0 0l45 28m0 0l45-3m0 0l46-14m0 0l45-58m0 0l45 59m0 0l46 11m0 0l45 5m0 0l45-25m0 0l45 40m0 0l46-13m0 0l45-46m0 0l45 60m0 0l46 21m0 0l45-27m0 0l45-21m0 0l46 59m0 0l45-16m0 0l45-59m0 0l45 65m0 0l46-12m0 0l45 0m0 0l45-43m0 0l46 4m0 0l45 43m0 0l45 40m0 0l46-36m0 0l45 0m0 0l45-13m0 0l45 7m0 0l46 33m0 0l45-37m0 0l45 60m0 0l46-28m0 0l45-2m0 0l45-8m0 0l46-11m0 0l45 13m0 0l45-25m0 0l45 36m0 0l46-41m0 0l45 91m0 0l45-47m0 0l46-30m0 0l45 41m0 0l45-1m0 0l46-13m0 0l45 20m0 0l45-21m0 0l45 16m0 0l46 1m0 0l45 17m0 0l45-21m0 0l46 21m0 0l45-66m0 0l45 87m0 0l45-17m0 0l46 10m0 0l45-15m0 0l45 26m0 0l46-18m0 0l45 8m0 0l45-1m0 0l46-12m0 0l45-6m0 0l45 34m0 0l45 4m0 0l46-13m0 0l45 31m0 0l45-23m0 0l46 10m0 0l45 15m0 0l45-7m0 0l46-18m0 0l45-18m0 0l45 9m0 0l45-4m0 0l46 41m0 0l45-93m0 0l45 123m0 0l46-62m0 0l45 45m0 0l45-15m0 0l46 6m0 0l45-38m0 0l45 52m0 0l45-23m0 0l46 17m0 0l45-33m0 0l45 21m0 0l46-13m0 0l45 24m0 0l45 9m0 0l46-19m0 0l45 16m0 0l45 3m0 0l45-12m0 0l46-3m0 0l45-36m0 0l45 67m0 0l46-19m0 0l45-8m0 0l45 11m0 0l45-15m0 0l46 5m0 0l45 19m0 0l45-44m0 0l46 27m0 0l45 13m0 0l45-39m0 0l46 11m0 0l45 52m0 0l45 21m0 0l45-41m0 0l46 9m0 0l45-33m0 0l45 48m0 0l46-30m0 0l45 4m0 0l45 7m0 0l46-22m0 0l45-2m0 0l45 14m0 0l45-22m0 0l46 10m0 0l45-44m0 0l45 35m0 0l46 31m0 0l45 14m0 0l45-11m0 0l46-31m0 0l45 19m0 0l45-22m0 0l45-3m0 0l46 44m0 0l45-30m0 0l45 1m0 0l46 11m0 0l45 16m0 0l45-18m0 0l46-8m0 0l45 12m0 0l45-9m0 0l45-6m0 0l46-41m0 0l45 28m0 0l45 16m0 0l46-20m0 0l45 62m0 0l45 10m0 0l45-14m0 0l46-57m0 0l45 30m0 0l45-2m0 0l46-2m0 0l45-43m0 0l45 54m0 0l46 16m0 0l45-20m0 0l45 28m0 0l45-53m0 0l46 21m0 0l45 12m0 0l45-49m0 0l46 17m0 0l45-15m0 0l45 35m0 0l46-45m0 0l45 31m0 0l45-19m0 0l45 30m0 0l46-32m0 0l45 7m0 0l45 8m0 0l46-23m0 0l45 6m0 0l45 3m0 0l46-7m0 0l45 16m0 0l45-24m0 0l45 17m0 0l46-9m0 0l45-9m0 0l45-12m0 0l46-18m0 0l45 24m0 0l45 26m0 0l45-21m0 0l46 39m0 0l45-55m0 0l45 11m0 0l46-27m0 0l45 57m0 0l45-55m0 0l46 37m0 0l45-4m0 0l45 48m0 0l45-28m0 0l46-13m0 0l45-16m0 0l45 37m0 0l46-50m0 0l45-20m0 0l45 44m0 0l46-22m0 0l45-15m0 0l45 21m0 0l45 3m0 0l46-46m0 0l45 53m0 0l45 20m0 0l46-53m0 0l45-25m0 0l45 37m0 0l46-10m0 0l45 18m0 0l45 2m0 0l45-25m0 0l46 35m0 0l45-77m0 0l45 25m0 0l46 18m0 0l45 3m0 0l45-12m0 0l46 10m0 0l45-39m0 0l45-24m0 0l45 67m0 0l46 9m0 0l45-30m0 0l45-27m0 0l46 8m0 0l45 27m0 0l45-10m0 0l45 23m0 0l46 5m0 0l45-10m0 0l45-34m0 0l46 26m0 0l45-13m0 0l45-8m0 0l46-2m0 0l45-8m0 0l45-22m0 0l45 28m0 0l46-26m0 0l45 14m0 0l45 17m0 0l46-3m0 0l45-59m0 0l45 24m0 0l46-11m0 0l45 28m0 0l45-23m0 0l45 34m0 0l46-32m0 0l45 19m0 0l45-34m0 0l46 4m0 0l45 8m0 0l45 14m0 0l46-56m0 0l45 45m0 0l45-36m0 0l45 34m0 0l46-45m0 0l45 28m0 0l45 34m0 0l46 4m0 0l45-56m0 0l45 58m0 0l46-48m0 0l45 8m0 0l45 8m0 0l45-10m0 0l46 4m0 0l45-6m0 0l45 13m0 0l46-16m0 0l45-16m0 0l45-14m0 0l45-2m0 0l46 19m0 0l45 15m0 0l45-10m0 0l46-15m0 0l45 14m0 0l45-23m0 0l46 13m0 0l45 6m0 0l45-20m0 0l45 35m0 0l46-6m0 0l45-32m0 0l45 18m0 0l46-11m0 0l45 1m0 0l45-1m0 0l46 20m0 0l45-23m0 0l45-2m0 0l45 12m0 0l46-2m0 0l45 16m0 0l45-56m0 0l46 30m0 0l45-55m0 0l45 39m0 0l46-30m0 0l45-2m0 0l45 24m0 0l45-22m0 0l46 15m0 0l45-54m0 0l45 87m0 0l46-89m0 0l45 42m0 0l45 49m0 0l46-67m0 0l45 65m0 0l45-15m0 0l45-26m0 0l46-8m0 0l45 0m0 0l45 11m0 0l46 14m0 0l45 6m0 0l45-76m0 0l45 63m0 0l46-6m0 0l45-42m0 0l45 45m0 0l46-1m0 0l45-1m0 0l45-23m0 0l46 17m0 0l45 8m0 0l45-41m0 0l45 2m0 0l46-3m0 0l45 37m0 0l45-27m0 0l46-17m0 0l45-8m0 0l45-7m0 0l46 32m0 0l45 12m0 0l45 8m0 0l45-51m0 0l46 0m0 0l45-2m0 0l45 1m0 0l46-15m0 0l45 64m0 0l45-25m0 0l46-22m0 0l45-46m0 0l45 83m0 0l45-14m0 0l46-16m0 0l45 12m0 0l45-32m0 0l46 27m0 0l45-27m0 0l45 20m0 0l46-15m0 0l45-26m0 0l45 3m0 0l45 45m0 0l46-3m0 0l45-27m0 0l45-13m0 0l46 4m0 0l45 16m0 0l45-39m0 0l45 49m0 0l46-40m0 0l45-8m0 0l45 22m0 0l46 40m0 0l45-58m0 0l45 6m0 0l46-19m0 0l45 29m0 0l45-1m0 0l45-8m0 0l46-10m0 0l45 15m0 0l45 8m0 0l46-28m0 0l45 2m0 0l45-10m0 0l46 0m0 0l45 37m0 0l45-49m0 0l45 24m0 0l46 17m0 0l45-35m0 0l45 22m0 0l46 2m0 0l45-49m0 0l45 51m0 0l46-45m0 0l45 23m0 0l45-37m0 0l45-3m0 0l46 28m0 0l45 39m0 0l45 19m0 0l46 3m0 0l45-31m0 0l45-5m0 0l45-11m0 0l46-3m0 0l45-23m0 0l45-4m0 0l46 18m0 0l45 0m0 0l45-25m0 0l46-14m0 0l45 9m0 0l45 88m0 0l45-89m0 0l46 45m0 0l45-6m0 0l45-4m0 0l46-38m0 0l45 57m0 0l45-39m0 0l46-20m0 0l45-4m0 0l45 12m0 0l45 48m0 0l46-75m0 0l45 12m0 0l45 14m0 0l46 10m0 0l45-35m0 0l45 1m0 0l46 9m0 0l45 26m0 0l45-19m0 0l45-2m0 0l46 8m0 0l45-2m0 0l45 17m0 0l46-37m0 0l45 16m0 0l45-15m0 0l46 30m0 0l45 1m0 0l45-23m0 0l45 30m0 0l46-30m0 0l45 35m0 0l45-40m0 0l46-1m0 0l45-23m0 0l45 10m0 0l45 14m0 0l46-38m0 0l45 46m0 0l45 19m0 0l46-7m0 0l45-8m0 0l45 11m0 0l46-27m0 0l45 2m0 0l45 29m0 0l45-21m0 0l46 24m0 0l45-32m0 0l45 26m0 0l46 12m0 0l45-29m0 0l45 40m0 0l46-3m0 0l45-87m0 0l45 111m0 0l45-93m0 0l46 90m0 0l45-74m0 0l45-26m0 0l46 17m0 0l45 40m0 0l45-32m0 0l46 10m0 0l45 39m0 0l45-48m0 0l45 33m0 0l46 18m0 0l45-69m0 0l45 16m0 0l46 31m0 0l45-5m0 0l45 7m0 0l46-50m0 0l45 26m0 0l45 28m0 0l45 5m0 0l46 15m0 0l45-36m0 0l45-7m0 0l46-5m0 0l45 2m0 0l45-24m0 0l45 82m0 0l46-46m0 0l45-6m0 0l45 2m0 0l46 27m0 0l45-9m0 0l45-19m0 0l46 40m0 0l45-16m0 0l45-10m0 0l45 5m0 0l46 27m0 0l45-10m0 0l45-17m0 0l46 25m0 0l45-70m0 0l45 64m0 0l46-33m0 0l45 5m0 0l45 9m0 0l45 48m0 0l46-45m0 0l45 1m0 0l45 17m0 0l46-56m0 0l45 40m0 0l45 20m0 0l46-36m0 0l45 35m0 0l45-28m0 0l45-16m0 0l46 53m0 0l45-17m0 0l45 16m0 0l46-12m0 0l45-27m0 0l45 47m0 0l46-12m0 0l45 1m0 0l45-17m0 0l45-15m0 0l46 57m0 0l45-14m0 0l45-12m0 0l46-16m0 0l45 43m0 0l45-47m0 0l45 2m0 0l46 65m0 0l45-33m0 0l45 7m0 0l46-3m0 0l45 31m0 0l45-36m0 0l46 3m0 0l45-30m0 0l45 21m0 0l45-34m0 0l46 26m0 0l45 9m0 0l45 17m0 0l46 14m0 0l45-44m0 0l45-7m0 0l46 30m0 0l45-25m0 0l45 58m0 0l45-9m0 0l46-49m0 0l45 27m0 0l45 24m0 0l46-47m0 0l45 10m0 0l45 10m0 0l46 32m0 0l45-19m0 0l45-15m0 0l45 13m0 0l46-5m0 0l45 3m0 0l45 8m0 0l46-5m0 0l45 10m0 0l45-14m0 0l46-5m0 0l45 0m0 0l45-28m0 0l45 25m0 0l46 50m0 0l45-39m0 0l45 13m0 0l46 8m0 0l45-29m0 0l45 4m0 0l45 19m0 0l46-31m0 0l45 41m0 0l45-5m0 0l46-9m0 0l45 1m0 0l45 11m0 0l46-13m0 0l45-56m0 0l45 66m0 0l45-31m0 0l46 11m0 0l45 2m0 0l45 0m0 0l46-26m0 0l45-5m0 0l45 41m0 0l46 3m0 0l45 9m0 0l45-37m0 0l45 22m0 0l46 25m0 0l45-25m0 0l45-4m0 0l46 57m0 0l45-80m0 0l45 19m0 0l46-6m0 0l45 14m0 0l45 80m0 0l45-91m0 0l46 17m0 0l45-5m0 0l45-5m0 0l46 35m0 0l45-27m0 0l45 34m0 0l45 8m0 0l46-42m0 0l45 42m0 0l45-56m0 0l46 33m0 0l45 16m0 0l45-45m0 0l46 22m0 0l45 12m0 0l45 2m0 0l45-4m0 0l46 36m0 0l45-47m0 0l45 30m0 0l46 20m0 0l45-60m0 0l45 5m0 0l46-14m0 0l45 39m0 0l45 15m0 0l45-69m0 0l46 18m0 0l45 7m0 0l45 62m0 0l46-56m0 0l45 16m0 0l45-35m0 0l46 46m0 0l45-42m0 0l45 21m0 0l45-21m0 0l46 21m0 0l45-1m0 0l45 8m0 0l46-1m0 0l45 36m0 0l45-56m0 0l46 45m0 0l45-22m0 0"/>
<path class="cv" stroke="#000000" d="M202,212.5l1.5 2.2l1.5 2.2l1.5 2.2l1.5 2.2l1.5 2.2l1.5 2.2l1.5 2.2l1.5 2.2l1.5 2.1l1.5 2.2l1.5 2.1l1.5 2.2l1.5 2.1l1.5 2.2l1.5 2.1l1.5 2.1l1.5 2.2l1.5 2.1l1.5 2.1l1.5 2.1l1.5 2.1l1.5 2.2l1.5 2.1l1.5 2.1l1.5 2.1l1.5 2.1l1.5 2.1l1.5 2.1l1.5 2.1l1.5 2.1l1.5 2.1l1.5 2.1l1.5 2.1l1.5 2.1l1.5 2.1l1.5 2.1l1.5 2.1l1.5 2.1l1.5 2.1l1.5 2.1l1.5 2.1l1.5 2.2l1.5 2.1l1.5 2.1l1.5 2.1l1.5 2.1l1.5 2.2l1.5 2.1l1.5 2.1l1.5 2.2l1.5 2.1l1.5 2.1l1.5 2.2l1.5 2.1l1.5 2.2l1.5 2.2l1.5 2.1l1.5 2.2l1.5 2.2l1.5 2.2l1.5 2.2l1.5 2.2l1.5 2.2l1.5 2.3l1.5 2.2l1.5 2.2l1.5 2.3l1.5 2.2l1.5 2.3l1.5 2.3l1.5 2.3l1.5 2.3l1.5 2.3l1.5 2.3l1.5 2.4l1.5 2.3l1.5 2.4l1.5 2.4l1.5 2.4l1.5 2.4l1.5 2.4l1.5 2.5l1.5 2.4l1.5 2.5l1.5 2.4l1.5 2.5l1.5 2.4l1.5 2.4l1.5 2.5l1.5 2.4l1.5 2.4l1.5 2.4l1.5 2.4l1.5 2.3l1.5 2.4l1.5 2.3l1.5 2.3l1.5 2.2l1.5 2.3l1.5 2.2l1.5 2.2l1.5 2.2l1.5 2.1l1.5 2.1l1.5 2.1l1.5 2l1.5 2.1l1.5 1.9l1.5 2l1.5 1.9l1.5 1.9l1.5 1.9l1.5 1.9l1.5 1.8l1.5 1.8l1.5 1.8l1.5 1.8l1.5 1.8l1.5 1.7l1.5 1.7l1.5 1.8l1.5 1.7l1.5 1.7l1.5 1.7l1.5 1.7l1.5 1.7l1.5 1.6l1.5 1.7l1.5 1.7l1.5 1.7l1.5 1.7l1.5 1.6l1.5 1.7l1.5 1.7l1.5 1.7l1.5 1.7l1.5 1.7l1.5 1.7l1.5 1.7l1.5 1.7l1.5 1.7l1.5 1.8l1.5 1.7l1.5 1.8l1.5 1.8l1.5 1.7l1.5 1.8l1.5 1.8l1.5 1.8l1.5 1.9l1.5 1.8l1.5 1.8l1.5 1.9l1.5 1.8l1.5 1.9l1.5 1.9l1.5 1.9l1.5 1.9l1.5 1.9l1.5 1.9l1.5 1.9l1.5 2l1.5 1.9l1.5 2l1.5 2l1.5 2l1.5 2l1.5 2l1.5 2.1l1.5 2l1.5 2.1l1.5 2l1.5 2.1l1.5 2.1l1.5 2.1l1.5 2.2l1.5 2.1l1.5 2.2l1.5 2.1l1.5 2.2l1.5 2.2l1.5 2.2l1.5 2.3l1.5 2.2l1.5 2.3l1.5 2.3l1.5 2.3l1.5 2.3l1.5 2.3l1.5 2.4l1.5 2.4l1.5 2.3l1.5 2.4l1.5 2.5l1.5 2.4l1.5 2.5l1.5 2.5l1.5 2.5l1.5 2.5l1.5 2.5l1.5 2.6l1.5 2.6l1.5 2.6l1.5 2.6l1.5 2.6l1.5 2.6l1.5 2.7l1.5 2.7l1.5 2.6l1.5 2.7l1.5 2.7l1.5 2.7l1.5 2.7l1.5 2.8l1.5 2.7l1.5 2.7l1.5 2.8l1.5 2.7l1.5 2.7l1.5 2.8l1.5 2.7l1.5 2.7l1.5 2.7l1.5 2.7l1.5 2.8l1.5 2.6l1.5 2.7l1.5 2.7l1.5 2.7l1.5 2.6l1.5 2.7l1.5 2.6l1.5 2.6l1.5 2.6l1.5 2.5l1.5 2.6l1.5 2.5l1.5 2.5l1.5 2.5l1.5 2.5l1.5 2.4l1.5 2.5l1.5 2.4l1.5 2.4l1.5 2.3l1.5 2.4l1.5 2.3l1.5 2.3l1.5 2.3l1.5 2.3l1.5 2.2l1.5 2.3l1.5 2.3l1.5 2.2l1.5 2.3l1.5 2.3l1.5 2.3l1.5 2.4l1.5 2.3l1.5 2.4l1.5 2.5l1.5 2.4l1.5 2.6l1.5 2.6l1.5 2.7l1.5 2.8l1.5 3l1.5 3.1l1.5 3.3l1.5 3.6l1.5 4l1.5 4.2l1.5 4l1.5 3.7l1.5 3.2l1.5 2.8l1.5 2.5l1.5 2.2l1.5 2.1l1.5 2l1.5 1.8l1.5 1.9l1.5 1.8l1.5 1.7l1.5 1.8l1.5 1.7l1.5 1.7l1.5 1.8l1.5 1.7l1.5 1.8l1.5 1.8l1.5 1.8l1.5 1.8l1.5 1.8l1.5 1.8l1.5 1.8l1.5 1.9l1.5 1.9l1.5 1.8l1.5 1.9l1.5 1.9l1.5 1.9l1.5 1.8l1.5 1.9l1.5 1.9l1.5 1.9l1.5 1.9l1.5 1.9l1.5 1.9l1.5 1.9l1.5 1.9l1.5 1.8l1.5 1.9l1.5 1.9l1.5 1.8l1.5 1.9l1.5 1.8l1.5 1.9l1.5 1.8l1.5 1.8l1.5 1.8l1.5 1.8l1.5 1.7l1.5 1.8l1.5 1.8l1.5 1.7l1.5 1.7l1.5 1.7l1.5 1.7l1.5 1.7l1.5 1.7l1.5 1.7l1.5 1.7l1.5 1.6l1.5 1.7l1.5 1.6l1.5 1.6l1.5 1.7l1.5 1.6l1.5 1.6l1.5 1.6l1.5 1.6l1.5 1.6l1.5 1.6l1.5 1.6l1.5 1.5l1.5 1.6l1.5 1.6l1.5 1.5l1.5 1.6l1.5 1.5l1.5 1.6l1.5 1.5l1.5 1.6l1.5 1.5l1.5 1.5l1.5 1.5l1.5 1.5l1.5 1.6l1.5 1.5l1.5 1.5l1.5 1.5l1.5 1.5l1.5 1.5l1.5 1.5l1.5 1.5l1.5 1.5l1.5 1.4l1.5 1.5l1.5 1.5l1.5 1.5l1.5 1.5l1.5 1.4l1.5 1.5l1.5 1.5l1.5 1.4l1.5 1.5l1.5 1.5l1.5 1.4l1.5 1.5l1.5 1.4l1.5 1.5l1.5 1.5l1.5 1.4l1.5 1.5l1.5 1.4l1.5 1.5l1.5 1.4l1.5 1.5l1.5 1.4l1.5 1.5l1.5 1.4l1.5 1.5l1.5 1.4l1.5 1.5l1.5 1.4l1.5 1.5l1.5 1.4l1.5 1.5l1.5 1.4l1.5 1.5l1.5 1.4l1.5 1.5l1.5 1.4l1.5 1.5l1.5 1.4l1.5 1.5l1.5 1.4l1.5 1.5l1.5 1.4l1.5 1.5l1.5 1.5l1.5 1.4l1.5 1.5l1.5 1.4l1.5 1.5l1.5 1.5l1.5 1.4l1.5 1.5l1.5 1.5l1.5 1.5l1.5 1.4l1.5 1.5l1.5 1.5l1.5 1.4l1.5 1.5l1.5 1.5l1.5 1.4l1.5 1.5l1.5 1.4l1.5 1.5l1.5 1.5l1.5 1.4l1.5 1.5l1.5 1.4l1.5 1.5l1.5 1.4l1.5 1.4l1.5 1.5l1.5 1.4l1.5 1.4l1.5 1.5l1.5 1.4l1.5 1.4l1.5 1.4l1.5 1.4l1.5 1.4l1.5 1.4l1.5 1.4l1.5 1.4l1.5 1.3l1.5 1.4l1.5 1.4l1.5 1.3l1.5 1.4l1.5 1.4l1.5 1.3l1.5 1.3l1.5 1.3l1.5 1.3l1.5 1.3l1.5 1.2l1.5 1.2l1.5 1.2l1.5 1.2l1.5 1.2l1.5 1.2l1.5 1.2l1.5 1.1l1.5 1.2l1.5 1.1l1.5 1.2l1.5 1.1l1.5 1.1l1.5 1.2l1.5 1.1l1.5 1.2l1.5 1.1l1.5 1.1l1.5 1.2l1.5 1.1l1.5 1.2l1.5 1.2l1.5 1.1l2 1.6"/>
<path class="cn" stroke="#000000" transform="scale(.01)" d="M93000,115614l45 36m0 0l46 37m0 0l45 36m0 0l45 37m0 0l45 37m0 0l46 36m0 0l45 37m0 0l45 38m0 0l46 37m0 0l45 37m0 0l45 38m0 0l46 37m0 0l45 39m0 0l45 37m0 0l45 38m0 0l46 39m0 0l45 38m0 0l45 39m0 0l46 39m0 0l45 39m0 0l45 39m0 0l46 39m0 0l45 40m0 0l45 40m0 0l45 40m0 0l46 39m0 0l45 41m0 0l45 40m0 0l46 41m0 0l45 41m0 0l45 41m0 0l46 41m0 0l45 42m0 0l45 41m0 0l45 43m0 0l46 41m0 0l45 43m0 0l45 43m0 0l46 42m0 0l45 45m0 0l45 43m0 0l46 42m0 0l45 47m0 0l45 45m0 0l45 48m0 0l46 47m0 0l45 47m0 0l45 51m0 0l46 49m0 0l45 52m0 0l45 49m0 0l45 53m0 0l46 50m0 0l45 53m0 0l45 52m0 0l46 55m0 0l45 52m0 0l45 55m0 0l46 52m0 0l45 54m0 0l45 53m0 0l45 52m0 0l46 54m0 0l45 54m0 0l45 51m0 0l46 54m0 0l45 52m0 0l45 52m0 0l46 51m0 0l45 51m0 0l45 51m0 0l45 50m0 0l46 48m0 0l45 50m0 0l45 46m0 0l46 47m0 0l45 46m0 0l45 48m0 0l46 43m0 0l45 42m0 0l45 42m0 0l45 44m0 0l46 39m0 0l45 40m0 0l45 42m0 0l46 37m0 0l45 40m0 0l45 38m0 0l46 38m0 0l45 37m0 0l45 39m0 0l45 34m0 0l46 36m0 0l45 35m0 0l45 38m0 0l46 35m0 0l45 36m0 0l45 34m0 0l45 35m0 0l46 34m0 0l45 35m0 0l45 35m0 0l46 34m0 0l45 35m0 0l45 37m0 0l46 32m0 0l45 31m0 0l45 39m0 0l45 33m0 0l46 32m0 0l45 38m0 0l45 33m0 0l46 34m0 0l45 35m0 0l45 35m0 0l46 38m0 0l45 37m0 0l45 34m0 0l45 38m0 0l46 40m0 0l45 32m0 0l45 40m0 0l46 35m0 0l45 34m0 0l45 35m0 0l46 36m0 0l45 35m0 0l45 32m0 0l45 35m0 0l46 36m0 0l45 33m0 0l45 35m0 0l46 34m0 0l45 34m0 0l45 38m0 0l45 34m0 0l46 36m0 0l45 38m0 0l45 36m0 0l46 40m0 0l45 43m0 0l45 42m0 0l46 45m0 0l45 41m0 0l45 43m0 0l45 55m0 0l46 48m0 0l45 47m0 0l45 59m0 0l46 58m0 0l45 64m0 0l45 79m0 0l46 80m0 0l45 91m0 0l45 84m0 0l45 94m0 0l46 95m0 0l45 96m0 0l45 95m0 0l46 99m0 0l45 96m0 0l45 91m0 0l46 85m0 0l45 84m0 0l45 83m0 0l45 72m0 0l46 66m0 0l45 56m0 0l45 62m0 0l46 45m0 0l45 40m0 0l45 50m0 0l46 44m0 0l45 30m0 0l45 46m0 0l45 39m0 0l46 41m0 0l45 33m0 0l45 35m0 0l46 35m0 0l45 39m0 0l45 34m0 0l45 22m0 0l46 30m0 0l45 43m0 0l45 17m0 0l46 31m0 0l45 31m0 0l45 31m0 0l46 31m0 0l45 26m0 0l45 24m0 0l45 34m0 0l46 28m0 0l45 36m0 0l45 22m0 0l46 25m0 0l45 32m0 0l45 42m0 0l46 23m0 0l45 27m0 0l45 39m0 0l45 35m0 0l46 38m0 0l45 23m0 0l45 41m0 0l46 33m0 0l45 26m0 0l45 35m0 0l46 42m0 0l45 32m0 0l45 29m0 0l45 30m0 0l46 37m0 0l45 26m0 0l45 33m0 0l46 28m0 0l45 37m0 0l45 31m0 0l46 47m0 0l45 17m0 0l45 39m0 0l45 33m0 0l46 24m0 0l45 38m0 0l45 14m0 0l46 44m0 0l45 35m0 0l45 14m0 0l45 37m0 0l46 43m0 0l45 24m0 0l45 26m0 0l46 34m0 0l45 30m0 0l45 37m0 0l46 28m0 0l45 26m0 0l45 27m0 0l45 33m0 0l46 38m0 0l45 23m0 0l45 31m0 0l46 23m0 0l45 22m0 0l45 32m0 0l46 36m0 0l45 25m0 0l45 22m0 0l45 23m0 0l46 38m0 0l45 25m0 0l45 27m0 0l46 27m0 0l45 31m0 0l45 27m0 0l46 32m0 0l45 26m0 0l45 30m0 0l45 23m0 0l46 19m0 0l45 29m0 0l45 30m0 0l46 21m0 0l45 32m0 0l45 31m0 0l46 13m0 0l45 20m0 0l45 47m0 0l45 18m0 0l46 32m0 0l45 12m0 0l45 48m0 0l46 20m0 0l45 20m0 0l45 25m0 0l45 30m0 0l46 25m0 0l45 26m0 0l45 21m0 0l46 45m0 0l45 18m0 0l45 28m0 0l46 27m0 0l45 8m0 0l45 50m0 0l45 20m0 0l46 28m0 0l45 30m0 0l45 19m0 0l46 41m0 0l45 15m0 0l45 26m0 0l46 27m0 0l45 36m0 0l45 32m0 0l45 16m0 0l46 19m0 0l45 49m0 0l45 9m0 0l46 46m0 0l45 17m0 0l45 22m0 0l46 28m0 0l45 36m0 0l45 31m0 0l45 18m0 0l46 37m0 0l45 37m0 0l45 7m0 0l46 19m0 0l45 28m0 0l45 24m0 0l46 34m0 0l45 26m0 0l45 22m0 0l45 44m0 0l46-1m0 0l45 39m0 0l45 57m0 0l46 19m0 0l45 22m0 0l45 27m0 0l45 40m0 0l46 16m0 0l45 23m0 0l45 16m0 0l46 38m0 0l45 22m0 0l45 28m0 0l46 28m0 0l45 35m0 0l45 25m0 0l45 39m0 0l46 7m0 0l45 39m0 0l45 48m0 0l46 10m0 0l45 40m0 0l45 27m0 0l46 29m0 0l45 22m0 0l45 7m0 0l45 39m0 0l46 26m0 0l45 15m0 0l45 38m0 0l46 19m0 0l45 23m0 0l45 46m0 0l46 24m0 0l45 20m0 0l45 24m0 0l45 30m0 0l46 28m0 0l45 25m0 0l45 30m0 0l46 21m0 0l45 34m0 0l45 26m0 0l45 23m0 0l46 13m0 0l45 25m0 0l45 35m0 0l46 17m0 0l45 25m0 0l45-4m0 0l46 20m0 0l45 56m0 0l45 23m0 0l45 34m0 0l46 15m0 0l45 16m0 0l45 20m0 0l46 5m0 0l45 48m0 0l45 5m0 0l46 35m0 0l45 18m0 0l45 22m0 0l45 29m0 0l46 6m0 0l45 22m0 0l45 16m0 0l46 28m0 0l45 46m0 0l45-2m0 0l46 41m0 0l45 17m0 0l45 22m0 0l45 23m0 0l46 0m0 0l45 40m0 0l45 38m0 0l46-5m0 0l45 32m0 0l45 15m0 0l46 37m0 0l45 6m0 0l45 59m0 0l45 0m0 0l46 10m0 0l45 68m0 0l45 16m0 0l46 20m0 0l45 27m0 0l45 15m0 0l45 28m0 0l46 40m0 0l45 30m0 0l45 28m0 0l46 18m0 0l45 19m0 0l45 31m0 0l46 46m0 0l45 33m0 0l45 4m0 0l45 26m0 0l46 52m0 0l45 22m0 0l45 28m0 0l46 0m0 0l45 42m0 0l45 26m0 0l46 38m0 0l45 2m0 0l45 69m0 0l45 15m0 0l46 29m0 0l45 5m0 0l45 44m0 0l46 47m0 0l45-15m0 0l45 54m0 0l46 32m0 0l45 6m0 0l45 48m0 0l45 9m0 0l46 48m0 0l45 14m0 0l45 21m0 0l46 51m0 0l45 7m0 0l45 32m0 0l46-12m0 0l45 33m0 0l45 47m0 0l45 26m0 0l46 10m0 0l45 38m0 0l45-4m0 0l46 45m0 0l45 3m0 0l45 48m0 0l45 11m0 0l46 22m0 0l45 35m0 0l45 52m0 0l46-21m0 0l45 30m0 0l45 50m0 0l46-1m0 0l45 58m0 0l45-2m0 0l45 21m0 0l46 26m0 0l45 45m0 0l45 4m0 0l46 19m0 0l45 17m0 0l45-9m0 0l46 32m0 0l45 59m0 0l45 9m0 0l45 14m0 0l46 21m0 0l45-1m0 0l45 33m0 0l46-3m0 0l45 39m0 0l45-2m0 0l46 25m0 0l45 27m0 0l45 3m0 0l45 32m0 0l46 12m0 0l45 13m0 0l45 31m0 0l46-34m0 0l45 11m0 0l45 52m0 0l46 19m0 0l45 32m0 0l45-8m0 0l45 14m0 0l46-18m0 0l45 42m0 0l45 11m0 0l46-18m0 0l45 15m0 0l45 27m0 0l45 19m0 0l46-46m0 0l45 67m0 0l45 15m0 0l46 6m0 0l45 20m0 0l45 16m0 0l46-14m0 0l45 40m0 0l45 1m0 0l45 0m0 0l46 35m0 0l45 37m0 0l45-40m0 0l46 10m0 0l45 15m0 0l45 83m0 0l46-27m0 0l45 19m0 0l45 2m0 0l45 14m0 0l46-5m0 0l45 59m0 0l45 18m0 0l46-26m0 0l45 35m0 0l45 23m0 0l46 32m0 0l45 23m0 0l45 35m0 0l45 23m0 0l46 12m0 0l45 24m0 0l45-31m0 0l46 31m0 0l45 52m0 0l45 2m0 0l46 13m0 0l45-20m0 0l45 21m0 0l45 71m0 0l46 11m0 0l45 6m0 0l45 17m0 0l46-7m0 0l45 61m0 0l45 33m0 0l45 32m0 0l46-14m0 0l45 14m0 0l45 1m0 0l46 66m0 0l45 29m0 0l45-29m0 0l46 38m0 0l45 14m0 0l45 5m0 0l45-22m0 0l46 63m0 0l45 39m0 0l45-25m0 0l46 31m0 0l45-33m0 0l45 115m0 0l46 2m0 0l45 9m0 0l45 12m0 0l45 11m0 0l46 31m0 0l45 13m0 0l45 20m0 0l46 24m0 0l45 22m0 0l45 50m0 0l46-47m0 0l45 56m0 0l45-1m0 0l45 8m0 0l46-9m0 0l45 84m0 0l45-17m0 0l46 24m0 0l45 45m0 0l45-16m0 0l45 43m0 0l46 16m0 0l45 38m0 0l45 23m0 0l46-24m0 0l45 58m0 0l45-5m0 0l46 23m0 0l45 10m0 0l45 41m0 0l45-28m0 0l46 51m0 0l45 38m0 0l45-16m0 0l46 70m0 0l45-46m0 0l45 39m0 0l46 1m0 0l45 13m0 0l45 6m0 0l45 30m0 0l46 28m0 0l45-1m0 0l45 56m0 0l46 32m0 0l45-55m0 0l45 72m0 0l46 1m0 0l45 18m0 0l45 69m0 0l45-14m0 0l46-4m0 0l45 13m0 0l45-40m0 0l46 86m0 0l45-20m0 0l45 38m0 0l46 14m0 0l45 37m0 0l45 41m0 0l45-9m0 0l46 23m0 0l45-21m0 0l45 32m0 0l46 23m0 0l45-38m0 0l45 100m0 0l45-52m0 0l46 1m0 0l45 87m0 0l45 27m0 0l46-54m0 0l45 17m0 0l45 107m0 0l46-59m0 0l45-38m0 0l45 48m0 0l45 80m0 0l46-20m0 0l45 16m0 0l45 26m0 0l46 0m0 0l45-13m0 0l45-18m0 0l46 64m0 0l45-26m0 0l45 39m0 0l45 59m0 0l46-18m0 0l45 1m0 0l45 12m0 0l46 30m0 0l45 18m0 0l45-45m0 0l46 51m0 0l45 53m0 0l45-12m0 0l45-27m0 0l46 16m0 0l45-23m0 0l45 46m0 0l46 76m0 0l45-30m0 0l45-7m0 0l46 22m0 0l45 26m0 0l45 15m0 0l45 8m0 0l46 4m0 0l45 52m0 0l45 39m0 0l46-40m0 0l45 17m0 0l45 63m0 0l45-54m0 0l46 41m0 0l45 24m0 0l45 34m0 0l46 8m0 0l45 4m0 0l45 54m0 0l46-19m0 0l45 7m0 0l45 15m0 0l45 99m0 0l46-44m0 0l45 83m0 0l45 30m0 0l46 29m0 0l45-3m0 0l45 14m0 0l46 42m0 0l45 6m0 0l45 5m0 0l45 94m0 0l46-35m0 0l45 98m0 0l45-12m0 0l46-4m0 0l45 47m0 0l45 44m0 0l46-51m0 0l45 34m0 0l45 16m0 0l45 54m0 0l46 25m0 0l45 8m0 0l45-5m0 0l46 22m0 0l45 63m0 0l45 13m0 0l46-15m0 0l45-27m0 0l45 69m0 0l45 3m0 0l46 13m0 0l45 55m0 0l45-13m0 0l46-38m0 0l45 13m0 0l45 80m0 0l45-21m0 0l46 32m0 0l45-16m0 0l45-12m0 0l46 49m0 0l45 50m0 0l45-23m0 0l46-31m0 0l45 36m0 0l45 6m0 0l45 32m0 0l46 37m0 0l45 39m0 0l45-39m0 0l46-8m0 0l45 26m0 0l45 10m0 0l46-2m0 0l45 24m0 0l45 11m0 0l45-24m0 0l46 62m0 0l45-17m0 0l45-8m0 0l46 55m0 0l45-19m0 0l45 78m0 0l46-28m0 0l45-2m0 0l45-15m0 0l45 21m0 0l46 48m0 0l45-36m0 0l45 53m0 0l46-77m0 0l45 80m0 0l45 29m0 0l46-5m0 0l45-1m0 0l45 40m0 0l45-47m0 0l46 5m0 0l45 43m0 0l45 43m0 0l46-14m0 0l45-10m0 0l45 24m0 0l45 14m0 0l46-44m0 0l45-39m0 0l45 64m0 0l46-6m0 0l45 37m0 0l45-10m0 0l46 19m0 0l45 49m0 0l45-2m0 0l45 5m0 0l46 62m0 0l45-58m0 0l45 11m0 0l46 60m0 0l45-67m0 0l45-8m0 0l46 101m0 0l45-22m0 0l45 17m0 0l45 9m0 0l46 17m0 0l45-36m0 0l45 21m0 0l46-26m0 0l45 48m0 0l45 11m0 0l46-14m0 0l45 44m0 0l45 82m0 0l45-125m0 0l46 72m0 0l45 12m0 0l45 12m0 0l46-54m0 0l45 73m0 0l45-10m0 0l45-17m0 0l46 0m0 0l45 27m0 0l45 30m0 0l46 6m0 0l45 54m0 0l45-79m0 0l46 39m0 0l45-27m0 0l45 48m0 0l45-15m0 0l46-16m0 0l45-17m0 0l45 26m0 0l46 40m0 0l45 49m0 0l45-16m0 0l46-59m0 0l45 31m0 0l45 25m0 0l45 1m0 0l46 13m0 0l45 31m0 0l45-12m0 0l46-24m0 0l45-34m0 0l45 60m0 0l46-38m0 0l45 58m0 0l45 23m0 0l45-49m0 0l46 47m0 0l45 0m0 0l45 84m0 0l46-43m0 0l45-73m0 0l45 87m0 0l46 6m0 0l45-14m0 0l45 1m0 0l45 40m0 0l46 10m0 0l45-1m0 0l45-43m0 0l46 33m0 0l45-38m0 0l45 9m0 0l45 40m0 0l46-10m0 0l45 29m0 0l45 109m0 0l46-62m0 0l45-41m0 0l45-38m0 0l46 54m0 0l45-14m0 0l45-20m0 0l45 111m0 0l46-35m0 0l45 40m0 0l45 101m0 0l46-92m0 0l45 2m0 0l45 16m0 0l46-14m0 0l45-13m0 0l45 30m0 0l45 56m0 0l46-42m0 0l45-32m0 0l45 12m0 0l46 16m0 0l45 45m0 0l45 26m0 0l46 8m0 0l45 33m0 0l45-42m0 0l45 46m0 0l46-10m0 0l45 23m0 0l45-84m0 0l46 121m0 0l45-93m0 0l45 23m0 0l46 78m0 0l45-34m0 0l45 88m0 0l45-51m0 0l46-35m0 0l45 52m0 0l45-12m0 0l46 81m0 0l45 11m0 0l45-24m0 0l45-34m0 0l46 27m0 0l45 44m0 0l45-60m0 0l46 8m0 0l45 70m0 0l45 4m0 0l46-28m0 0l45 7m0 0l45-54m0 0l45 126m0 0l46-41m0 0l45-40m0 0l45 19m0 0l46 17m0 0l45 107m0 0l45-30m0 0l46-68m0 0l45 129m0 0l45-11m0 0l45-83m0 0l46-52m0 0l45 146m0 0l45-51m0 0l46 26m0 0l45-7m0 0l45 77m0 0l46 16m0 0l45-17m0 0l45-28m0 0l45 24m0 0l46 22m0 0l45-75m0 0l45 115m0 0l46-51m0 0l45 30m0 0l45 4m0 0l46 37m0 0l45 14m0 0l45 52m0 0l45-89m0 0l46-13m0 0l45 48m0 0l45-22m0 0l46 65m0 0l45-55m0 0l45 44m0 0l45 39m0 0l46 10m0 0l45-22m0 0l45 54m0 0l46 3m0 0l45-106m0 0l45 86m0 0l46 1m0 0l45-10m0 0l45-5m0 0l45 34m0 0l46 20m0 0l45 4m0 0l45 49m0 0l46-6m0 0l45-53m0 0l45 1m0 0l46 69m0 0l45-51m0 0l45 40m0 0l45 19m0 0l46 29m0 0l45-13m0 0l45 43m0 0l46-65m0 0l45 50m0 0l45-43m0 0l46 39m0 0l45 5m0 0l45-33m0 0l45-56m0 0l46 142m0 0l45-15m0 0l45-2m0 0l46-25m0 0l45 21m0 0l45 37m0 0l46-10m0 0l45 50m0 0l45-33m0 0l45-29m0 0l46 61m0 0l45-40m0 0l45 38m0 0l46-70m0 0l45 62m0 0l45 41m0 0l45-40m0 0l46 30m0 0l45 30m0 0l45-14m0 0l46 72m0 0l45-71m0 0l45 9m0 0l46 7m0 0l45-63m0 0l45 23m0 0l45 85m0 0l46-27m0 0l45 71m0 0l45-49m0 0l46 2m0 0l45 52m0 0l45-23m0 0l46 57m0 0l45-95m0 0l45 62m0 0l45 15m0 0l46 2m0 0l45 28m0 0l45 1m0 0l46-31m0 0l45-17m0 0l45 64m0 0l46-29m0 0l45 40m0 0l45 21m0 0l45-38m0 0l46-36m0 0l45 30m0 0l45 46m0 0l46-33m0 0l45 59m0 0l45-37m0 0l45 9m0 0l46-23m0 0l45 25m0 0l45 51m0 0l46-49m0 0l45 6m0 0l45-12m0 0l46 65m0 0l45-82m0 0l45 38m0 0l45 65m0 0l46 24m0 0l45-57m0 0l45 50m0 0l46-106m0 0l45 109m0 0l45-12m0 0l46-53m0 0l45-16m0 0l45 54m0 0l45 34m0 0l46 9m0 0l45-4m0 0l45 30m0 0l46 3m0 0l45-74m0 0l45 43m0 0l46 0m0 0l45 64m0 0l45-53m0 0l45 62m0 0l46-30m0 0l45 91m0 0l45-86m0 0l46 7m0 0l45 1m0 0l45 15m0 0l46 92m0 0l45-107m0 0l45-9m0 0l45 31m0 0l46 38m0 0l45-58m0 0l45 73m0 0l46 4m0 0l45-31m0 0l45 2m0 0l45-15m0 0l46 24m0 0l45-15m0 0l45 83m0 0l46 19m0 0l45-67m0 0l45 14m0 0l46-66m0 0l45 57m0 0l45 38m0 0l45 3m0 0l46-1m0 0l45 32m0 0l45-24m0 0l46-13m0 0l45 81m0 0l45-129m0 0l46 34m0 0l45 20m0 0l45 6m0 0l45 3m0 0l46 26m0 0l45-14m0 0l45 30m0 0l46 29m0 0l45-17m0 0l45 9m0 0l46-36m0 0l45-2m0 0l45 36m0 0l45 51m0 0l46-16m0 0l45 32m0 0l45 1m0 0l46 10m0 0l45-68m0 0l45 82m0 0l46-13m0 0l45 54m0 0l45-51m0 0l45-5m0 0l46-13m0 0l45 16m0 0l45-64m0 0l46 58m0 0l45 12m0 0l45 44m0 0l45-58m0 0l46 35m0 0l45 68m0 0l45-84m0 0l46 57m0 0l45-48m0 0l45 21m0 0l46 26m0 0l45 20m0 0l45-47m0 0l45-15m0 0l46 100m0 0l45-46m0 0l45 28m0 0l46 9m0 0l45-2m0 0l45-34m0 0l46 10m0 0l45-49m0 0l45 69m0 0l45-20m0 0l46 22m0 0l45 75m0 0l45-40m0 0l46-20m0 0l45-48m0 0l45 83m0 0l46 34m0 0l45-84m0 0l45 51m0 0l45-31m0 0l46 18m0 0l45-4m0 0l45-42m0 0l46 45m0 0l45-37m0 0l45 116m0 0l46-8m0 0l45-34m0 0l45 13m0 0l45-4m0 0l46 10m0 0l45 3m0 0l45-12m0 0l46 7m0 0l45-40m0 0l45 17m0 0l45 19m0 0l46 34m0 0l45-18m0 0l45 89m0 0l46-74m0 0l45-3m0 0l45 34m0 0l46 26m0 0l45 34m0 0l45-29m0 0l45-54m0 0l46 19m0 0l45 50m0 0l45-26m0 0l46 24m0 0l45-29m0 0l45 66m0 0l46-2m0 0l45-8m0 0l45-33m0 0l45-62m0 0l46 13m0 0l45 66m0 0l45 16m0 0l46-129m0 0l45 94m0 0l45 64m0 0l46-4m0 0l45-50m0 0l45 45m0 0l45-19m0 0l46-5m0 0l45 53m0 0l45 4m0 0l46-58m0 0l45-13m0 0l45-10m0 0l46 0m0 0l45 105m0 0l45 24m0 0l45-59m0 0l46 35m0 0l45-61m0 0l45 26m0 0l46 40m0 0l45-19m0 0l45-10m0 0l45-57m0 0l46 11m0 0l45 42m0 0l45-2m0 0l46 21m0 0l45-18m0 0l45 19m0 0l46 14m0 0l45 20m0 0l45-14m0 0l45-19m0 0l46 13m0 0l45 47m0 0l45-38m0 0l46-25m0 0l45 1m0 0l45 51m0 0l46 13m0 0l45 28m0 0l45-54m0 0l45 66m0 0l46-61m0 0l45 7m0 0l45-9m0 0l46 43m0 0l45 23m0 0l45-37m0 0l46-15m0 0l45-35m0 0l45 65m0 0l45-15m0 0l46 8m0 0l45-13m0 0l45-6m0 0l46 20m0 0l45 35m0 0l45 22m0 0l45-33m0 0l46 15m0 0l45-16m0 0l45 5m0 0l46-43m0 0l45 86m0 0l45-8m0 0l46 35m0 0l45-73m0 0l45 30m0 0l45-36m0 0l46 46m0 0l45-11m0 0l45 32m0 0l46-27m0 0l45 32m0 0l45-39m0 0l46 42m0 0l45-30m0 0l45-2m0 0l45 22m0 0l46 13m0 0l45-63m0 0l45-1m0 0l46 66m0 0l45-7m0 0l45-70m0 0l46 15m0 0l45 37m0 0l45 43m0 0l45-1m0 0l46 32m0 0l45 9m0 0l45 46m0 0l46-137m0 0l45 54m0 0l45 43m0 0l46-82m0 0l45-3m0 0l45 61m0 0l45 36m0 0l46 9m0 0l45-110m0 0l45 24m0 0l46 44m0 0l45-14m0 0l45 34m0 0l45-4m0 0l46 63m0 0l45-65m0 0l45 11m0 0l46-1m0 0l45 41m0 0l45-80m0 0l46 58m0 0l45-40m0 0l45-21m0 0l45 98m0 0l46-21m0 0l45 35m0 0l45-40m0 0l46 17m0 0l45-16m0 0l45 18m0 0l46-33m0 0l45 81m0 0l45-93m0 0l45 98m0 0l46-68m0 0l45 42m0 0l45-24m0 0l46 14m0 0l45 41m0 0l45-47m0 0l46-38m0 0l45 46m0 0l45 18m0 0l45-112m0 0l46 129m0 0l45 7m0 0l45-103m0 0l46 62m0 0l45 39m0 0l45-71m0 0l46 30m0 0l45 5m0 0l45 36m0 0l45 23m0 0l46-40m0 0l45 6m0 0l45 34m0 0l46-11m0 0l45-22m0 0l45 56m0 0l45-100m0 0l46 60m0 0l45-19m0 0l45 0m0 0l46 28m0 0l45-4m0 0l45 93m0 0l46-65m0 0l45-9m0 0l45 51m0 0l45-22m0 0l46-105m0 0l45 76m0 0l45 26m0 0l46-49m0 0l45 36m0 0l45-26m0 0l46 33m0 0l45-73m0 0l45-10m0 0l45 54m0 0l46 31m0 0l45 44m0 0l45-59m0 0l46-15m0 0l45 64m0 0l45-31m0 0l46 68m0 0l45-69m0 0l45-68m0 0l45 45m0 0l46-4m0 0l45-15m0 0l45 25m0 0l46 5m0 0l45 16m0 0l45-8m0 0l46 37m0 0l45 2m0 0l45-7m0 0l45 2m0 0l46-77m0 0l45 10m0 0l45 31m0 0l46 44m0 0l45-63m0 0l45 41m0 0l45 26m0 0l46 67m0 0l45-64m0 0l45-28m0 0l46 62m0 0l45-32m0 0l45-17m0 0l46 54m0 0l45-75m0 0l45 43m0 0l45-3m0 0l46 32m0 0l45-76m0 0l45-4m0 0l46 35m0 0l45 5m0 0l45 13m0 0l46-14m0 0l45 31m0 0l45 11m0 0l45-16m0 0l46-47m0 0l45 84m0 0l45-100m0 0l46 51m0 0l45 43m0 0l45-56m0 0l46 73m0 0l45 24m0 0l45-11m0 0l45-42m0 0l46 22m0 0l45-56m0 0l45 36m0 0l46 3m0 0l45-13m0 0l45 4m0 0l46-13m0 0l45-65m0 0l45 90m0 0l45-2m0 0l46 67m0 0l45-50m0 0l45-23m0 0l46 31m0 0l45-8m0 0l45-23m0 0l45-13m0 0l46-40m0 0l45 61m0 0l45 58m0 0l46-131m0 0l45 35m0 0l45 66m0 0l46-21m0 0l45 10m0 0l45-85m0 0l45 49m0 0l46 42m0 0l45 4m0 0l45-10m0 0l46-43m0 0l45 54m0 0l45-64m0 0l46 10m0 0l45-7m0 0l45 99m0 0l45-69m0 0l46 19m0 0l45-85m0 0l45 126m0 0l46-23m0 0l45-79m0 0l45 3m0 0l46 124m0 0l45-98m0 0l45 107m0 0l45-87m0 0l46-75m0 0l45 137m0 0l45-22m0 0l46 8m0 0l45-44m0 0l45 12m0 0l45 45m0 0l46-67m0 0l45-42m0 0l45 110m0 0l46-57m0 0l45 73m0 0l45-66m0 0l46 3m0 0l45 7m0 0l45-78m0 0l45 134m0 0l46-67m0 0l45 17m0 0l45 64m0 0l46-50m0 0l45 30m0 0l45-20m0 0l46 17m0 0l45-17m0 0l45 34m0 0l45-51m0 0l46 26m0 0l45-43m0 0l45 73m0 0l46-127m0 0l45 90m0 0l45 8m0 0l46 0m0 0l45-12m0 0l45 52m0 0l45 30m0 0l46-102m0 0l45-49m0 0l45 32m0 0l46 11m0 0l45 27m0 0l45 4m0 0l46 44m0 0l45-57m0 0l45 16m0 0l45 7m0 0l46-37m0 0l45 22m0 0l45 118m0 0l46-108m0 0l45-32m0 0l45-45m0 0l45 123m0 0l46-51m0 0l45-11m0 0l45 118m0 0l46-38m0 0l45-119m0 0l45 53m0 0l46 52m0 0l45-5m0 0l45-73m0 0l45 110m0 0l46 4m0 0l45-112m0 0l45-24m0 0l46 15m0 0l45 79m0 0l45 17m0 0l46-34m0 0l45-28m0 0l45 19m0 0l45 26m0 0l46-67m0 0l45-17m0 0l45 62m0 0l46 51m0 0l45-39m0 0l45 1m0 0l46-32m0 0l45 61m0 0l45-99m0 0l45 63m0 0l46-19m0 0l45 17m0 0l45-28m0 0l46 64m0 0l45-30m0 0l45-19m0 0l46 42m0 0l45-20m0 0l45-17m0 0l45-2m0 0l46 53m0 0l45-65m0 0l45 28m0 0l46-1m0 0l45 23m0 0l45-19m0 0l45 91m0 0l46-148m0 0l45 90m0 0l45-23m0 0l46 44m0 0l45-103m0 0l45 108m0 0l46-98m0 0l45 80m0 0l45-6m0 0l45-18m0 0l46-28m0 0l45-2m0 0l45 35m0 0l46-31m0 0l45-45m0 0l45 6m0 0l46 100m0 0l45 2m0 0l45-11m0 0l45-17m0 0l46 13m0 0l45 5m0 0l45-8m0 0l46-39m0 0l45 3m0 0l45-15m0 0l46 50m0 0l45-42m0 0l45 32m0 0l45 57m0 0l46-64m0 0l45 52m0 0l45 24m0 0l46-128m0 0l45 15m0 0l45 74m0 0l46-44m0 0l45 48m0 0l45 7m0 0l45-46m0 0l46 52m0 0l45 36m0 0l45-29m0 0l46-69m0 0l45 28m0 0l45-14m0 0l45 81m0 0l46-66m0 0l45-18m0 0l45 29m0 0l46 18m0 0l45-33m0 0l45 19m0 0l46-3m0 0l45 29m0 0l45 9m0 0l45-25m0 0l46-28m0 0l45 34m0 0l45-48m0 0l46 75m0 0l45-27m0 0l45-3m0 0l46-100m0 0l45 182m0 0l45-33m0 0l45-7m0 0l46-42m0 0l45 21m0 0l45 84m0 0l46-134m0 0l45 56m0 0l45-5m0 0l46-17m0 0l45 9m0 0l45-50m0 0l45 63m0 0l46-74m0 0l45 121m0 0l45-39m0 0l46-62m0 0l45-46m0 0l45 84m0 0l46 16m0 0l45-56m0 0l45 102m0 0l45-52m0 0l46-27m0 0l45-35m0 0l45 49m0 0l46-2m0 0l45 33m0 0l45 16m0 0l45-38m0 0l46 17m0 0l45 38m0 0l45-30m0 0l46-33m0 0l45 34m0 0l45-42m0 0l46 37m0 0l45-14m0 0l45-43m0 0l45 65m0 0l46-19m0 0l45 26m0 0l45-78m0 0l46 93m0 0l45 3m0 0l45-57m0 0l46 11m0 0l45 6m0 0l45-2m0 0l45 33m0 0l46-58m0 0l45-16m0 0l45 35m0 0l46 82m0 0l45-86m0 0l45-23m0 0l46 4m0 0l45 42m0 0l45 39m0 0l45-72m0 0l46 35m0 0l45 2m0 0l45 11m0 0l46-12m0 0l45 35m0 0l45-13m0 0l45-49m0 0l46 117m0 0l45-144m0 0l45 3m0 0l46 90m0 0l45-32m0 0l45-15m0 0l46 17m0 0l45 19m0 0l45-41m0 0l45-7m0 0l46-15m0 0l45 7m0 0l45 3m0 0l46 75m0 0l45-32m0 0l45 11m0 0l46-42m0 0l45 62m0 0l45-98m0 0l45 78m0 0l46 9m0 0l45-48m0 0l45-16m0 0l46 59m0 0l45-46m0 0l45-6m0 0l46 34m0 0l45-41m0 0l45 38m0 0l45 83m0 0l46-93m0 0l45 51m0 0l45-73m0 0l46 44m0 0l45-13m0 0l45 4m0 0l46 36m0 0l45 54m0 0l45-86m0 0l45 55m0 0l46-35m0 0l45 15m0 0l45-45m0 0l46-8m0 0l45 19m0 0l45-21m0 0l45 30m0 0l46-39m0 0l45 41m0 0l45 7m0 0l46 63m0 0l45-3m0 0l45-45m0 0l46-38m0 0l45 43m0 0l45 9m0 0l45-38m0 0l46-24m0 0l45-35m0 0l45 67m0 0l46 75m0 0l45-80m0 0l45 23m0 0l46 0m0 0l45 6m0 0l45 11m0 0l45-105m0 0l46 72m0 0l45 20m0 0l45-17m0 0l46 51m0 0l45-60m0 0l45 50m0 0l46 33m0 0l45-76m0 0l45 11m0 0l45-11m0 0l46 41m0 0l45-110m0 0l45 26m0 0l46 46m0 0l45 45m0 0l45-10m0 0l46-53m0 0l45 93m0 0l45-56m0 0l45-28m0 0l46 45m0 0l45 30m0 0l45-51m0 0l46-55m0 0l45 38m0 0l45 25m0 0l45 33m0 0l46-73m0 0l45 48m0 0l45-54m0 0l46 49m0 0l45-53m0 0l45 34m0 0l46-40m0 0l45 21m0 0l45-22m0 0l45-14m0 0l46 122m0 0l45-1m0 0l45-26m0 0l46-31m0 0l45 70m0 0l45-66m0 0l46 28m0 0l45 28m0 0l45-34m0 0l45 48m0 0l46-61m0 0l45 1m0 0l45 11m0 0l46-48m0 0l45 4m0 0l45 71m0 0l46-95m0 0l45 110m0 0l45-32m0 0l45 35m0 0l46-15m0 0l45-6m0 0l45 44m0 0l46-68m0 0l45 0m0 0l45 47m0 0l46-67m0 0l45 69m0 0l45-17m0 0l45-44m0 0l46-29m0 0l45-28m0 0l45 149m0 0l46-127m0 0l45 11m0 0l45 80m0 0l45-15m0 0l46-9m0 0l45-4m0 0l45-19m0 0l46-18m0 0l45 7m0 0l45 52m0 0l46 18m0 0l45 5m0 0l45-46m0 0l45-83m0 0l46 105m0 0l45-24m0 0l45-96m0 0l46 156m0 0l45-44m0 0l45-10m0 0l46 10m0 0l45-2m0 0l45 5m0 0l45-4m0 0l46-2m0 0l45 21m0 0l45-8m0 0l46 80m0 0l45-86m0 0l45-24m0 0l46-3m0 0l45 38m0 0l45-9m0 0l45 6m0 0l46-17m0 0l45 2m0 0l45 36m0 0l46 24m0 0l45-38m0 0l45-17m0 0l46-39m0 0l45 0m0 0l45 47m0 0l45-11m0 0l46 6m0 0l45-38m0 0l45 38m0 0l46-69m0 0l45 30m0 0l45 15m0 0l45 54m0 0l46-46m0 0l45-12m0 0l45 47m0 0l46-14m0 0l45 40m0 0l45-22m0 0l46-4m0 0l45-15m0 0l45 33m0 0l45-53m0 0l46-29m0 0l45 93m0 0l45-52m0 0l46 20m0 0l45 23m0 0l45 15m0 0l46-148m0 0l45 71m0 0l45 87m0 0l45-111m0 0l46 84m0 0l45-32m0 0l45-19m0 0l46 30m0 0l45-59m0 0l45 80m0 0l46 30m0 0l45-98m0 0l45 29m0 0l45 72m0 0l46-31m0 0l45-26m0 0l45 68m0 0l46-118m0 0l45 54m0 0l45 14m0 0l45-15m0 0l46 43m0 0l45-93m0 0l45 66m0 0l46-31m0 0l45 76m0 0l45-5m0 0l46-68m0 0l45-13m0 0l45 41m0 0l45-30m0 0l46 11m0 0l45 39m0 0l45-33m0 0l46 87m0 0l45-66m0 0l45-22m0 0l46-22m0 0l45 23m0 0l45 63m0 0l45-21m0 0l46 34m0 0l45-4m0 0l45-28m0 0l46-47m0 0l45 22m0 0l45 8m0 0l46-65m0 0l45 77m0 0l45-52m0 0l45 37m0 0l46-16m0 0l45 43m0 0l45 78m0 0l46-145m0 0l45 45m0 0l45 80m0 0l46-113m0 0l45 27m0 0l45 6m0 0l45 16m0 0l46-73m0 0l45 74m0 0l45 12m0 0l46 75m0 0l45-100m0 0l45-18m0 0l45 28m0 0l46-105m0 0l45 114m0 0l45 47m0 0l46-60m0 0l45 0m0 0l45-7m0 0l46 15m0 0l45-52m0 0l45 107m0 0l45-76m0 0l46 1m0 0l45 81m0 0l45-62m0 0l46-16m0 0l45 80m0 0l45-56m0 0l46 30m0 0l45-57m0 0l45-45m0 0l45 75m0 0l46 48m0 0l45-72m0 0l45 33m0 0l46 14m0 0l45-17m0 0l45-7m0 0l46 28m0 0l45-21m0 0l45-28m0 0l45 61m0 0l46-9m0 0l45-16m0 0l45 14m0 0l46-127m0 0l45 111m0 0l45-8m0 0l46-77m0 0l45 156m0 0l45-65m0 0l45-30m0 0l46 3m0 0l45 25m0 0l45-10m0 0l46-60m0 0l45 46m0 0l45 33m0 0l45 7m0 0l46 11m0 0l45-73m0 0l45 17m0 0l46 39m0 0l45-37m0 0l45 32m0 0l46-40m0 0l45 55m0 0l45-19m0 0l45 20m0 0l46-20m0 0l45-31m0 0l45-16m0 0l46 49m0 0l45-24m0 0l45-33m0 0l46 37m0 0l45 51m0 0l45 18m0 0l45-17m0 0l46 23m0 0l45-65m0 0l45 9m0 0l46-30m0 0l45 7m0 0l45 92m0 0l46-45m0 0l45 9m0 0l45 76m0 0l45-26m0 0l46-106m0 0l45 71m0 0l45-65m0 0l46 67m0 0l45-109m0 0l45 36m0 0l46 2m0 0l45 112m0 0l45-144m0 0l45 111m0 0l46-1m0 0l45-36m0 0l45 28m0 0l46 68m0 0l45-89m0 0l45-19m0 0l45 63m0 0l46-22m0 0l45-73m0 0l45 52m0 0l46 4m0 0l45-54m0 0l45 8m0 0l46 11m0 0l45-20m0 0l45 67m0 0l45-8m0 0l46-96m0 0l45 69m0 0l45 23m0 0l46-57m0 0l45 41m0 0l45 23m0 0l46-76m0 0l45 54m0 0l45-79m0 0l45 120m0 0l46-56m0 0l45-27m0 0l45-15m0 0l46 8m0 0l45 113m0 0l45-81m0 0l46 11m0 0l45 7m0 0l45-43m0 0l45 88m0 0l46-125m0 0l45 131m0 0l45-63m0 0l46 32m0 0l45 10m0 0l45 21m0 0l46-79m0 0l45 72m0 0l45-25m0 0l45-4m0 0l46-4m0 0l45 54m0 0l45-24m0 0l46 32m0 0l45-14m0 0l45-111m0 0l45 73m0 0l46 44m0 0l45-73m0 0l45-30m0 0l46-23m0 0l45 166m0 0l45-112m0 0l46 43m0 0l45-48m0 0l45 59m0 0l45 48m0 0l46-119m0 0l45 54m0 0l45-27m0 0l46-42m0 0l45 39m0 0l45 36m0 0l46 47m0 0l45 3m0 0l45-50m0 0l45-63m0 0l46 91m0 0l45-25m0 0l45 0m0 0l46-44m0 0l45 39m0 0l45 83m0 0l46-17m0 0l45-8m0 0l45-23m0 0l45-41m0 0l46 16m0 0l45 6m0 0l45 10m0 0l46-28m0 0l45-19m0 0l45 77m0 0l45-57m0 0l46 47m0 0l45-39m0 0l45 34m0 0l46-6m0 0l45 10m0 0l45-2m0 0l46-63m0 0l45-15m0 0l45 51m0 0l45 67m0 0l46-97m0 0l45-3m0 0l45 125m0 0l46-148m0 0l45 38m0 0l45 7m0 0l46-10m0 0l45 2m0 0l45 67m0 0l45-33m0 0l46 0m0 0l45-71m0 0l45 95m0 0l46-24m0 0l45 0m0 0l45 27m0 0l46-20m0 0l45-12m0 0l45 18m0 0l45-44m0 0l46-7m0 0l45-17m0 0l45 91m0 0l46-63m0 0l45 33m0 0l45 37m0 0l46 27m0 0l45-83m0 0l45 21m0 0l45-2m0 0l46-54m0 0l45 32m0 0l45 128m0 0l46-111m0 0l45 72m0 0l45-38m0 0l45 39m0 0l46-17m0 0l45-42m0 0l45-56m0 0l46 104m0 0l45-27m0 0l45-8m0 0l46 15m0 0l45-64m0 0l45 37m0 0l45-5m0 0l46-57m0 0l45 12m0 0l45 42m0 0l46-80m0 0l45 115m0 0l45 2m0 0l46-33m0 0l45 15m0 0l45-81m0 0l45 78m0 0l46 23m0 0l45-9m0 0l45 17m0 0l46-38m0 0l45 81m0 0l45-60m0 0l46 15m0 0l45 12m0 0l45-71m0 0l45-13m0 0l46 74m0 0l45-77m0 0l45 26m0 0l46 62m0 0l45-80m0 0l45 5m0 0l46-9m0 0l45 9m0 0l45 113m0 0l45-50m0 0l46 17m0 0l45-112m0 0l45-17m0 0l46 50m0 0l45 86m0 0l45 6m0 0l45-121m0 0l46 9m0 0l45 94m0 0l45-14m0 0l46 8m0 0l45 10m0 0l45-64m0 0l46 45m0 0l45-15m0 0l45 60m0 0l45-59m0 0l46-60m0 0l45 124m0 0l45 22m0 0l46-31m0 0l45-49m0 0l45-23m0 0l46 77m0 0l45-59m0 0l45 42m0 0l45 12m0 0l46-34m0 0l45-70m0 0l45 100m0 0l46-56m0 0l45-18m0 0l45 62m0 0l46 11m0 0l45-5m0 0l45 32m0 0l45-94m0 0l46 101m0 0l45 45m0 0l45-62m0 0l46-11m0 0l45 18m0 0l45 59m0 0l46-49m0 0l45-18m0 0l45-30m0 0l45 126m0 0l46 6m0 0l45-50m0 0l45 86m0 0l46-90m0 0l45 48m0 0l45-73m0 0l45 17m0 0l46 43m0 0l45 24m0 0l45 10m0 0l46-54m0 0l45 19m0 0l45 21m0 0l46-3m0 0l45 5m0 0l45 45m0 0l45 17m0 0l46-114m0 0l45 126m0 0l45-42m0 0l46 8m0 0l45 2m0 0l45 25m0 0l46-8m0 0l45-86m0 0l45 93m0 0l45-77m0 0l46 59m0 0l45-7m0 0l45-68m0 0l46 60m0 0l45-10m0 0l45-16m0 0l46 104m0 0l45-72m0 0l45-21m0 0l45 82m0 0l46-69m0 0l45-4m0 0l45-72m0 0l46 100m0 0l45 16m0 0l45 35m0 0l46-113m0 0l45 79m0 0l45 14m0 0l45-26m0 0l46-28m0 0l45-64m0 0l45 71m0 0l46-29m0 0l45-46m0 0l45 90m0 0l45-28m0 0l46-5m0 0l45 85m0 0l45-96m0 0l46-60m0 0l45-6m0 0l45 106m0 0l46-29m0 0l45-21m0 0l45-53m0 0l45 50m0 0l46-12m0 0l45 39m0 0l45-29m0 0l46-1m0 0l45 31m0 0l45-29m0 0l46 43m0 0l45-144m0 0l45 83m0 0l45 94m0 0l46-39m0 0l45-50m0 0l45 35m0 0l46-16m0 0l45 8m0 0l45 69m0 0l46-71m0 0l45 23m0 0l45-41m0 0l45 4m0 0l46-31m0 0l45 34m0 0l45 9m0 0l46 3m0 0l45 14m0 0l45 1m0 0l45 22m0 0l46-34m0 0l45 58m0 0l45-27m0 0l46 29m0 0l45-55m0 0l45 48m0 0l46-43m0 0l45-68m0 0l45 63m0 0l45-7m0 0l46-49m0 0l45 17m0 0l45 15m0 0l46 110m0 0l45-76m0 0l45 58m0 0l46-35m0 0l45 6m0 0l45-11m0 0l45-89m0 0l46 105m0 0l45-87m0 0l45 55m0 0l46-21m0 0l45 66m0 0l45-17m0 0l46 24m0 0l45-52m0 0l45-19m0 0l45 29m0 0l46 62m0 0l45-72m0 0l45-19m0 0l46-49m0 0l45 18m0 0l45 25m0 0l46 28m0 0l45-2m0 0l45-28m0 0l45 8m0 0l46 53m0 0l45 12m0 0l45-25m0 0l46 12m0 0l45-12m0 0l45 22m0 0l45-118m0 0l46 28m0 0l45 28m0 0l45 5m0 0l46 36m0 0l45-122m0 0l45 75m0 0l46 4m0 0l45-36m0 0l45 20m0 0l45 43m0 0l46-21m0 0l45-23m0 0l45 12m0 0l46-13m0 0l45 40m0 0l45-40m0 0l46 41m0 0l45-60m0 0l45 20m0 0l45-42m0 0l46 34m0 0l45 39m0 0l45-71m0 0l46 25m0 0l45 17m0 0l45-18m0 0l46 45m0 0l45-80m0 0l45 79m0 0l45 17m0 0l46 13m0 0l45-67m0 0l45-29m0 0l46-30m0 0l45 86m0 0l45 5m0 0l46-21m0 0l45 1m0 0l45 12m0 0l45-40m0 0l46-43m0 0l45 1m0 0l45 24m0 0l46-6m0 0l45-26m0 0l45 44m0 0l45-24m0 0l46 64m0 0l45-29m0 0l45 33m0 0l46-82m0 0l45 8m0 0l45-19m0 0l46 71m0 0l45 108m0 0l45-112m0 0l45-25m0 0l46 24m0 0l45-10m0 0l45 37m0 0l46-38m0 0l45-34m0 0l45-40m0 0l46 86m0 0l45 24m0 0l45-33m0 0l45-40m0 0l46 16m0 0l45 4m0 0l45 34m0 0l46-26m0 0l45 47m0 0l45-53m0 0l46-18m0 0l45 95m0 0l45-110m0 0l45 8m0 0l46 109m0 0l45-70m0 0l45 57m0 0l46-165m0 0l45 143m0 0l45-49m0 0l46 4m0 0l45 14m0 0l45-125m0 0l45 70m0 0l46 51m0 0l45 106m0 0l45-153m0 0l46 118m0 0l45-66m0 0l45 14m0 0l45-77m0 0l46 59m0 0l45-57m0 0l45-14m0 0l46 95m0 0l45-77m0 0l45 7m0 0l46 45m0 0l45-58m0 0l45-18m0 0l45 56m0 0l46 1m0 0l45 47m0 0l45-102m0 0l46 70m0 0l45-1m0 0l45-45m0 0l46 10m0 0l45 6m0 0l45-41m0 0l45-13m0 0l46 77m0 0l45-69m0 0l45 2m0 0l46 67m0 0l45-53m0 0l45 4m0 0l46-39m0 0l45 5m0 0l45-7m0 0l45-1m0 0l46 99m0 0l45-87m0 0l45-53m0 0l46 45m0 0l45 68m0 0l45-74m0 0l46 41m0 0l45-36m0 0l45-33m0 0l45 45m0 0l46-20m0 0l45 44m0 0l45 19m0 0l46-32m0 0l45 102m0 0l45-144m0 0l45 91m0 0l46-37m0 0l45 35m0 0l45-35m0 0l46-108m0 0l45 72m0 0l45 50m0 0l46-41m0 0l45-53m0 0l45 27m0 0l45 32m0 0l46 32m0 0l45-72m0 0l45 25m0 0l46-42m0 0l45-12m0 0l45 24m0 0l46 70m0 0l45-26m0 0l45-41m0 0l45 8m0 0l46 19m0 0l45-27m0 0l45-14m0 0l46 3m0 0l45 34m0 0l45-41m0 0l46 43m0 0l45-104m0 0l45 41m0 0l45 10m0 0l46 37m0 0l45-60m0 0l45 13m0 0l46 31m0 0l45-18m0 0l45-24m0 0l45 11m0 0l46-24m0 0l45 64m0 0l45-16m0 0l46 15m0 0l45 52m0 0l45-40m0 0l46-30m0 0l45-25m0 0l45 89m0 0l45-78m0 0l46-19m0 0l45 56m0 0l45-34m0 0l46-27m0 0l45 25m0 0l45 57m0 0l46-70m0 0l45 8m0 0l45-49m0 0l45 15m0 0l46 51m0 0l45-39m0 0l45 7m0 0l46 36m0 0l45-55m0 0l45 71m0 0l46-85m0 0l45-5m0 0l45-3m0 0l45-28m0 0l46 77m0 0l45-21m0 0l45 51m0 0l46-81m0 0l45 55m0 0l45 22m0 0l46-60m0 0l45 1m0 0l45-89m0 0l45 168m0 0l46-80m0 0l45 31m0 0l45-46m0 0l46 32m0 0l45-57m0 0l45 72m0 0l45-25m0 0l46-18m0 0l45 31m0 0l45-85m0 0l46 74m0 0l45-23m0 0l45 72m0 0l46-26m0 0l45-36m0 0l45-4m0 0l45 125m0 0l46-151m0 0l45 110m0 0l45-37m0 0l46-5m0 0l45-102m0 0l45 105m0 0l46-50m0 0l45-15m0 0l45 57m0 0l45-49m0 0l46 49m0 0l45-57m0 0l45 59m0 0l46-5m0 0l45-48m0 0l45-4m0 0l46 11m0 0l45 6m0 0l45-2m0 0l45 95m0 0l46-54m0 0l45-29m0 0l45 2m0 0l46-17m0 0l45 42m0 0l45-12m0 0l46-23m0 0l45 1m0 0l45 11m0 0l45-23m0 0l46 45m0 0l45-38m0 0l45 57m0 0l46-32m0 0l45 34m0 0l45-41m0 0l45-48m0 0l46 22m0 0l45 41m0 0l45 27m0 0l46 2m0 0l45 5m0 0l45 8m0 0l46-11m0 0l45 5m0 0l45-24m0 0l45 31m0 0l46-24m0 0l45 3m0 0l45 11m0 0l46 82m0 0l45-142m0 0l45 39m0 0l46 10m0 0l45 28m0 0l45-14m0 0l45 63m0 0l46-120m0 0l45 130m0 0l45-115m0 0l46 22m0 0l45 50m0 0l45-17m0 0l46-2m0 0l45 5m0 0l45 14m0 0l45 23m0 0l46-19m0 0l45-62m0 0l45 22m0 0l46 81m0 0l45 23m0 0l45-36m0 0l46 7m0 0l45-27m0 0l45 68m0 0l45-99m0 0l46 11m0 0l45-15m0 0l45 91m0 0l46-78m0 0l45 41m0 0l45-70m0 0l45-2m0 0l46 96m0 0l45-9m0 0l45 7m0 0l46-23m0 0l45-17m0 0l45-3m0 0l46-25m0 0l45 30m0 0l45 67m0 0l45-55m0 0l46-42m0 0l45 42m0 0l45-26m0 0l46-5m0 0l45 41m0 0l45-23m0 0l46-17m0 0l45 107m0 0l45 9m0 0l45-58m0 0l46 52m0 0l45-71m0 0l45 17m0 0l46 53m0 0l45-37m0 0l45 22m0 0l46-134m0 0l45 117m0 0l45-26m0 0l45 14m0 0l46-52m0 0l45 30m0 0l45 53m0 0l46 1m0 0l45 9m0 0l45 5m0 0l46 11m0 0l45-26m0 0l45-22m0 0l45-11m0 0l46 7m0 0l45-19m0 0l45 0m0 0l46 36m0 0l45-82m0 0l45 42m0 0l45 17m0 0l46 52m0 0l45 23m0 0l45-27m0 0l46-13m0 0l45-15m0 0l45 62m0 0l46-14m0 0l45-51m0 0l45 26m0 0l45 18m0 0l46 20m0 0l45-46m0 0l45 71m0 0l46-11m0 0l45-59m0 0l45 10m0 0l46-27m0 0l45 2m0 0l45 48m0 0l45 43m0 0l46 2m0 0l45-46m0 0l45-20m0 0l46-9m0 0l45 42m0 0l45-33m0 0l46 46m0 0l45-31m0 0l45 17m0 0l45-30m0 0l46 97m0 0l45-32m0 0l45-39m0 0l46-36m0 0l45 55m0 0l45 8m0 0l45-70m0 0l46 46m0 0l45 76m0 0l45-70m0 0l46-21m0 0l45 38m0 0l45 47m0 0l46-85m0 0l45 1m0 0l45 8m0 0l45 12m0 0l46 43m0 0l45-32m0 0l45-97m0 0l46 102m0 0l45-1m0 0l45 9m0 0l46-13m0 0l45-15m0 0l45 24m0 0l45-45m0 0l46-38m0 0l45 51m0 0l45-29m0 0l46 105m0 0l45-68m0 0l45 63m0 0l46-110m0 0l45 5m0 0l45 62m0 0l45-81m0 0l46 40m0 0l45-49m0 0l45 89m0 0l46-81m0 0l45 60m0 0l45-62m0 0l46 85m0 0l45 22m0 0"/>
<text class="tk" x="201.6" y="1642.7" text-anchor="middle">0</text>
<text class="tk" x="428.1" y="1642.7" text-anchor="middle">500</text>
<text class="tk" x="654.6" y="1642.7" text-anchor="middle">1000</text>
<text class="tk" x="881.1" y="1642.7" text-anchor="middle">1500</text>
<text class="tk" x="1107.6" y="1642.7" text-anchor="middle">2000</text>
<text class="tk" x="1334.0" y="1642.7" text-anchor="middle">2500</text>
<text class="tk" x="1560.5" y="1642.7" text-anchor="middle">3000</text>
<text class="tk" x="1787.0" y="1642.7" text-anchor="middle">3500</text>
<text class="tk" x="2013.5" y="1642.7" text-anchor="middle">4000</text>
<text class="tk" x="2240.0" y="1642.7" text-anchor="middle">4500</text>
<text class="tk" x="183.8" y="63.9" text-anchor="end">5</text>
<text class="tk" x="183.8" y="233.7" text-anchor="end">0</text>
<text class="tk" x="183.8" y="403.4" text-anchor="end">-5</text>
<text class="tk" x="183.8" y="573.2" text-anchor="end">-10</text>
<text class="tk" x="183.8" y="742.9" text-anchor="end">-15</text>
<text class="tk" x="183.8" y="912.7" text-anchor="end">-20</text>
<text class="tk" x="183.8" y="1082.4" text-anchor="end">-25</text>
<text class="tk" x="183.8" y="1252.2" text-anchor="end">-30</text>
<text class="tk" x="183.8" y="1421.9" text-anchor="end">-35</text>
<text class="tk" x="183.8" y="1592.9" text-anchor="end">-40</text>
<text class="lb" x="1221.5" y="1719.3" text-anchor="middle">Number of iterations</text>
<text class="lb" transform="translate(81,805.5) rotate(-90)" text-anchor="middle">MSD (dB)</text>
<rect x="1387.5" y="64.9" width="829.9" height="329.1" fill="#fff" stroke="#262626" stroke-width="1.7"/>
<path d="M1394.7,99.8H1478.7" stroke="#0000ff" stroke-width="8.3" fill="none"/>
<text class="lg" x="1483" y="119.1" xml:space="preserve">(a) APA (M=8, </text>
<text class="mu" transform="translate(1817.1,119.1) scale(1.2,1)">μ</text>
<text class="lg" x="1850.8" y="119.1">=0.5)</text>
<path d="M1394.7,163.7H1478.7" stroke="#ff0000" stroke-width="8.3" fill="none"/>
<text class="lg" x="1483" y="183.9" xml:space="preserve">(b) DS-APA (M=8, </text>
<text class="mu" transform="translate(1905.1,183.9) scale(1.2,1)">μ</text>
<text class="lg" x="1938.8" y="183.9">=0.5)</text>
<path d="M1394.7,229.5H1478.7" stroke="#00ffff" stroke-width="8.3" fill="none"/>
<text class="lg" x="1483" y="248.8" xml:space="preserve">(c) SR-APA (M=8, r=0.5, </text>
<text class="mu" transform="translate(2046.2,248.8) scale(1.2,1)">μ</text>
<text class="lg" x="2080.0" y="248.8">=0.5)</text>
<path d="M1394.7,295.4H1478.7" stroke="#00ff00" stroke-width="8.3" fill="none"/>
<text class="lg" x="1483" y="313.6" xml:space="preserve">(d) E-APA (M=8, </text>
<text class="mu" transform="translate(1869.3,313.6) scale(1.2,1)">μ</text>
<text class="lg" x="1903.0" y="313.6">=0.5)</text>
<path d="M1394.7,360.0H1478.7" stroke="#000000" stroke-width="8.3" fill="none"/>
<text class="lg" x="1483" y="378.5" xml:space="preserve">(e) Proposed-APA (M=8, </text>
<text class="mu" transform="translate(2061.7,378.5) scale(1.2,1)">μ</text>
<text class="lg" x="2095.4" y="378.5">=0.5)</text>
<path d="M1342.4,1036.0L1242.4,1212.7" stroke="#000" stroke-width="1.4" fill="none"/><path d="M1232.0,1231.1L1236.4,1201.2L1242.4,1212.7L1255.4,1211.9Z" fill="#000"/>
<path d="M1521.8,1027.0L1421.3,1205.6" stroke="#000" stroke-width="1.4" fill="none"/><path d="M1410.9,1224.0L1415.2,1194.1L1421.3,1205.6L1434.2,1204.8Z" fill="#000"/>
<path d="M1739.7,1025.4L1561.7,1327.2" stroke="#000" stroke-width="1.4" fill="none"/><path d="M1551.0,1345.4L1555.9,1315.6L1561.7,1327.2L1574.7,1326.6Z" fill="#000"/>
<path d="M1968.4,1037.3L1812.4,1310.5" stroke="#000" stroke-width="1.4" fill="none"/><path d="M1801.9,1328.9L1806.4,1299.0L1812.4,1310.5L1825.3,1309.8Z" fill="#000"/>
<path d="M1104.7,1411.7L1149.4,1349.1" stroke="#000" stroke-width="1.4" fill="none"/><path d="M1161.7,1331.9L1154.2,1361.2L1149.4,1349.1L1136.4,1348.5Z" fill="#000"/>
<text class="an" x="1343.0" y="1023.3" text-anchor="middle">(a)</text>
<text class="an" x="1522.1" y="1014.9" text-anchor="middle">(c)</text>
<text class="an" x="1775.5" y="1012.8" text-anchor="middle">(b)</text>
<text class="an" x="1969.0" y="1025.2" text-anchor="middle">(d)</text>
<text class="an" x="1070.3" y="1467.9" text-anchor="middle">(e)</text>
</svg></body></html>
